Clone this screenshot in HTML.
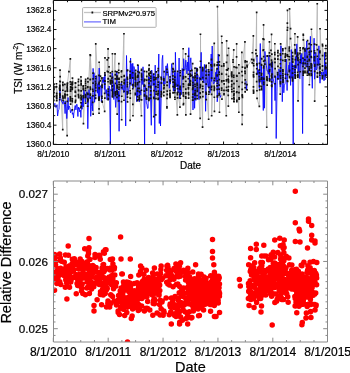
<!DOCTYPE html>
<html><head><meta charset="utf-8"><style>html,body{margin:0;padding:0;background:#fff;width:350px;height:373px;overflow:hidden}svg{display:block}</style></head>
<body><svg width="350" height="373" viewBox="0 0 350 373">
<rect width="350" height="373" fill="#fff"/>
<defs><clipPath id="c1"><rect x="53.5" y="0.5" width="274" height="144"/></clipPath><clipPath id="c2"><rect x="53.5" y="181" width="274" height="161"/></clipPath></defs>
<g clip-path="url(#c1)">
<polyline points="53.6,86.7 53.7,86.8 53.7,100.4 53.8,88.3 53.9,96.6 53.9,84.0 54.0,92.5 54.0,89.7 56.4,86.8 56.5,97.4 56.5,95.9 56.5,83.8 56.6,86.9 56.6,97.3 56.7,100.8 56.7,93.2 56.7,98.4 56.7,100.6 56.7,95.8 56.7,93.9 59.7,85.3 59.7,88.4 59.8,93.5 59.8,99.7 59.8,87.0 59.8,88.9 59.8,81.3 59.8,95.0 59.9,89.8 59.9,97.1 59.9,85.6 60.0,94.3 60.0,94.5 60.0,90.3 60.0,70.0 60.2,76.6 60.2,81.6 62.7,129.6 62.8,96.1 62.8,84.5 62.8,82.4 62.9,90.2 62.9,85.4 63.0,97.3 63.0,97.6 63.0,100.3 63.1,98.1 64.9,94.1 64.9,84.3 64.9,97.9 64.9,95.8 65.0,96.3 65.0,95.2 65.1,96.7 65.2,103.3 65.2,94.7 65.2,91.4 67.1,135.7 67.2,87.3 67.2,83.5 67.3,90.8 67.3,88.2 67.3,89.3 67.4,85.5 67.4,94.9 67.4,94.9 67.4,101.5 67.4,84.9 67.4,91.2 67.5,83.0 68.9,71.5 70.3,59.0 70.3,101.0 70.3,81.8 70.4,96.7 70.4,99.1 70.4,91.2 70.4,97.6 70.5,89.7 70.6,87.7 70.6,91.1 70.7,84.2 70.7,86.7 70.7,104.1 72.1,82.9 72.1,87.3 72.2,84.9 72.2,100.9 72.2,82.9 72.3,101.5 72.4,99.0 72.4,110.0 72.4,89.4 72.4,84.2 72.4,82.1 72.4,82.1 72.4,87.6 72.5,78.0 75.3,91.5 75.3,91.8 75.4,102.3 75.4,96.1 75.4,82.8 75.5,92.2 75.6,83.1 75.6,82.7 75.6,101.3 75.6,87.3 75.6,100.2 78.4,81.6 78.4,94.6 78.5,90.1 78.6,79.5 78.6,96.1 78.6,85.2 78.6,97.6 78.7,90.7 80.9,107.5 80.9,77.0 80.9,95.2 81.0,102.8 81.1,98.2 81.1,80.6 81.1,90.9 81.1,84.6 81.2,81.4 81.2,83.7 81.2,84.9 81.2,106.3 81.2,96.9 81.2,99.5 83.2,95.9 83.2,86.5 83.2,88.3 83.3,89.6 83.3,86.0 83.3,89.1 83.4,97.6 83.4,123.5 85.4,85.5 85.4,90.5 85.5,95.4 85.5,94.6 85.5,96.6 85.5,81.2 85.5,83.1 85.5,88.2 85.6,85.6 85.6,97.3 85.6,103.3 85.7,95.6 85.7,79.4 87.6,106.2 87.7,98.6 87.7,101.7 87.7,93.4 87.7,87.2 87.7,87.3 87.7,94.4 87.7,100.2 87.8,87.0 87.8,87.1 87.9,78.5 87.9,81.8 88.0,99.9 88.0,94.1 90.1,54.7 90.2,79.6 90.2,87.2 90.3,98.2 90.3,94.7 90.3,79.4 90.4,88.0 90.4,94.1 90.4,95.4 90.4,89.3 90.4,55.5 92.8,102.5 92.8,89.2 93.0,95.9 93.0,91.0 93.0,78.9 93.0,83.1 93.1,73.0 93.1,114.0 95.4,81.5 95.5,95.2 95.6,84.7 95.6,85.9 95.6,98.3 95.6,76.5 95.7,78.7 95.7,98.0 95.7,90.5 95.7,87.9 95.7,83.2 95.7,90.8 95.7,44.0 98.9,99.2 98.9,98.2 98.9,83.9 99.0,75.5 99.0,100.0 99.0,99.7 99.0,113.3 99.1,108.9 99.1,97.5 99.1,97.0 99.1,88.7 99.1,98.7 99.2,87.9 99.2,82.2 99.2,62.3 100.4,80.9 100.4,76.1 101.9,85.6 101.9,96.3 101.9,98.2 101.9,77.9 102.0,78.6 102.0,85.0 102.1,87.4 102.2,101.9 102.2,101.4 102.3,102.2 104.7,111.3 104.7,93.3 104.8,81.0 104.8,84.1 104.8,72.8 104.9,98.0 104.9,75.1 104.9,81.1 105.0,58.0 107.2,60.0 107.3,71.4 108.1,49.0 108.1,81.8 108.1,94.4 108.1,71.8 108.1,78.9 108.1,99.8 108.2,98.5 108.2,91.4 108.2,89.2 108.4,78.6 108.4,99.1 108.4,95.5 108.4,58.0 109.0,66.8 110.3,76.1 110.3,80.2 110.3,83.2 110.4,81.6 110.4,72.9 110.4,84.0 110.4,76.2 110.5,83.4 112.0,80.4 112.0,78.2 112.3,71.6 112.3,81.5 112.3,82.9 112.3,90.7 112.3,86.8 112.3,77.2 112.4,96.3 112.4,53.8 112.4,85.5 112.6,93.7 112.6,94.9 112.6,89.2 112.6,96.8 112.6,92.3 112.6,93.9 115.1,54.0 115.1,93.1 115.2,78.9 115.3,79.0 115.3,74.6 115.3,83.4 115.3,71.4 115.3,91.8 115.4,94.7 115.4,95.5 115.4,74.9 116.9,91.2 117.0,97.5 117.0,71.8 117.0,76.8 117.0,79.2 117.0,85.4 117.0,76.2 117.1,87.9 117.1,86.3 117.1,91.6 117.2,114.0 117.2,92.6 117.3,78.5 117.3,93.3 117.3,94.1 118.7,70.2 118.8,63.6 118.9,72.7 118.9,100.8 118.9,89.0 119.0,79.3 119.0,84.4 119.0,87.1 119.0,87.1 119.0,78.5 119.1,79.0 119.1,82.2 119.1,95.5 119.1,84.5 121.4,71.7 121.4,84.9 121.5,76.9 121.6,70.8 121.6,101.7 121.7,119.8 121.7,87.6 121.7,81.9 121.8,96.3 123.9,33.8 124.0,100.2 124.1,76.3 124.1,83.7 124.1,82.2 124.1,75.6 124.2,91.5 124.3,80.0 127.3,94.4 127.3,91.7 127.3,70.7 127.4,77.5 127.4,86.6 127.4,92.6 127.4,82.5 127.4,84.5 127.5,97.0 127.5,93.5 127.5,78.7 127.5,79.4 127.5,101.9 127.5,70.2 130.1,71.5 130.1,83.3 130.1,90.8 130.2,74.9 130.2,78.2 130.2,76.3 130.2,120.4 130.2,75.2 130.3,98.2 130.3,76.4 130.3,93.4 130.3,61.7 132.6,78.0 132.8,72.8 132.8,88.6 132.8,85.8 132.9,85.1 132.9,104.5 132.9,84.6 133.0,115.7 135.3,85.2 135.3,84.2 135.3,82.6 135.4,74.8 135.4,79.1 135.4,93.4 135.4,77.6 135.4,94.7 135.4,73.3 135.4,76.2 135.5,86.5 135.6,79.6 135.6,77.3 135.6,70.3 137.4,84.7 137.5,91.1 137.5,100.6 137.5,96.8 137.6,83.3 137.6,83.9 137.6,82.8 137.6,77.1 137.7,99.9 137.7,71.7 137.7,76.0 137.7,90.7 137.8,88.3 137.8,65.0 138.0,76.7 138.0,75.4 139.3,99.4 139.3,97.7 139.4,88.5 139.4,72.3 139.4,97.9 139.4,72.7 139.4,82.0 139.5,91.8 139.5,99.6 139.5,98.3 139.6,95.8 141.4,115.7 141.4,70.3 141.5,90.2 141.5,74.1 141.5,100.0 141.6,69.5 141.6,79.6 141.6,75.7 141.6,76.9 144.3,85.0 144.3,71.5 144.3,86.3 144.4,91.0 144.4,80.9 144.4,96.0 144.6,94.5 144.6,79.5 146.4,96.0 146.4,98.6 146.5,88.7 146.5,80.2 146.6,97.7 146.6,99.1 146.6,80.0 146.7,71.7 146.7,96.9 146.7,90.2 146.7,76.3 148.8,86.9 148.8,74.0 148.8,98.2 148.8,79.7 148.8,70.2 148.8,70.1 148.9,79.7 148.9,100.4 148.9,99.6 148.9,83.4 149.0,99.8 149.0,68.9 149.1,65.0 149.2,75.5 149.3,73.3 150.6,94.9 150.6,71.7 150.6,98.3 150.7,72.5 150.7,73.2 150.7,87.6 150.7,86.4 150.8,90.8 150.8,78.4 150.9,80.9 150.9,76.3 153.7,116.6 153.8,74.0 153.8,97.4 153.9,98.4 154.0,79.9 154.0,90.6 154.0,84.1 154.0,77.4 154.1,79.6 155.7,114.8 155.8,79.2 155.9,86.8 156.0,98.5 156.1,77.8 156.1,94.1 156.1,71.9 156.1,91.7 158.0,93.9 158.0,94.9 158.1,99.3 158.1,87.3 158.1,99.4 158.2,77.0 158.2,84.8 158.2,75.0 158.2,70.8 158.2,82.2 158.2,91.1 158.3,93.0 158.3,68.7 158.3,98.3 158.3,76.0 161.2,77.4 161.2,94.7 161.3,96.7 161.3,91.6 161.3,78.7 161.4,82.9 161.4,94.8 161.5,79.5 161.5,93.8 161.5,93.1 161.5,83.0 163.8,95.6 163.9,80.4 163.9,92.1 163.9,88.6 163.9,78.7 164.1,85.2 164.1,87.5 164.1,85.3 164.2,71.7 167.0,107.8 167.0,106.9 167.0,69.4 167.1,98.5 167.1,85.2 167.2,72.3 167.2,94.5 167.2,82.1 167.3,91.1 167.3,94.7 167.3,85.5 169.9,93.3 169.9,94.6 169.9,90.5 170.0,97.5 170.0,77.0 170.1,93.5 170.1,96.3 170.1,79.7 170.1,81.5 172.8,79.1 172.8,68.6 172.9,75.8 172.9,79.0 172.9,71.9 173.0,92.9 173.0,82.1 173.1,86.6 173.1,63.6 173.3,69.4 173.4,69.5 174.7,80.0 174.7,92.6 174.8,83.5 174.8,87.6 174.8,82.0 174.8,86.3 174.8,97.2 174.8,77.1 174.8,85.1 174.9,90.5 174.9,71.3 175.0,99.3 175.1,84.5 177.4,114.8 177.4,92.9 177.4,94.7 177.6,88.8 177.6,97.9 177.6,71.4 177.7,85.5 177.7,92.4 180.0,107.0 180.0,89.2 180.1,87.9 180.1,94.8 180.2,87.0 180.2,86.4 180.2,72.7 180.3,75.6 180.3,93.0 180.3,98.2 180.3,70.8 180.4,93.3 183.2,48.8 183.2,92.8 183.2,78.3 183.3,83.7 183.3,95.2 183.3,69.9 183.4,104.7 183.4,84.4 183.4,96.0 183.4,77.4 183.4,95.1 183.4,76.6 183.5,78.5 183.5,86.5 183.6,103.5 185.6,54.0 185.6,97.0 185.7,76.9 185.7,92.7 185.7,89.2 185.8,81.2 185.8,93.7 185.8,97.6 185.8,115.0 185.9,98.2 188.3,56.3 188.3,74.3 188.4,93.4 188.4,78.7 188.4,87.7 188.4,84.9 188.4,89.0 188.5,87.6 188.5,92.7 188.6,98.0 188.6,85.2 188.6,94.6 188.7,98.1 188.7,84.1 190.2,85.0 190.3,80.7 190.3,83.2 190.3,74.6 190.4,84.8 190.4,76.3 190.4,74.1 190.4,81.1 190.5,70.9 190.6,114.0 191.7,75.4 191.8,70.5 192.6,63.6 192.7,89.4 192.7,100.0 192.7,97.1 192.7,88.8 192.8,97.5 192.8,82.6 192.9,94.2 192.9,77.4 192.9,85.3 192.9,100.1 193.0,87.7 195.0,84.3 195.0,93.6 195.0,77.8 195.0,95.0 195.0,68.0 195.0,75.3 195.1,73.3 195.1,76.0 195.1,98.8 195.1,68.2 195.1,77.3 195.1,86.5 195.2,90.8 195.2,93.1 195.2,80.1 197.0,69.3 197.0,95.5 197.0,70.9 197.1,69.0 197.1,74.6 197.2,83.4 197.2,98.6 197.2,91.3 197.3,85.8 197.3,84.3 197.3,90.1 197.3,87.9 197.4,78.1 197.4,69.8 200.1,118.3 200.1,92.8 200.1,87.7 200.1,93.3 200.1,67.3 200.2,96.9 200.3,78.9 200.4,97.7 200.4,86.3 200.5,84.6 200.5,34.3 200.6,61.3 202.6,127.0 202.7,88.7 202.7,70.5 202.7,86.2 202.8,77.5 202.8,67.6 202.8,69.6 202.8,81.8 202.9,96.7 202.9,91.9 202.9,69.2 206.0,67.6 206.0,99.8 206.0,75.2 206.0,66.3 206.0,71.5 206.0,71.4 206.0,78.4 206.0,92.3 206.2,65.3 206.2,94.0 206.2,99.5 206.2,84.0 208.6,119.2 208.7,71.7 208.7,69.8 208.7,74.9 208.8,94.3 208.9,63.2 208.9,91.8 208.9,87.5 211.0,65.0 211.4,59.6 211.4,64.8 211.5,89.6 211.5,87.3 211.5,59.4 211.5,94.3 211.5,70.1 211.6,78.1 211.7,66.5 211.7,86.3 211.7,115.7 214.2,43.5 214.2,90.5 214.3,80.3 214.3,86.5 214.3,89.2 214.4,97.2 214.4,64.4 214.4,87.8 214.4,65.7 214.5,111.3 214.6,78.3 217.1,65.3 217.2,64.9 217.2,86.0 217.2,89.4 217.2,75.1 217.2,75.9 217.3,68.9 217.3,81.0 217.3,83.2 217.4,96.9 217.5,62.4 217.5,95.9 217.5,6.5 219.1,74.4 219.1,89.1 219.1,93.6 219.1,55.3 219.1,72.2 219.2,85.1 219.2,94.9 219.3,65.1 219.3,79.6 219.3,61.9 219.4,93.7 219.5,112.2 221.6,36.3 221.6,90.2 221.6,88.1 221.7,66.0 221.7,81.6 221.7,73.6 221.7,74.2 221.9,80.8 222.0,99.2 222.0,42.7 223.8,80.9 223.8,63.8 223.9,66.0 223.9,94.6 223.9,90.3 224.1,94.0 224.1,83.9 224.2,83.8 226.3,115.7 226.4,90.4 226.5,74.4 226.5,81.0 226.5,79.9 226.5,87.5 226.5,69.9 226.6,62.4 226.6,41.0 227.3,70.2 227.4,55.4 228.2,68.6 228.2,95.4 228.2,89.9 228.3,91.2 228.3,79.1 228.4,106.0 228.5,79.9 228.5,82.4 228.5,81.7 228.5,86.5 228.6,76.3 228.6,48.3 231.6,86.7 231.6,81.0 231.6,75.5 231.7,73.9 231.7,89.5 231.7,74.4 231.8,84.7 231.8,72.1 231.8,91.8 231.9,76.7 231.9,80.8 231.9,98.8 233.0,62.0 233.0,59.8 233.7,50.0 233.7,91.3 233.7,75.4 233.7,95.5 233.8,77.3 233.8,101.5 233.9,97.8 233.9,88.3 233.9,95.2 233.9,83.7 233.9,91.2 234.1,66.8 234.1,101.5 234.1,94.0 234.1,99.0 236.0,67.5 236.6,57.0 236.6,43.9 236.7,92.4 236.7,67.6 236.8,100.4 236.8,75.5 236.9,101.7 236.9,91.9 236.9,81.1 236.9,76.2 238.9,112.2 238.9,64.7 238.9,86.7 239.0,92.5 239.0,98.0 239.0,86.5 239.1,99.2 239.1,73.2 239.1,99.3 239.2,98.4 241.9,52.4 241.9,71.6 242.1,124.4 242.2,95.7 242.2,89.3 242.2,89.3 242.2,94.9 242.3,82.5 242.3,114.8 242.4,75.5 242.4,95.9 242.4,97.4 242.4,67.0 244.9,41.9 244.9,71.3 245.0,67.5 245.0,68.1 245.0,83.6 245.1,71.5 245.1,87.8 245.2,62.0 245.2,73.3 245.2,91.8 245.2,60.8 245.3,79.8 247.0,84.5 247.0,61.6 247.0,89.9 247.1,65.4 247.2,66.9 251.7,59.4 252.3,63.0 252.4,52.7 253.4,36.0 253.4,90.3 253.5,63.8 253.5,87.0 253.5,74.7 253.5,63.8 253.5,75.9 253.5,93.1 253.6,91.3 253.6,72.4 253.6,59.6 253.6,92.1 253.6,60.7 253.7,76.9 253.7,65.8 256.0,53.6 256.0,50.1 256.6,12.3 256.7,81.5 256.7,73.6 256.8,68.7 256.8,64.8 256.8,74.2 256.9,63.8 257.0,65.0 257.0,90.8 257.0,55.8 257.0,98.3 259.3,106.4 259.4,69.9 259.4,76.7 259.4,63.3 259.4,79.2 259.5,80.6 259.5,81.5 259.6,72.9 259.7,89.8 259.7,86.1 261.4,75.2 261.4,79.1 261.5,64.7 261.5,88.2 261.6,77.7 261.6,86.5 261.6,65.1 261.6,89.6 261.7,58.7 261.7,73.6 261.7,58.8 263.1,39.0 263.1,50.5 263.6,24.9 263.6,49.7 263.6,56.7 263.7,67.8 263.7,61.1 263.7,84.3 263.7,82.5 263.8,66.2 263.8,84.5 263.8,78.5 263.8,79.1 263.9,39.5 264.8,64.2 264.9,60.3 266.8,127.2 266.9,76.8 266.9,79.6 266.9,79.7 267.0,78.4 267.1,55.8 267.1,56.2 267.1,80.5 267.2,85.0 269.5,41.9 269.5,52.9 269.5,71.3 269.6,55.7 269.6,78.9 269.6,64.5 269.7,80.9 269.7,55.9 269.7,69.9 269.8,56.0 269.8,79.9 271.0,50.4 271.5,34.4 271.6,60.2 271.6,85.8 271.6,75.9 271.7,63.7 271.7,82.0 271.7,65.2 271.7,85.0 271.8,62.3 271.8,86.5 271.8,54.0 271.9,77.7 271.9,62.1 271.9,66.7 271.9,74.2 274.8,52.5 274.8,43.7 274.9,54.5 274.9,76.9 275.0,58.6 275.0,76.5 275.0,62.4 275.1,59.1 275.1,83.7 275.1,68.6 277.6,72.9 277.6,74.8 277.8,78.8 277.9,59.2 277.9,52.7 277.9,66.3 277.9,55.9 277.9,50.6 280.3,94.0 280.4,71.2 280.4,63.7 280.4,53.9 280.4,75.9 280.4,67.9 280.5,55.2 280.5,83.7 280.5,82.5 280.5,81.7 280.6,78.2 280.6,59.8 280.6,59.6 280.7,44.0 282.7,53.7 282.7,70.1 282.8,50.7 282.8,48.8 282.9,73.5 282.9,60.4 282.9,71.4 282.9,75.8 282.9,77.7 282.9,70.0 282.9,82.2 283.0,71.5 283.0,80.9 283.1,79.8 285.2,59.9 285.3,57.0 285.3,61.3 285.3,56.4 285.3,53.8 285.4,78.3 285.5,48.4 285.5,53.9 285.5,74.3 285.5,55.4 287.4,30.1 287.4,81.0 287.4,23.1 287.4,55.0 287.5,10.4 287.5,56.2 287.5,27.7 287.6,56.3 287.7,81.4 287.7,74.6 289.2,48.8 289.3,71.2 289.3,59.6 289.4,71.7 289.4,56.7 289.4,50.9 289.4,47.0 289.4,56.7 289.5,76.6 289.5,77.7 289.6,70.3 289.6,8.9 290.6,28.6 290.6,38.6 292.4,52.6 292.4,58.2 292.4,77.4 292.5,80.5 292.5,61.3 292.5,73.0 292.5,78.6 292.6,80.8 292.6,56.1 292.6,68.7 292.7,59.4 292.8,62.1 292.8,61.9 292.8,66.2 294.7,44.8 294.9,33.8 295.0,72.2 295.0,69.7 295.1,74.8 295.1,50.6 295.2,53.6 295.2,66.2 295.3,78.2 295.3,49.5 295.3,52.3 295.3,66.1 295.3,67.3 295.3,75.8 295.3,76.8 295.3,59.6 297.0,56.4 297.7,37.0 297.7,75.4 297.7,72.5 297.7,74.7 297.8,58.5 297.8,54.8 297.8,53.2 297.8,75.4 297.8,77.1 297.9,57.6 298.0,75.5 298.0,58.1 298.0,60.5 298.0,64.6 298.0,100.8 299.9,53.7 300.0,53.7 300.0,53.5 300.1,62.4 300.2,47.8 300.2,71.7 300.2,50.4 300.3,59.9 303.0,66.3 303.0,48.6 303.0,58.1 303.0,63.6 303.1,63.1 303.2,75.1 303.2,71.3 303.2,48.0 303.2,73.0 303.3,34.4 303.3,40.0 303.4,35.3 304.8,49.0 304.8,60.0 304.9,68.0 304.9,71.4 305.0,71.7 305.1,51.0 305.1,72.7 305.2,63.3 307.2,66.5 307.2,72.9 307.3,57.2 307.4,75.3 307.4,63.8 307.4,71.3 307.5,56.3 307.5,61.5 307.6,49.0 307.6,40.7 309.1,73.9 309.1,48.2 309.1,68.8 309.1,67.0 309.2,43.8 309.2,74.8 309.2,59.4 309.2,52.0 309.2,43.6 309.2,70.1 309.3,54.4 309.4,60.6 309.4,84.8 311.1,63.9 311.1,56.5 311.2,70.9 311.2,66.0 311.2,67.9 311.2,51.4 311.3,44.8 311.3,73.5 311.3,75.5 311.3,65.2 311.3,75.0 311.4,67.4 311.4,63.9 311.4,57.3 311.4,29.3 314.4,60.1 314.4,50.7 314.4,57.9 314.5,60.8 314.6,44.0 314.6,56.8 314.6,52.9 314.6,65.2 314.6,71.5 314.6,64.5 314.7,66.3 314.7,101.0 316.6,44.8 317.3,3.7 317.3,56.5 317.4,72.9 317.4,76.5 317.4,49.6 317.4,76.3 317.5,77.1 317.5,73.5 317.5,64.6 319.7,72.2 319.8,64.4 319.8,75.3 319.9,52.1 319.9,59.1 319.9,67.1 320.0,51.1 320.0,68.7 320.0,52.7 320.0,73.2 320.1,71.8 320.1,28.8 322.4,78.6 322.4,66.0 322.5,70.4 322.5,44.5 322.5,44.5 322.5,55.6 322.5,77.0 322.6,65.9 322.6,75.9 322.6,45.9 325.6,75.5 325.6,75.0 325.6,66.3 325.6,59.2 325.6,68.9 325.7,52.7 325.7,53.9 325.7,68.6 325.7,63.2 325.8,53.3 325.8,55.8 325.9,45.7 325.9,68.0" fill="none" stroke="#b0b0b0" stroke-width="0.8" stroke-linejoin="round"/>
<polyline points="53.6,106.8 54.4,104.4 54.9,103.3 55.3,107.1 55.8,107.6 56.5,107.1 57.0,104.7 57.6,116.0 58.4,110.2 59.0,109.6 59.8,87.7 60.6,98.3 61.1,98.9 61.9,102.3 62.5,102.1 63.0,104.2 63.4,101.8 63.9,100.7 64.3,102.5 65.1,113.6 65.7,101.1 66.1,104.9 66.8,118.6 67.5,108.2 68.1,97.5 68.5,109.6 69.1,105.9 69.9,107.8 70.5,112.7 71.1,110.7 71.8,109.6 72.4,114.3 73.0,112.9 73.5,118.0 73.9,113.2 74.3,111.1 75.0,105.5 75.4,105.7 75.9,109.9 76.5,104.5 77.1,104.3 77.9,116.5 78.4,107.1 78.8,109.2 79.2,107.7 79.8,111.9 80.3,110.1 80.9,117.4 81.6,102.0 82.1,109.3 82.8,97.5 83.2,106.9 83.8,89.9 84.6,94.3 85.4,102.1 86.0,95.5 86.9,91.7 87.3,97.7 87.8,128.7 88.4,104.0 89.0,89.6 89.8,97.8 90.3,96.7 90.7,116.3 91.4,106.3 91.9,96.1 92.7,111.0 93.1,68.4 93.6,79.3 94.1,72.7 94.6,102.3 95.2,87.9 95.7,83.2 96.1,80.0 96.7,75.6 97.4,93.2 97.9,83.8 98.4,99.0 98.8,86.4 99.2,68.0 99.7,96.8 100.2,85.5 101.0,87.7 101.4,101.8 102.0,83.9 102.7,79.7 103.3,82.5 103.9,77.0 104.4,89.5 104.9,73.7 105.3,92.6 106.0,93.5 106.4,89.6 106.8,99.8 107.6,99.6 108.1,90.1 108.7,96.6 109.2,85.9 109.7,100.3 110.4,146.0 110.8,89.4 111.3,90.9 112.1,73.0 112.6,75.2 113.4,80.7 113.8,99.5 114.4,84.4 115.1,96.9 115.7,107.4 116.4,95.3 116.8,71.2 117.4,93.6 118.1,102.1 118.5,91.2 119.1,131.3 119.7,96.1 120.3,85.6 120.9,83.7 121.5,82.2 122.2,89.6 123.0,85.0 123.7,92.6 124.5,88.3 125.2,78.7 125.7,126.0 126.1,90.6 126.5,55.5 127.0,78.6 127.4,82.9 128.1,93.8 128.8,89.2 129.5,85.6 130.0,74.3 130.6,58.0 131.1,85.5 131.9,63.7 132.3,78.6 132.8,63.3 133.4,88.1 133.9,66.5 134.6,69.6 135.2,82.7 135.8,79.8 136.1,81.0 136.6,101.6 137.3,88.9 137.8,96.1 138.2,65.0 138.8,74.4 139.3,102.0 140.1,90.0 140.8,95.1 141.5,72.7 142.3,84.5 143.0,66.8 143.5,76.1 144.2,108.2 144.6,146.0 145.1,84.8 145.6,90.6 146.0,99.0 146.4,103.1 146.9,104.0 147.6,108.6 148.1,108.1 148.5,76.6 149.0,86.8 149.5,77.3 150.2,86.2 150.6,99.0 151.3,125.3 151.7,70.0 152.3,74.8 153.1,85.7 153.6,75.1 154.2,77.8 154.8,134.0 155.2,65.1 155.5,89.7 156.3,91.7 156.8,89.9 157.5,77.6 158.1,78.5 158.8,54.0 159.3,123.5 159.9,81.4 160.5,126.0 161.2,98.4 161.6,83.0 162.1,59.8 162.7,55.3 163.4,84.4 163.8,76.4 164.4,83.9 165.1,84.1 165.8,66.0 166.3,65.8 166.9,75.5 167.4,63.6 167.9,70.0 168.4,73.3 169.3,88.3 169.6,79.6 170.4,84.1 170.8,78.9 171.2,72.7 171.7,63.6 172.2,67.8 172.9,81.6 173.7,91.2 174.5,72.4 175.1,91.2 175.4,52.3 176.1,82.1 176.9,87.0 177.3,72.5 178.1,92.9 178.4,87.6 179.1,58.0 179.7,98.9 180.5,89.1 181.3,94.7 181.7,85.1 182.3,68.4 182.8,79.9 183.3,77.7 183.7,58.7 184.3,70.0 184.8,70.3 185.2,69.5 185.8,60.2 186.5,67.5 186.9,73.9 187.7,62.0 188.3,70.9 188.8,47.7 189.6,83.1 190.2,63.7 190.8,57.8 191.3,67.9 192.1,71.4 192.5,80.1 193.0,110.0 193.5,83.3 193.9,76.3 194.6,108.3 195.2,88.4 195.9,100.5 196.7,67.6 197.3,84.9 197.8,74.8 198.4,96.3 199.0,99.7 199.5,76.9 200.0,77.4 200.5,80.2 201.2,52.3 201.6,80.3 202.5,79.2 202.9,69.5 203.4,78.0 203.9,83.0 204.4,64.4 204.9,72.4 205.6,111.3 206.4,70.6 206.9,69.1 207.6,83.6 208.2,87.4 208.7,83.0 209.1,71.2 209.9,93.3 210.5,89.0 211.2,54.0 211.5,81.4 212.2,46.0 212.7,74.8 213.3,84.1 214.0,83.4 214.4,81.8 215.0,81.9 215.8,72.2 216.2,81.9 216.8,68.4 217.2,101.8 217.7,97.3 218.3,54.0 218.8,88.8 219.5,92.0 220.3,97.4 221.0,95.3" fill="none" stroke="#0000ff" stroke-width="0.85" stroke-linejoin="round"/>
<polyline points="256.8,55.5 257.6,73.9 258.4,70.1 258.9,80.0 259.3,88.4 259.7,64.3 260.3,43.5 261.0,81.8 261.4,64.2 262.0,84.5 262.5,76.5 263.3,110.5 263.7,68.6 264.4,108.2 264.9,51.4 265.6,59.2 266.4,65.7 267.1,71.0 267.9,71.1 268.4,74.2 268.9,55.2 269.3,81.2 269.8,64.3 270.2,63.3 270.9,65.0 271.3,70.9 271.8,114.0 272.5,61.8 273.2,78.7 274.1,83.8 274.6,83.5 275.0,100.6 275.7,76.3 276.2,138.5 277.0,91.2 277.3,71.8 277.7,78.5 278.4,79.3 279.0,68.9 279.7,77.1 280.3,87.1 280.9,45.8 281.4,74.9 281.8,76.7 282.3,101.7 282.9,74.2 283.4,84.1 283.8,92.8 284.4,85.1 285.0,83.9 285.4,78.3 286.3,59.0 287.1,90.5 287.4,74.6 288.0,71.6 288.5,67.9 289.0,65.0 289.4,70.7 289.8,62.3 290.2,74.8 290.6,85.4 291.3,49.5 291.7,78.3 292.5,63.5 293.2,146.0 293.7,65.6 294.4,64.9 295.2,78.6 295.6,56.5 296.2,68.5 296.8,43.9 297.3,60.9 297.8,54.3 298.2,71.8 298.9,60.8 299.4,78.0 299.9,78.7 300.7,54.7 301.3,64.0 301.8,53.3 302.6,133.6 303.2,58.4 303.9,65.4 304.3,60.0 305.0,47.7 305.5,58.6 306.1,67.2 306.7,41.0 307.1,51.9 307.9,71.0 308.6,73.8 309.4,49.8 309.9,57.9 310.4,36.3 310.8,62.5 311.3,73.5 311.8,74.0 312.3,88.3 312.8,64.2 313.3,63.9 314.1,38.2 314.6,79.2 315.4,66.9 315.8,52.4 316.2,70.0 317.0,68.2 317.4,58.1 317.8,60.4 318.4,65.4 318.9,45.8 319.4,76.4 320.0,83.2 320.7,76.5 321.1,75.5 321.7,72.0 322.3,78.5 323.1,71.8 323.5,72.0 324.0,80.8 324.6,52.4 325.0,79.9 325.7,63.4 326.5,76.1 327.1,66.9" fill="none" stroke="#0000ff" stroke-width="0.85" stroke-linejoin="round"/>
<polyline points="245.9,81.0 246.4,90.0 246.9,84.0" fill="none" stroke="#0000ff" stroke-width="0.85" stroke-linejoin="round"/>
<path d="M52.8,85.8h1.7v1.7h-1.7zM52.8,85.9h1.7v1.7h-1.7zM52.9,99.5h1.7v1.7h-1.7zM53.0,87.5h1.7v1.7h-1.7zM53.0,95.8h1.7v1.7h-1.7zM53.1,83.2h1.7v1.7h-1.7zM53.1,91.7h1.7v1.7h-1.7zM53.1,88.8h1.7v1.7h-1.7zM55.6,86.0h1.7v1.7h-1.7zM55.6,96.5h1.7v1.7h-1.7zM55.6,95.0h1.7v1.7h-1.7zM55.6,82.9h1.7v1.7h-1.7zM55.7,86.0h1.7v1.7h-1.7zM55.8,96.5h1.7v1.7h-1.7zM55.8,99.9h1.7v1.7h-1.7zM55.8,92.4h1.7v1.7h-1.7zM55.9,97.5h1.7v1.7h-1.7zM55.9,99.8h1.7v1.7h-1.7zM55.9,94.9h1.7v1.7h-1.7zM55.9,93.0h1.7v1.7h-1.7zM58.9,84.5h1.7v1.7h-1.7zM58.9,87.5h1.7v1.7h-1.7zM58.9,92.7h1.7v1.7h-1.7zM58.9,98.8h1.7v1.7h-1.7zM59.0,86.1h1.7v1.7h-1.7zM59.0,88.0h1.7v1.7h-1.7zM59.0,80.4h1.7v1.7h-1.7zM59.0,94.2h1.7v1.7h-1.7zM59.0,89.0h1.7v1.7h-1.7zM59.0,96.2h1.7v1.7h-1.7zM59.1,84.7h1.7v1.7h-1.7zM59.1,93.4h1.7v1.7h-1.7zM59.2,93.7h1.7v1.7h-1.7zM59.2,89.4h1.7v1.7h-1.7zM59.2,69.2h1.7v1.7h-1.7zM59.3,75.8h1.7v1.7h-1.7zM59.4,80.8h1.7v1.7h-1.7zM61.9,128.8h1.7v1.7h-1.7zM61.9,95.3h1.7v1.7h-1.7zM62.0,83.7h1.7v1.7h-1.7zM62.0,81.6h1.7v1.7h-1.7zM62.0,89.4h1.7v1.7h-1.7zM62.1,84.6h1.7v1.7h-1.7zM62.1,96.4h1.7v1.7h-1.7zM62.2,96.8h1.7v1.7h-1.7zM62.2,99.5h1.7v1.7h-1.7zM62.2,97.3h1.7v1.7h-1.7zM64.0,93.3h1.7v1.7h-1.7zM64.0,83.5h1.7v1.7h-1.7zM64.1,97.0h1.7v1.7h-1.7zM64.1,95.0h1.7v1.7h-1.7zM64.1,95.4h1.7v1.7h-1.7zM64.1,94.4h1.7v1.7h-1.7zM64.2,95.8h1.7v1.7h-1.7zM64.3,102.4h1.7v1.7h-1.7zM64.4,93.8h1.7v1.7h-1.7zM64.4,90.5h1.7v1.7h-1.7zM66.3,134.8h1.7v1.7h-1.7zM66.3,86.4h1.7v1.7h-1.7zM66.4,82.7h1.7v1.7h-1.7zM66.4,90.0h1.7v1.7h-1.7zM66.5,87.3h1.7v1.7h-1.7zM66.5,88.4h1.7v1.7h-1.7zM66.5,84.7h1.7v1.7h-1.7zM66.5,94.1h1.7v1.7h-1.7zM66.5,94.1h1.7v1.7h-1.7zM66.5,100.6h1.7v1.7h-1.7zM66.5,84.0h1.7v1.7h-1.7zM66.6,90.3h1.7v1.7h-1.7zM66.7,82.2h1.7v1.7h-1.7zM68.1,70.7h1.7v1.7h-1.7zM69.5,58.1h1.7v1.7h-1.7zM69.5,100.1h1.7v1.7h-1.7zM69.5,81.0h1.7v1.7h-1.7zM69.5,95.9h1.7v1.7h-1.7zM69.5,98.3h1.7v1.7h-1.7zM69.6,90.3h1.7v1.7h-1.7zM69.6,96.8h1.7v1.7h-1.7zM69.7,88.8h1.7v1.7h-1.7zM69.8,86.9h1.7v1.7h-1.7zM69.8,90.3h1.7v1.7h-1.7zM69.8,83.4h1.7v1.7h-1.7zM69.8,85.9h1.7v1.7h-1.7zM69.8,103.3h1.7v1.7h-1.7zM71.3,82.1h1.7v1.7h-1.7zM71.3,86.4h1.7v1.7h-1.7zM71.3,84.0h1.7v1.7h-1.7zM71.4,100.1h1.7v1.7h-1.7zM71.4,82.0h1.7v1.7h-1.7zM71.5,100.7h1.7v1.7h-1.7zM71.5,98.1h1.7v1.7h-1.7zM71.5,109.1h1.7v1.7h-1.7zM71.5,88.5h1.7v1.7h-1.7zM71.5,83.3h1.7v1.7h-1.7zM71.5,81.3h1.7v1.7h-1.7zM71.5,81.2h1.7v1.7h-1.7zM71.6,86.7h1.7v1.7h-1.7zM71.6,77.2h1.7v1.7h-1.7zM74.4,90.6h1.7v1.7h-1.7zM74.4,91.0h1.7v1.7h-1.7zM74.5,101.5h1.7v1.7h-1.7zM74.5,95.2h1.7v1.7h-1.7zM74.5,82.0h1.7v1.7h-1.7zM74.6,91.4h1.7v1.7h-1.7zM74.7,82.3h1.7v1.7h-1.7zM74.7,81.9h1.7v1.7h-1.7zM74.7,100.4h1.7v1.7h-1.7zM74.7,86.4h1.7v1.7h-1.7zM74.8,99.4h1.7v1.7h-1.7zM77.5,80.8h1.7v1.7h-1.7zM77.5,93.7h1.7v1.7h-1.7zM77.7,89.2h1.7v1.7h-1.7zM77.7,78.6h1.7v1.7h-1.7zM77.7,95.2h1.7v1.7h-1.7zM77.8,84.4h1.7v1.7h-1.7zM77.8,96.8h1.7v1.7h-1.7zM77.8,89.9h1.7v1.7h-1.7zM80.0,106.7h1.7v1.7h-1.7zM80.1,76.1h1.7v1.7h-1.7zM80.1,94.4h1.7v1.7h-1.7zM80.1,101.9h1.7v1.7h-1.7zM80.2,97.3h1.7v1.7h-1.7zM80.3,79.8h1.7v1.7h-1.7zM80.3,90.0h1.7v1.7h-1.7zM80.3,83.8h1.7v1.7h-1.7zM80.3,80.6h1.7v1.7h-1.7zM80.3,82.8h1.7v1.7h-1.7zM80.3,84.1h1.7v1.7h-1.7zM80.4,105.4h1.7v1.7h-1.7zM80.4,96.0h1.7v1.7h-1.7zM80.4,98.7h1.7v1.7h-1.7zM82.3,95.0h1.7v1.7h-1.7zM82.3,85.6h1.7v1.7h-1.7zM82.4,87.5h1.7v1.7h-1.7zM82.4,88.7h1.7v1.7h-1.7zM82.4,85.1h1.7v1.7h-1.7zM82.5,88.2h1.7v1.7h-1.7zM82.6,96.8h1.7v1.7h-1.7zM82.6,122.7h1.7v1.7h-1.7zM84.6,84.6h1.7v1.7h-1.7zM84.6,89.6h1.7v1.7h-1.7zM84.6,94.5h1.7v1.7h-1.7zM84.6,93.8h1.7v1.7h-1.7zM84.7,95.7h1.7v1.7h-1.7zM84.7,80.4h1.7v1.7h-1.7zM84.7,82.2h1.7v1.7h-1.7zM84.7,87.3h1.7v1.7h-1.7zM84.7,84.7h1.7v1.7h-1.7zM84.8,96.5h1.7v1.7h-1.7zM84.8,102.4h1.7v1.7h-1.7zM84.8,94.7h1.7v1.7h-1.7zM84.8,78.5h1.7v1.7h-1.7zM86.8,105.4h1.7v1.7h-1.7zM86.8,97.8h1.7v1.7h-1.7zM86.8,100.8h1.7v1.7h-1.7zM86.8,92.5h1.7v1.7h-1.7zM86.8,86.3h1.7v1.7h-1.7zM86.9,86.5h1.7v1.7h-1.7zM86.9,93.5h1.7v1.7h-1.7zM86.9,99.3h1.7v1.7h-1.7zM86.9,86.1h1.7v1.7h-1.7zM87.0,86.3h1.7v1.7h-1.7zM87.0,77.6h1.7v1.7h-1.7zM87.1,81.0h1.7v1.7h-1.7zM87.1,99.0h1.7v1.7h-1.7zM87.1,93.3h1.7v1.7h-1.7zM89.3,53.9h1.7v1.7h-1.7zM89.3,78.7h1.7v1.7h-1.7zM89.4,86.3h1.7v1.7h-1.7zM89.4,97.3h1.7v1.7h-1.7zM89.5,93.9h1.7v1.7h-1.7zM89.5,78.6h1.7v1.7h-1.7zM89.5,87.2h1.7v1.7h-1.7zM89.6,93.3h1.7v1.7h-1.7zM89.6,94.5h1.7v1.7h-1.7zM89.6,88.5h1.7v1.7h-1.7zM89.6,54.6h1.7v1.7h-1.7zM91.9,101.6h1.7v1.7h-1.7zM91.9,88.4h1.7v1.7h-1.7zM92.1,95.0h1.7v1.7h-1.7zM92.2,90.2h1.7v1.7h-1.7zM92.2,78.1h1.7v1.7h-1.7zM92.2,82.2h1.7v1.7h-1.7zM92.2,72.2h1.7v1.7h-1.7zM92.3,113.2h1.7v1.7h-1.7zM94.6,80.6h1.7v1.7h-1.7zM94.6,94.4h1.7v1.7h-1.7zM94.7,83.9h1.7v1.7h-1.7zM94.7,85.0h1.7v1.7h-1.7zM94.7,97.5h1.7v1.7h-1.7zM94.7,75.7h1.7v1.7h-1.7zM94.8,77.9h1.7v1.7h-1.7zM94.8,97.2h1.7v1.7h-1.7zM94.9,89.7h1.7v1.7h-1.7zM94.9,87.1h1.7v1.7h-1.7zM94.9,82.4h1.7v1.7h-1.7zM94.9,89.9h1.7v1.7h-1.7zM94.9,43.1h1.7v1.7h-1.7zM98.0,98.4h1.7v1.7h-1.7zM98.0,97.4h1.7v1.7h-1.7zM98.1,83.1h1.7v1.7h-1.7zM98.1,74.6h1.7v1.7h-1.7zM98.1,99.2h1.7v1.7h-1.7zM98.2,98.9h1.7v1.7h-1.7zM98.2,112.4h1.7v1.7h-1.7zM98.2,108.1h1.7v1.7h-1.7zM98.2,96.6h1.7v1.7h-1.7zM98.3,96.2h1.7v1.7h-1.7zM98.3,87.8h1.7v1.7h-1.7zM98.3,97.9h1.7v1.7h-1.7zM98.3,87.0h1.7v1.7h-1.7zM98.3,81.4h1.7v1.7h-1.7zM98.3,61.4h1.7v1.7h-1.7zM99.6,80.1h1.7v1.7h-1.7zM99.6,75.3h1.7v1.7h-1.7zM101.1,84.8h1.7v1.7h-1.7zM101.1,95.5h1.7v1.7h-1.7zM101.1,97.4h1.7v1.7h-1.7zM101.1,77.1h1.7v1.7h-1.7zM101.1,77.7h1.7v1.7h-1.7zM101.2,84.2h1.7v1.7h-1.7zM101.2,86.5h1.7v1.7h-1.7zM101.3,101.0h1.7v1.7h-1.7zM101.4,100.6h1.7v1.7h-1.7zM101.4,101.3h1.7v1.7h-1.7zM103.8,110.5h1.7v1.7h-1.7zM103.8,92.5h1.7v1.7h-1.7zM103.9,80.1h1.7v1.7h-1.7zM103.9,83.2h1.7v1.7h-1.7zM104.0,72.0h1.7v1.7h-1.7zM104.0,97.2h1.7v1.7h-1.7zM104.1,74.2h1.7v1.7h-1.7zM104.1,80.3h1.7v1.7h-1.7zM104.1,57.1h1.7v1.7h-1.7zM106.4,59.1h1.7v1.7h-1.7zM106.5,70.6h1.7v1.7h-1.7zM107.2,48.1h1.7v1.7h-1.7zM107.2,80.9h1.7v1.7h-1.7zM107.2,93.5h1.7v1.7h-1.7zM107.3,71.0h1.7v1.7h-1.7zM107.3,78.0h1.7v1.7h-1.7zM107.3,98.9h1.7v1.7h-1.7zM107.4,97.6h1.7v1.7h-1.7zM107.4,90.5h1.7v1.7h-1.7zM107.4,88.3h1.7v1.7h-1.7zM107.5,77.7h1.7v1.7h-1.7zM107.5,98.3h1.7v1.7h-1.7zM107.6,94.6h1.7v1.7h-1.7zM107.6,57.1h1.7v1.7h-1.7zM108.2,66.0h1.7v1.7h-1.7zM109.4,75.3h1.7v1.7h-1.7zM109.4,79.4h1.7v1.7h-1.7zM109.5,82.3h1.7v1.7h-1.7zM109.5,80.7h1.7v1.7h-1.7zM109.5,72.1h1.7v1.7h-1.7zM109.6,83.1h1.7v1.7h-1.7zM109.6,75.3h1.7v1.7h-1.7zM109.6,82.6h1.7v1.7h-1.7zM111.1,79.6h1.7v1.7h-1.7zM111.1,77.4h1.7v1.7h-1.7zM111.4,70.8h1.7v1.7h-1.7zM111.4,80.7h1.7v1.7h-1.7zM111.4,82.1h1.7v1.7h-1.7zM111.5,89.8h1.7v1.7h-1.7zM111.5,85.9h1.7v1.7h-1.7zM111.5,76.4h1.7v1.7h-1.7zM111.5,95.5h1.7v1.7h-1.7zM111.6,52.9h1.7v1.7h-1.7zM111.6,84.7h1.7v1.7h-1.7zM111.7,92.8h1.7v1.7h-1.7zM111.7,94.1h1.7v1.7h-1.7zM111.8,88.3h1.7v1.7h-1.7zM111.8,96.0h1.7v1.7h-1.7zM111.8,91.4h1.7v1.7h-1.7zM111.8,93.1h1.7v1.7h-1.7zM114.2,53.1h1.7v1.7h-1.7zM114.3,92.3h1.7v1.7h-1.7zM114.4,78.0h1.7v1.7h-1.7zM114.4,78.1h1.7v1.7h-1.7zM114.4,73.7h1.7v1.7h-1.7zM114.5,82.6h1.7v1.7h-1.7zM114.5,70.5h1.7v1.7h-1.7zM114.5,90.9h1.7v1.7h-1.7zM114.5,93.8h1.7v1.7h-1.7zM114.5,94.7h1.7v1.7h-1.7zM114.5,74.0h1.7v1.7h-1.7zM116.1,90.3h1.7v1.7h-1.7zM116.1,96.6h1.7v1.7h-1.7zM116.1,71.0h1.7v1.7h-1.7zM116.1,76.0h1.7v1.7h-1.7zM116.2,78.4h1.7v1.7h-1.7zM116.2,84.6h1.7v1.7h-1.7zM116.2,75.3h1.7v1.7h-1.7zM116.3,87.0h1.7v1.7h-1.7zM116.3,85.4h1.7v1.7h-1.7zM116.3,90.8h1.7v1.7h-1.7zM116.3,113.2h1.7v1.7h-1.7zM116.4,91.8h1.7v1.7h-1.7zM116.4,77.7h1.7v1.7h-1.7zM116.4,92.4h1.7v1.7h-1.7zM116.4,93.3h1.7v1.7h-1.7zM117.8,69.4h1.7v1.7h-1.7zM118.0,62.8h1.7v1.7h-1.7zM118.0,71.9h1.7v1.7h-1.7zM118.1,100.0h1.7v1.7h-1.7zM118.1,88.2h1.7v1.7h-1.7zM118.1,78.4h1.7v1.7h-1.7zM118.2,83.6h1.7v1.7h-1.7zM118.2,86.3h1.7v1.7h-1.7zM118.2,86.3h1.7v1.7h-1.7zM118.2,77.6h1.7v1.7h-1.7zM118.2,78.2h1.7v1.7h-1.7zM118.2,81.3h1.7v1.7h-1.7zM118.2,94.7h1.7v1.7h-1.7zM118.3,83.7h1.7v1.7h-1.7zM120.5,70.8h1.7v1.7h-1.7zM120.6,84.1h1.7v1.7h-1.7zM120.7,76.0h1.7v1.7h-1.7zM120.7,70.0h1.7v1.7h-1.7zM120.7,100.8h1.7v1.7h-1.7zM120.8,118.9h1.7v1.7h-1.7zM120.8,86.8h1.7v1.7h-1.7zM120.8,81.0h1.7v1.7h-1.7zM120.9,95.4h1.7v1.7h-1.7zM123.1,32.9h1.7v1.7h-1.7zM123.1,99.4h1.7v1.7h-1.7zM123.3,75.4h1.7v1.7h-1.7zM123.3,82.8h1.7v1.7h-1.7zM123.3,81.4h1.7v1.7h-1.7zM123.3,74.8h1.7v1.7h-1.7zM123.3,90.6h1.7v1.7h-1.7zM123.4,79.2h1.7v1.7h-1.7zM126.4,93.6h1.7v1.7h-1.7zM126.4,90.9h1.7v1.7h-1.7zM126.4,69.8h1.7v1.7h-1.7zM126.5,76.6h1.7v1.7h-1.7zM126.5,85.7h1.7v1.7h-1.7zM126.6,91.8h1.7v1.7h-1.7zM126.6,81.6h1.7v1.7h-1.7zM126.6,83.7h1.7v1.7h-1.7zM126.6,96.2h1.7v1.7h-1.7zM126.6,92.6h1.7v1.7h-1.7zM126.6,77.9h1.7v1.7h-1.7zM126.7,78.6h1.7v1.7h-1.7zM126.7,101.0h1.7v1.7h-1.7zM126.7,69.3h1.7v1.7h-1.7zM129.3,70.6h1.7v1.7h-1.7zM129.3,82.5h1.7v1.7h-1.7zM129.3,89.9h1.7v1.7h-1.7zM129.3,74.0h1.7v1.7h-1.7zM129.3,77.3h1.7v1.7h-1.7zM129.3,75.4h1.7v1.7h-1.7zM129.3,119.6h1.7v1.7h-1.7zM129.4,74.3h1.7v1.7h-1.7zM129.4,97.3h1.7v1.7h-1.7zM129.4,75.6h1.7v1.7h-1.7zM129.5,92.5h1.7v1.7h-1.7zM129.5,60.8h1.7v1.7h-1.7zM131.8,77.1h1.7v1.7h-1.7zM131.9,71.9h1.7v1.7h-1.7zM131.9,87.7h1.7v1.7h-1.7zM132.0,84.9h1.7v1.7h-1.7zM132.0,84.3h1.7v1.7h-1.7zM132.0,103.6h1.7v1.7h-1.7zM132.1,83.8h1.7v1.7h-1.7zM132.1,114.9h1.7v1.7h-1.7zM134.4,84.4h1.7v1.7h-1.7zM134.5,83.3h1.7v1.7h-1.7zM134.5,81.8h1.7v1.7h-1.7zM134.5,73.9h1.7v1.7h-1.7zM134.5,78.2h1.7v1.7h-1.7zM134.5,92.5h1.7v1.7h-1.7zM134.5,76.7h1.7v1.7h-1.7zM134.5,93.8h1.7v1.7h-1.7zM134.6,72.4h1.7v1.7h-1.7zM134.6,75.4h1.7v1.7h-1.7zM134.6,85.6h1.7v1.7h-1.7zM134.7,78.8h1.7v1.7h-1.7zM134.7,76.5h1.7v1.7h-1.7zM134.8,69.5h1.7v1.7h-1.7zM136.6,83.9h1.7v1.7h-1.7zM136.6,90.2h1.7v1.7h-1.7zM136.7,99.8h1.7v1.7h-1.7zM136.7,95.9h1.7v1.7h-1.7zM136.7,82.4h1.7v1.7h-1.7zM136.7,83.1h1.7v1.7h-1.7zM136.8,81.9h1.7v1.7h-1.7zM136.8,76.3h1.7v1.7h-1.7zM136.8,99.1h1.7v1.7h-1.7zM136.9,70.8h1.7v1.7h-1.7zM136.9,75.2h1.7v1.7h-1.7zM136.9,89.8h1.7v1.7h-1.7zM136.9,87.5h1.7v1.7h-1.7zM136.9,64.2h1.7v1.7h-1.7zM137.2,75.8h1.7v1.7h-1.7zM137.2,74.5h1.7v1.7h-1.7zM138.4,98.5h1.7v1.7h-1.7zM138.5,96.9h1.7v1.7h-1.7zM138.5,87.6h1.7v1.7h-1.7zM138.5,71.4h1.7v1.7h-1.7zM138.6,97.0h1.7v1.7h-1.7zM138.6,71.8h1.7v1.7h-1.7zM138.6,81.1h1.7v1.7h-1.7zM138.7,91.0h1.7v1.7h-1.7zM138.7,98.8h1.7v1.7h-1.7zM138.7,97.4h1.7v1.7h-1.7zM138.7,95.0h1.7v1.7h-1.7zM140.6,114.9h1.7v1.7h-1.7zM140.6,69.4h1.7v1.7h-1.7zM140.6,89.4h1.7v1.7h-1.7zM140.7,73.2h1.7v1.7h-1.7zM140.7,99.1h1.7v1.7h-1.7zM140.7,68.6h1.7v1.7h-1.7zM140.7,78.8h1.7v1.7h-1.7zM140.7,74.9h1.7v1.7h-1.7zM140.8,76.1h1.7v1.7h-1.7zM143.4,84.2h1.7v1.7h-1.7zM143.5,70.6h1.7v1.7h-1.7zM143.5,85.4h1.7v1.7h-1.7zM143.5,90.2h1.7v1.7h-1.7zM143.5,80.0h1.7v1.7h-1.7zM143.6,95.1h1.7v1.7h-1.7zM143.7,93.7h1.7v1.7h-1.7zM143.8,78.6h1.7v1.7h-1.7zM145.6,95.2h1.7v1.7h-1.7zM145.6,97.8h1.7v1.7h-1.7zM145.6,87.9h1.7v1.7h-1.7zM145.7,79.3h1.7v1.7h-1.7zM145.7,96.9h1.7v1.7h-1.7zM145.8,98.2h1.7v1.7h-1.7zM145.8,79.2h1.7v1.7h-1.7zM145.8,70.8h1.7v1.7h-1.7zM145.8,96.0h1.7v1.7h-1.7zM145.8,89.3h1.7v1.7h-1.7zM145.9,75.5h1.7v1.7h-1.7zM147.9,86.0h1.7v1.7h-1.7zM148.0,73.1h1.7v1.7h-1.7zM148.0,97.3h1.7v1.7h-1.7zM148.0,78.8h1.7v1.7h-1.7zM148.0,69.3h1.7v1.7h-1.7zM148.0,69.3h1.7v1.7h-1.7zM148.0,78.9h1.7v1.7h-1.7zM148.0,99.6h1.7v1.7h-1.7zM148.1,98.8h1.7v1.7h-1.7zM148.1,82.5h1.7v1.7h-1.7zM148.1,99.0h1.7v1.7h-1.7zM148.2,68.1h1.7v1.7h-1.7zM148.3,64.2h1.7v1.7h-1.7zM148.4,74.7h1.7v1.7h-1.7zM148.4,72.5h1.7v1.7h-1.7zM149.7,94.1h1.7v1.7h-1.7zM149.8,70.8h1.7v1.7h-1.7zM149.8,97.5h1.7v1.7h-1.7zM149.8,71.7h1.7v1.7h-1.7zM149.9,72.3h1.7v1.7h-1.7zM149.9,86.7h1.7v1.7h-1.7zM149.9,85.5h1.7v1.7h-1.7zM149.9,90.0h1.7v1.7h-1.7zM150.0,77.6h1.7v1.7h-1.7zM150.0,80.1h1.7v1.7h-1.7zM150.0,75.5h1.7v1.7h-1.7zM152.9,115.8h1.7v1.7h-1.7zM152.9,73.2h1.7v1.7h-1.7zM152.9,96.5h1.7v1.7h-1.7zM153.1,97.6h1.7v1.7h-1.7zM153.1,79.1h1.7v1.7h-1.7zM153.1,89.7h1.7v1.7h-1.7zM153.1,83.2h1.7v1.7h-1.7zM153.2,76.5h1.7v1.7h-1.7zM153.2,78.7h1.7v1.7h-1.7zM154.9,114.0h1.7v1.7h-1.7zM154.9,78.4h1.7v1.7h-1.7zM155.0,85.9h1.7v1.7h-1.7zM155.1,97.7h1.7v1.7h-1.7zM155.2,76.9h1.7v1.7h-1.7zM155.2,93.3h1.7v1.7h-1.7zM155.3,71.1h1.7v1.7h-1.7zM155.3,90.9h1.7v1.7h-1.7zM157.1,93.1h1.7v1.7h-1.7zM157.1,94.1h1.7v1.7h-1.7zM157.2,98.5h1.7v1.7h-1.7zM157.2,86.4h1.7v1.7h-1.7zM157.3,98.5h1.7v1.7h-1.7zM157.3,76.2h1.7v1.7h-1.7zM157.3,84.0h1.7v1.7h-1.7zM157.4,74.1h1.7v1.7h-1.7zM157.4,69.9h1.7v1.7h-1.7zM157.4,81.3h1.7v1.7h-1.7zM157.4,90.3h1.7v1.7h-1.7zM157.4,92.2h1.7v1.7h-1.7zM157.4,67.8h1.7v1.7h-1.7zM157.5,97.4h1.7v1.7h-1.7zM157.5,75.2h1.7v1.7h-1.7zM160.3,76.5h1.7v1.7h-1.7zM160.4,93.8h1.7v1.7h-1.7zM160.4,95.8h1.7v1.7h-1.7zM160.4,90.8h1.7v1.7h-1.7zM160.5,77.8h1.7v1.7h-1.7zM160.5,82.0h1.7v1.7h-1.7zM160.6,93.9h1.7v1.7h-1.7zM160.6,78.6h1.7v1.7h-1.7zM160.7,93.0h1.7v1.7h-1.7zM160.7,92.2h1.7v1.7h-1.7zM160.7,82.2h1.7v1.7h-1.7zM163.0,94.7h1.7v1.7h-1.7zM163.0,79.6h1.7v1.7h-1.7zM163.0,91.3h1.7v1.7h-1.7zM163.0,87.8h1.7v1.7h-1.7zM163.0,77.9h1.7v1.7h-1.7zM163.2,84.3h1.7v1.7h-1.7zM163.2,86.7h1.7v1.7h-1.7zM163.3,84.5h1.7v1.7h-1.7zM163.3,70.8h1.7v1.7h-1.7zM166.1,107.0h1.7v1.7h-1.7zM166.1,106.1h1.7v1.7h-1.7zM166.1,68.6h1.7v1.7h-1.7zM166.2,97.6h1.7v1.7h-1.7zM166.2,84.4h1.7v1.7h-1.7zM166.3,71.4h1.7v1.7h-1.7zM166.3,93.6h1.7v1.7h-1.7zM166.3,81.2h1.7v1.7h-1.7zM166.4,90.2h1.7v1.7h-1.7zM166.4,93.9h1.7v1.7h-1.7zM166.4,84.6h1.7v1.7h-1.7zM169.0,92.4h1.7v1.7h-1.7zM169.1,93.8h1.7v1.7h-1.7zM169.1,89.7h1.7v1.7h-1.7zM169.2,96.6h1.7v1.7h-1.7zM169.2,76.1h1.7v1.7h-1.7zM169.2,92.6h1.7v1.7h-1.7zM169.2,95.4h1.7v1.7h-1.7zM169.2,78.8h1.7v1.7h-1.7zM169.3,80.6h1.7v1.7h-1.7zM171.9,78.3h1.7v1.7h-1.7zM172.0,67.8h1.7v1.7h-1.7zM172.0,75.0h1.7v1.7h-1.7zM172.1,78.2h1.7v1.7h-1.7zM172.1,71.1h1.7v1.7h-1.7zM172.2,92.1h1.7v1.7h-1.7zM172.2,81.2h1.7v1.7h-1.7zM172.2,85.8h1.7v1.7h-1.7zM172.3,62.8h1.7v1.7h-1.7zM172.5,68.6h1.7v1.7h-1.7zM172.5,68.7h1.7v1.7h-1.7zM173.9,79.2h1.7v1.7h-1.7zM173.9,91.7h1.7v1.7h-1.7zM173.9,82.7h1.7v1.7h-1.7zM173.9,86.7h1.7v1.7h-1.7zM173.9,81.2h1.7v1.7h-1.7zM174.0,85.5h1.7v1.7h-1.7zM174.0,96.4h1.7v1.7h-1.7zM174.0,76.2h1.7v1.7h-1.7zM174.0,84.3h1.7v1.7h-1.7zM174.0,89.6h1.7v1.7h-1.7zM174.0,70.4h1.7v1.7h-1.7zM174.1,98.4h1.7v1.7h-1.7zM174.2,83.6h1.7v1.7h-1.7zM176.5,114.0h1.7v1.7h-1.7zM176.5,92.1h1.7v1.7h-1.7zM176.6,93.8h1.7v1.7h-1.7zM176.7,87.9h1.7v1.7h-1.7zM176.7,97.1h1.7v1.7h-1.7zM176.8,70.6h1.7v1.7h-1.7zM176.8,84.6h1.7v1.7h-1.7zM176.9,91.5h1.7v1.7h-1.7zM179.1,106.2h1.7v1.7h-1.7zM179.2,88.3h1.7v1.7h-1.7zM179.2,87.1h1.7v1.7h-1.7zM179.3,93.9h1.7v1.7h-1.7zM179.3,86.1h1.7v1.7h-1.7zM179.3,85.6h1.7v1.7h-1.7zM179.3,71.9h1.7v1.7h-1.7zM179.4,74.8h1.7v1.7h-1.7zM179.5,92.2h1.7v1.7h-1.7zM179.5,97.4h1.7v1.7h-1.7zM179.5,69.9h1.7v1.7h-1.7zM179.5,92.5h1.7v1.7h-1.7zM182.3,47.9h1.7v1.7h-1.7zM182.4,92.0h1.7v1.7h-1.7zM182.4,77.4h1.7v1.7h-1.7zM182.4,82.9h1.7v1.7h-1.7zM182.5,94.3h1.7v1.7h-1.7zM182.5,69.1h1.7v1.7h-1.7zM182.5,103.9h1.7v1.7h-1.7zM182.6,83.6h1.7v1.7h-1.7zM182.6,95.2h1.7v1.7h-1.7zM182.6,76.6h1.7v1.7h-1.7zM182.6,94.3h1.7v1.7h-1.7zM182.6,75.8h1.7v1.7h-1.7zM182.6,77.6h1.7v1.7h-1.7zM182.6,85.7h1.7v1.7h-1.7zM182.7,102.7h1.7v1.7h-1.7zM184.8,53.1h1.7v1.7h-1.7zM184.8,96.1h1.7v1.7h-1.7zM184.8,76.0h1.7v1.7h-1.7zM184.9,91.9h1.7v1.7h-1.7zM184.9,88.3h1.7v1.7h-1.7zM184.9,80.4h1.7v1.7h-1.7zM184.9,92.8h1.7v1.7h-1.7zM184.9,96.7h1.7v1.7h-1.7zM185.0,114.1h1.7v1.7h-1.7zM185.0,97.3h1.7v1.7h-1.7zM187.5,55.4h1.7v1.7h-1.7zM187.5,73.4h1.7v1.7h-1.7zM187.5,92.5h1.7v1.7h-1.7zM187.5,77.9h1.7v1.7h-1.7zM187.5,86.8h1.7v1.7h-1.7zM187.6,84.0h1.7v1.7h-1.7zM187.6,88.1h1.7v1.7h-1.7zM187.7,86.7h1.7v1.7h-1.7zM187.7,91.8h1.7v1.7h-1.7zM187.7,97.2h1.7v1.7h-1.7zM187.8,84.4h1.7v1.7h-1.7zM187.8,93.7h1.7v1.7h-1.7zM187.8,97.3h1.7v1.7h-1.7zM187.8,83.3h1.7v1.7h-1.7zM189.4,84.2h1.7v1.7h-1.7zM189.4,79.8h1.7v1.7h-1.7zM189.4,82.3h1.7v1.7h-1.7zM189.5,73.7h1.7v1.7h-1.7zM189.5,83.9h1.7v1.7h-1.7zM189.5,75.4h1.7v1.7h-1.7zM189.5,73.2h1.7v1.7h-1.7zM189.6,80.2h1.7v1.7h-1.7zM189.7,70.0h1.7v1.7h-1.7zM189.7,113.2h1.7v1.7h-1.7zM190.9,74.5h1.7v1.7h-1.7zM191.0,69.6h1.7v1.7h-1.7zM191.8,62.8h1.7v1.7h-1.7zM191.8,88.6h1.7v1.7h-1.7zM191.8,99.2h1.7v1.7h-1.7zM191.8,96.2h1.7v1.7h-1.7zM191.9,88.0h1.7v1.7h-1.7zM192.0,96.6h1.7v1.7h-1.7zM192.0,81.8h1.7v1.7h-1.7zM192.0,93.4h1.7v1.7h-1.7zM192.1,76.5h1.7v1.7h-1.7zM192.1,84.5h1.7v1.7h-1.7zM192.1,99.3h1.7v1.7h-1.7zM192.1,86.8h1.7v1.7h-1.7zM194.1,83.4h1.7v1.7h-1.7zM194.1,92.7h1.7v1.7h-1.7zM194.1,77.0h1.7v1.7h-1.7zM194.1,94.2h1.7v1.7h-1.7zM194.2,67.2h1.7v1.7h-1.7zM194.2,74.5h1.7v1.7h-1.7zM194.2,72.4h1.7v1.7h-1.7zM194.2,75.1h1.7v1.7h-1.7zM194.2,98.0h1.7v1.7h-1.7zM194.2,67.3h1.7v1.7h-1.7zM194.3,76.5h1.7v1.7h-1.7zM194.3,85.6h1.7v1.7h-1.7zM194.3,89.9h1.7v1.7h-1.7zM194.4,92.3h1.7v1.7h-1.7zM194.4,79.3h1.7v1.7h-1.7zM196.2,68.4h1.7v1.7h-1.7zM196.2,94.7h1.7v1.7h-1.7zM196.2,70.0h1.7v1.7h-1.7zM196.2,68.1h1.7v1.7h-1.7zM196.3,73.7h1.7v1.7h-1.7zM196.3,82.5h1.7v1.7h-1.7zM196.3,97.7h1.7v1.7h-1.7zM196.4,90.5h1.7v1.7h-1.7zM196.4,84.9h1.7v1.7h-1.7zM196.4,83.5h1.7v1.7h-1.7zM196.5,89.3h1.7v1.7h-1.7zM196.5,87.0h1.7v1.7h-1.7zM196.5,77.2h1.7v1.7h-1.7zM196.5,69.0h1.7v1.7h-1.7zM199.3,117.5h1.7v1.7h-1.7zM199.3,92.0h1.7v1.7h-1.7zM199.3,86.8h1.7v1.7h-1.7zM199.3,92.5h1.7v1.7h-1.7zM199.3,66.5h1.7v1.7h-1.7zM199.4,96.0h1.7v1.7h-1.7zM199.5,78.1h1.7v1.7h-1.7zM199.5,96.9h1.7v1.7h-1.7zM199.6,85.4h1.7v1.7h-1.7zM199.6,83.8h1.7v1.7h-1.7zM199.6,33.4h1.7v1.7h-1.7zM199.7,60.4h1.7v1.7h-1.7zM201.7,126.2h1.7v1.7h-1.7zM201.8,87.8h1.7v1.7h-1.7zM201.8,69.7h1.7v1.7h-1.7zM201.9,85.4h1.7v1.7h-1.7zM201.9,76.7h1.7v1.7h-1.7zM201.9,66.8h1.7v1.7h-1.7zM202.0,68.8h1.7v1.7h-1.7zM202.0,81.0h1.7v1.7h-1.7zM202.0,95.8h1.7v1.7h-1.7zM202.0,91.0h1.7v1.7h-1.7zM202.0,68.4h1.7v1.7h-1.7zM205.1,66.8h1.7v1.7h-1.7zM205.2,98.9h1.7v1.7h-1.7zM205.2,74.3h1.7v1.7h-1.7zM205.2,65.4h1.7v1.7h-1.7zM205.2,70.6h1.7v1.7h-1.7zM205.2,70.6h1.7v1.7h-1.7zM205.2,77.6h1.7v1.7h-1.7zM205.2,91.5h1.7v1.7h-1.7zM205.3,64.5h1.7v1.7h-1.7zM205.4,93.2h1.7v1.7h-1.7zM205.4,98.7h1.7v1.7h-1.7zM205.4,83.2h1.7v1.7h-1.7zM207.8,118.4h1.7v1.7h-1.7zM207.8,70.8h1.7v1.7h-1.7zM207.8,68.9h1.7v1.7h-1.7zM207.8,74.1h1.7v1.7h-1.7zM208.0,93.4h1.7v1.7h-1.7zM208.0,62.3h1.7v1.7h-1.7zM208.1,91.0h1.7v1.7h-1.7zM208.1,86.6h1.7v1.7h-1.7zM210.1,64.1h1.7v1.7h-1.7zM210.6,58.8h1.7v1.7h-1.7zM210.6,64.0h1.7v1.7h-1.7zM210.6,88.8h1.7v1.7h-1.7zM210.6,86.5h1.7v1.7h-1.7zM210.6,58.5h1.7v1.7h-1.7zM210.7,93.5h1.7v1.7h-1.7zM210.7,69.2h1.7v1.7h-1.7zM210.8,77.3h1.7v1.7h-1.7zM210.8,65.6h1.7v1.7h-1.7zM210.8,85.4h1.7v1.7h-1.7zM210.8,114.9h1.7v1.7h-1.7zM213.4,42.6h1.7v1.7h-1.7zM213.4,89.6h1.7v1.7h-1.7zM213.4,79.5h1.7v1.7h-1.7zM213.4,85.6h1.7v1.7h-1.7zM213.5,88.4h1.7v1.7h-1.7zM213.5,96.4h1.7v1.7h-1.7zM213.6,63.6h1.7v1.7h-1.7zM213.6,87.0h1.7v1.7h-1.7zM213.6,64.9h1.7v1.7h-1.7zM213.6,110.5h1.7v1.7h-1.7zM213.7,77.4h1.7v1.7h-1.7zM216.2,64.4h1.7v1.7h-1.7zM216.3,64.1h1.7v1.7h-1.7zM216.3,85.1h1.7v1.7h-1.7zM216.3,88.6h1.7v1.7h-1.7zM216.3,74.3h1.7v1.7h-1.7zM216.4,75.0h1.7v1.7h-1.7zM216.4,68.0h1.7v1.7h-1.7zM216.5,80.1h1.7v1.7h-1.7zM216.5,82.4h1.7v1.7h-1.7zM216.5,96.0h1.7v1.7h-1.7zM216.6,61.6h1.7v1.7h-1.7zM216.6,95.1h1.7v1.7h-1.7zM216.6,5.7h1.7v1.7h-1.7zM218.3,73.5h1.7v1.7h-1.7zM218.3,88.2h1.7v1.7h-1.7zM218.3,92.7h1.7v1.7h-1.7zM218.3,54.5h1.7v1.7h-1.7zM218.3,71.3h1.7v1.7h-1.7zM218.3,84.2h1.7v1.7h-1.7zM218.3,94.1h1.7v1.7h-1.7zM218.4,64.3h1.7v1.7h-1.7zM218.4,78.7h1.7v1.7h-1.7zM218.5,61.0h1.7v1.7h-1.7zM218.6,92.9h1.7v1.7h-1.7zM218.6,111.4h1.7v1.7h-1.7zM220.8,35.4h1.7v1.7h-1.7zM220.8,89.3h1.7v1.7h-1.7zM220.8,87.2h1.7v1.7h-1.7zM220.8,65.2h1.7v1.7h-1.7zM220.9,80.7h1.7v1.7h-1.7zM220.9,72.8h1.7v1.7h-1.7zM220.9,73.3h1.7v1.7h-1.7zM221.0,79.9h1.7v1.7h-1.7zM221.1,98.3h1.7v1.7h-1.7zM221.2,41.9h1.7v1.7h-1.7zM223.0,80.1h1.7v1.7h-1.7zM223.0,63.0h1.7v1.7h-1.7zM223.0,65.1h1.7v1.7h-1.7zM223.1,93.7h1.7v1.7h-1.7zM223.1,89.5h1.7v1.7h-1.7zM223.2,93.1h1.7v1.7h-1.7zM223.3,83.1h1.7v1.7h-1.7zM223.3,83.0h1.7v1.7h-1.7zM225.4,114.9h1.7v1.7h-1.7zM225.5,89.5h1.7v1.7h-1.7zM225.6,73.6h1.7v1.7h-1.7zM225.6,80.1h1.7v1.7h-1.7zM225.6,79.1h1.7v1.7h-1.7zM225.7,86.6h1.7v1.7h-1.7zM225.7,69.1h1.7v1.7h-1.7zM225.7,61.5h1.7v1.7h-1.7zM225.8,40.1h1.7v1.7h-1.7zM226.5,69.4h1.7v1.7h-1.7zM226.6,54.6h1.7v1.7h-1.7zM227.4,67.7h1.7v1.7h-1.7zM227.4,94.6h1.7v1.7h-1.7zM227.4,89.0h1.7v1.7h-1.7zM227.4,90.3h1.7v1.7h-1.7zM227.4,78.2h1.7v1.7h-1.7zM227.5,105.2h1.7v1.7h-1.7zM227.6,79.1h1.7v1.7h-1.7zM227.7,81.5h1.7v1.7h-1.7zM227.7,80.8h1.7v1.7h-1.7zM227.7,85.7h1.7v1.7h-1.7zM227.7,75.5h1.7v1.7h-1.7zM227.7,47.4h1.7v1.7h-1.7zM230.7,85.8h1.7v1.7h-1.7zM230.8,80.2h1.7v1.7h-1.7zM230.8,74.6h1.7v1.7h-1.7zM230.8,73.0h1.7v1.7h-1.7zM230.9,88.6h1.7v1.7h-1.7zM230.9,73.5h1.7v1.7h-1.7zM230.9,83.8h1.7v1.7h-1.7zM230.9,71.2h1.7v1.7h-1.7zM231.0,90.9h1.7v1.7h-1.7zM231.0,75.8h1.7v1.7h-1.7zM231.0,80.0h1.7v1.7h-1.7zM231.1,97.9h1.7v1.7h-1.7zM232.2,61.2h1.7v1.7h-1.7zM232.2,59.0h1.7v1.7h-1.7zM232.9,49.1h1.7v1.7h-1.7zM232.9,90.5h1.7v1.7h-1.7zM232.9,74.6h1.7v1.7h-1.7zM232.9,94.7h1.7v1.7h-1.7zM232.9,76.4h1.7v1.7h-1.7zM233.0,100.6h1.7v1.7h-1.7zM233.0,96.9h1.7v1.7h-1.7zM233.0,87.4h1.7v1.7h-1.7zM233.0,94.3h1.7v1.7h-1.7zM233.1,82.8h1.7v1.7h-1.7zM233.1,90.4h1.7v1.7h-1.7zM233.2,66.0h1.7v1.7h-1.7zM233.2,100.7h1.7v1.7h-1.7zM233.2,93.1h1.7v1.7h-1.7zM233.2,98.2h1.7v1.7h-1.7zM235.1,66.6h1.7v1.7h-1.7zM235.7,56.1h1.7v1.7h-1.7zM235.8,43.0h1.7v1.7h-1.7zM235.8,91.5h1.7v1.7h-1.7zM235.9,66.7h1.7v1.7h-1.7zM236.0,99.5h1.7v1.7h-1.7zM236.0,74.7h1.7v1.7h-1.7zM236.0,100.9h1.7v1.7h-1.7zM236.0,91.1h1.7v1.7h-1.7zM236.0,80.3h1.7v1.7h-1.7zM236.1,75.3h1.7v1.7h-1.7zM238.0,111.4h1.7v1.7h-1.7zM238.0,63.9h1.7v1.7h-1.7zM238.0,85.9h1.7v1.7h-1.7zM238.1,91.7h1.7v1.7h-1.7zM238.2,97.1h1.7v1.7h-1.7zM238.2,85.7h1.7v1.7h-1.7zM238.2,98.4h1.7v1.7h-1.7zM238.2,72.3h1.7v1.7h-1.7zM238.3,98.4h1.7v1.7h-1.7zM238.4,97.6h1.7v1.7h-1.7zM241.0,51.5h1.7v1.7h-1.7zM241.0,70.7h1.7v1.7h-1.7zM241.3,123.6h1.7v1.7h-1.7zM241.3,94.9h1.7v1.7h-1.7zM241.3,88.5h1.7v1.7h-1.7zM241.4,88.4h1.7v1.7h-1.7zM241.4,94.1h1.7v1.7h-1.7zM241.4,81.6h1.7v1.7h-1.7zM241.5,114.0h1.7v1.7h-1.7zM241.5,74.7h1.7v1.7h-1.7zM241.5,95.1h1.7v1.7h-1.7zM241.6,96.5h1.7v1.7h-1.7zM241.6,66.2h1.7v1.7h-1.7zM244.1,41.0h1.7v1.7h-1.7zM244.1,70.5h1.7v1.7h-1.7zM244.2,66.7h1.7v1.7h-1.7zM244.2,67.2h1.7v1.7h-1.7zM244.2,82.7h1.7v1.7h-1.7zM244.2,70.6h1.7v1.7h-1.7zM244.3,86.9h1.7v1.7h-1.7zM244.3,61.1h1.7v1.7h-1.7zM244.3,72.5h1.7v1.7h-1.7zM244.3,91.0h1.7v1.7h-1.7zM244.4,60.0h1.7v1.7h-1.7zM244.4,79.0h1.7v1.7h-1.7zM246.1,83.7h1.7v1.7h-1.7zM246.1,60.8h1.7v1.7h-1.7zM246.2,89.1h1.7v1.7h-1.7zM246.2,64.6h1.7v1.7h-1.7zM246.3,66.0h1.7v1.7h-1.7zM250.8,58.5h1.7v1.7h-1.7zM251.4,62.1h1.7v1.7h-1.7zM251.5,51.9h1.7v1.7h-1.7zM252.5,35.1h1.7v1.7h-1.7zM252.6,89.5h1.7v1.7h-1.7zM252.6,62.9h1.7v1.7h-1.7zM252.6,86.1h1.7v1.7h-1.7zM252.6,73.9h1.7v1.7h-1.7zM252.6,62.9h1.7v1.7h-1.7zM252.6,75.0h1.7v1.7h-1.7zM252.7,92.2h1.7v1.7h-1.7zM252.7,90.4h1.7v1.7h-1.7zM252.7,71.5h1.7v1.7h-1.7zM252.7,58.7h1.7v1.7h-1.7zM252.8,91.3h1.7v1.7h-1.7zM252.8,59.8h1.7v1.7h-1.7zM252.8,76.1h1.7v1.7h-1.7zM252.9,64.9h1.7v1.7h-1.7zM255.1,52.8h1.7v1.7h-1.7zM255.1,49.2h1.7v1.7h-1.7zM255.8,11.5h1.7v1.7h-1.7zM255.8,80.7h1.7v1.7h-1.7zM255.8,72.7h1.7v1.7h-1.7zM255.9,67.9h1.7v1.7h-1.7zM255.9,64.0h1.7v1.7h-1.7zM256.0,73.4h1.7v1.7h-1.7zM256.0,63.0h1.7v1.7h-1.7zM256.1,64.1h1.7v1.7h-1.7zM256.1,89.9h1.7v1.7h-1.7zM256.2,55.0h1.7v1.7h-1.7zM256.2,97.5h1.7v1.7h-1.7zM258.5,105.6h1.7v1.7h-1.7zM258.5,69.0h1.7v1.7h-1.7zM258.5,75.8h1.7v1.7h-1.7zM258.6,62.5h1.7v1.7h-1.7zM258.6,78.4h1.7v1.7h-1.7zM258.6,79.8h1.7v1.7h-1.7zM258.7,80.7h1.7v1.7h-1.7zM258.7,72.1h1.7v1.7h-1.7zM258.8,89.0h1.7v1.7h-1.7zM258.8,85.3h1.7v1.7h-1.7zM260.6,74.3h1.7v1.7h-1.7zM260.6,78.2h1.7v1.7h-1.7zM260.7,63.8h1.7v1.7h-1.7zM260.7,87.4h1.7v1.7h-1.7zM260.7,76.9h1.7v1.7h-1.7zM260.7,85.6h1.7v1.7h-1.7zM260.7,64.3h1.7v1.7h-1.7zM260.8,88.7h1.7v1.7h-1.7zM260.8,57.8h1.7v1.7h-1.7zM260.8,72.8h1.7v1.7h-1.7zM260.9,58.0h1.7v1.7h-1.7zM262.2,38.1h1.7v1.7h-1.7zM262.3,49.6h1.7v1.7h-1.7zM262.7,24.0h1.7v1.7h-1.7zM262.7,48.9h1.7v1.7h-1.7zM262.8,55.8h1.7v1.7h-1.7zM262.8,67.0h1.7v1.7h-1.7zM262.8,60.2h1.7v1.7h-1.7zM262.8,83.4h1.7v1.7h-1.7zM262.9,81.6h1.7v1.7h-1.7zM262.9,65.3h1.7v1.7h-1.7zM262.9,83.6h1.7v1.7h-1.7zM262.9,77.6h1.7v1.7h-1.7zM263.0,78.2h1.7v1.7h-1.7zM263.0,38.6h1.7v1.7h-1.7zM264.0,63.3h1.7v1.7h-1.7zM264.0,59.5h1.7v1.7h-1.7zM265.9,126.4h1.7v1.7h-1.7zM266.0,75.9h1.7v1.7h-1.7zM266.0,78.7h1.7v1.7h-1.7zM266.1,78.8h1.7v1.7h-1.7zM266.2,77.6h1.7v1.7h-1.7zM266.3,55.0h1.7v1.7h-1.7zM266.3,55.4h1.7v1.7h-1.7zM266.3,79.6h1.7v1.7h-1.7zM266.3,84.2h1.7v1.7h-1.7zM268.6,41.0h1.7v1.7h-1.7zM268.6,52.0h1.7v1.7h-1.7zM268.7,70.5h1.7v1.7h-1.7zM268.7,54.9h1.7v1.7h-1.7zM268.7,78.0h1.7v1.7h-1.7zM268.8,63.7h1.7v1.7h-1.7zM268.8,80.1h1.7v1.7h-1.7zM268.8,55.0h1.7v1.7h-1.7zM268.8,69.0h1.7v1.7h-1.7zM268.9,55.1h1.7v1.7h-1.7zM269.0,79.1h1.7v1.7h-1.7zM270.1,49.6h1.7v1.7h-1.7zM270.7,33.5h1.7v1.7h-1.7zM270.7,59.3h1.7v1.7h-1.7zM270.7,84.9h1.7v1.7h-1.7zM270.7,75.1h1.7v1.7h-1.7zM270.8,62.9h1.7v1.7h-1.7zM270.8,81.1h1.7v1.7h-1.7zM270.8,64.4h1.7v1.7h-1.7zM270.9,84.2h1.7v1.7h-1.7zM270.9,61.5h1.7v1.7h-1.7zM271.0,85.6h1.7v1.7h-1.7zM271.0,53.2h1.7v1.7h-1.7zM271.0,76.8h1.7v1.7h-1.7zM271.0,61.2h1.7v1.7h-1.7zM271.0,65.9h1.7v1.7h-1.7zM271.1,73.3h1.7v1.7h-1.7zM273.9,51.7h1.7v1.7h-1.7zM274.0,42.9h1.7v1.7h-1.7zM274.0,53.7h1.7v1.7h-1.7zM274.1,76.0h1.7v1.7h-1.7zM274.1,57.8h1.7v1.7h-1.7zM274.1,75.6h1.7v1.7h-1.7zM274.1,61.5h1.7v1.7h-1.7zM274.2,58.3h1.7v1.7h-1.7zM274.2,82.9h1.7v1.7h-1.7zM274.3,67.8h1.7v1.7h-1.7zM276.8,72.0h1.7v1.7h-1.7zM276.8,73.9h1.7v1.7h-1.7zM277.0,78.0h1.7v1.7h-1.7zM277.0,58.3h1.7v1.7h-1.7zM277.0,51.8h1.7v1.7h-1.7zM277.1,65.5h1.7v1.7h-1.7zM277.1,55.0h1.7v1.7h-1.7zM277.1,49.8h1.7v1.7h-1.7zM279.4,93.2h1.7v1.7h-1.7zM279.5,70.3h1.7v1.7h-1.7zM279.5,62.9h1.7v1.7h-1.7zM279.5,53.1h1.7v1.7h-1.7zM279.6,75.1h1.7v1.7h-1.7zM279.6,67.0h1.7v1.7h-1.7zM279.6,54.4h1.7v1.7h-1.7zM279.7,82.8h1.7v1.7h-1.7zM279.7,81.7h1.7v1.7h-1.7zM279.7,80.9h1.7v1.7h-1.7zM279.7,77.3h1.7v1.7h-1.7zM279.7,58.9h1.7v1.7h-1.7zM279.8,58.8h1.7v1.7h-1.7zM279.8,43.1h1.7v1.7h-1.7zM281.9,52.9h1.7v1.7h-1.7zM281.9,69.2h1.7v1.7h-1.7zM282.0,49.8h1.7v1.7h-1.7zM282.0,48.0h1.7v1.7h-1.7zM282.0,72.7h1.7v1.7h-1.7zM282.0,59.5h1.7v1.7h-1.7zM282.0,70.6h1.7v1.7h-1.7zM282.1,74.9h1.7v1.7h-1.7zM282.1,76.9h1.7v1.7h-1.7zM282.1,69.1h1.7v1.7h-1.7zM282.1,81.4h1.7v1.7h-1.7zM282.2,70.6h1.7v1.7h-1.7zM282.2,80.1h1.7v1.7h-1.7zM282.2,79.0h1.7v1.7h-1.7zM284.4,59.0h1.7v1.7h-1.7zM284.4,56.2h1.7v1.7h-1.7zM284.4,60.4h1.7v1.7h-1.7zM284.5,55.6h1.7v1.7h-1.7zM284.5,52.9h1.7v1.7h-1.7zM284.6,77.4h1.7v1.7h-1.7zM284.6,47.5h1.7v1.7h-1.7zM284.6,53.1h1.7v1.7h-1.7zM284.6,73.4h1.7v1.7h-1.7zM284.7,54.5h1.7v1.7h-1.7zM286.5,29.2h1.7v1.7h-1.7zM286.5,80.1h1.7v1.7h-1.7zM286.5,22.2h1.7v1.7h-1.7zM286.6,54.1h1.7v1.7h-1.7zM286.6,9.6h1.7v1.7h-1.7zM286.7,55.3h1.7v1.7h-1.7zM286.7,26.8h1.7v1.7h-1.7zM286.8,55.4h1.7v1.7h-1.7zM286.8,80.5h1.7v1.7h-1.7zM286.9,73.8h1.7v1.7h-1.7zM288.4,48.0h1.7v1.7h-1.7zM288.4,70.4h1.7v1.7h-1.7zM288.4,58.7h1.7v1.7h-1.7zM288.5,70.8h1.7v1.7h-1.7zM288.5,55.9h1.7v1.7h-1.7zM288.5,50.1h1.7v1.7h-1.7zM288.5,46.2h1.7v1.7h-1.7zM288.5,55.9h1.7v1.7h-1.7zM288.6,75.7h1.7v1.7h-1.7zM288.7,76.8h1.7v1.7h-1.7zM288.7,69.5h1.7v1.7h-1.7zM288.7,8.1h1.7v1.7h-1.7zM289.7,27.8h1.7v1.7h-1.7zM289.7,37.8h1.7v1.7h-1.7zM291.6,51.7h1.7v1.7h-1.7zM291.6,57.4h1.7v1.7h-1.7zM291.6,76.5h1.7v1.7h-1.7zM291.6,79.6h1.7v1.7h-1.7zM291.7,60.5h1.7v1.7h-1.7zM291.7,72.2h1.7v1.7h-1.7zM291.7,77.7h1.7v1.7h-1.7zM291.7,80.0h1.7v1.7h-1.7zM291.8,55.3h1.7v1.7h-1.7zM291.8,67.9h1.7v1.7h-1.7zM291.8,58.6h1.7v1.7h-1.7zM291.9,61.2h1.7v1.7h-1.7zM291.9,61.1h1.7v1.7h-1.7zM291.9,65.4h1.7v1.7h-1.7zM293.9,44.0h1.7v1.7h-1.7zM294.1,32.9h1.7v1.7h-1.7zM294.1,71.4h1.7v1.7h-1.7zM294.2,68.9h1.7v1.7h-1.7zM294.2,74.0h1.7v1.7h-1.7zM294.3,49.8h1.7v1.7h-1.7zM294.4,52.7h1.7v1.7h-1.7zM294.4,65.3h1.7v1.7h-1.7zM294.4,77.3h1.7v1.7h-1.7zM294.4,48.7h1.7v1.7h-1.7zM294.4,51.4h1.7v1.7h-1.7zM294.5,65.3h1.7v1.7h-1.7zM294.5,66.4h1.7v1.7h-1.7zM294.5,74.9h1.7v1.7h-1.7zM294.5,76.0h1.7v1.7h-1.7zM294.5,58.8h1.7v1.7h-1.7zM296.1,55.5h1.7v1.7h-1.7zM296.8,36.1h1.7v1.7h-1.7zM296.8,74.5h1.7v1.7h-1.7zM296.8,71.6h1.7v1.7h-1.7zM296.9,73.9h1.7v1.7h-1.7zM296.9,57.7h1.7v1.7h-1.7zM296.9,54.0h1.7v1.7h-1.7zM296.9,52.3h1.7v1.7h-1.7zM297.0,74.5h1.7v1.7h-1.7zM297.0,76.2h1.7v1.7h-1.7zM297.1,56.8h1.7v1.7h-1.7zM297.1,74.6h1.7v1.7h-1.7zM297.1,57.3h1.7v1.7h-1.7zM297.2,59.6h1.7v1.7h-1.7zM297.2,63.8h1.7v1.7h-1.7zM297.2,100.0h1.7v1.7h-1.7zM299.1,52.9h1.7v1.7h-1.7zM299.1,52.8h1.7v1.7h-1.7zM299.1,52.6h1.7v1.7h-1.7zM299.3,61.6h1.7v1.7h-1.7zM299.3,47.0h1.7v1.7h-1.7zM299.4,70.9h1.7v1.7h-1.7zM299.4,49.6h1.7v1.7h-1.7zM299.4,59.0h1.7v1.7h-1.7zM302.1,65.5h1.7v1.7h-1.7zM302.1,47.7h1.7v1.7h-1.7zM302.1,57.3h1.7v1.7h-1.7zM302.2,62.7h1.7v1.7h-1.7zM302.3,62.2h1.7v1.7h-1.7zM302.3,74.3h1.7v1.7h-1.7zM302.3,70.5h1.7v1.7h-1.7zM302.4,47.1h1.7v1.7h-1.7zM302.4,72.2h1.7v1.7h-1.7zM302.4,33.5h1.7v1.7h-1.7zM302.5,39.1h1.7v1.7h-1.7zM302.5,34.4h1.7v1.7h-1.7zM304.0,48.2h1.7v1.7h-1.7zM304.0,59.1h1.7v1.7h-1.7zM304.1,67.2h1.7v1.7h-1.7zM304.1,70.6h1.7v1.7h-1.7zM304.1,70.9h1.7v1.7h-1.7zM304.2,50.1h1.7v1.7h-1.7zM304.2,71.8h1.7v1.7h-1.7zM304.3,62.5h1.7v1.7h-1.7zM306.3,65.6h1.7v1.7h-1.7zM306.4,72.0h1.7v1.7h-1.7zM306.5,56.3h1.7v1.7h-1.7zM306.5,74.4h1.7v1.7h-1.7zM306.5,63.0h1.7v1.7h-1.7zM306.6,70.5h1.7v1.7h-1.7zM306.6,55.4h1.7v1.7h-1.7zM306.6,60.6h1.7v1.7h-1.7zM306.7,48.1h1.7v1.7h-1.7zM306.7,39.8h1.7v1.7h-1.7zM308.2,73.1h1.7v1.7h-1.7zM308.3,47.4h1.7v1.7h-1.7zM308.3,67.9h1.7v1.7h-1.7zM308.3,66.1h1.7v1.7h-1.7zM308.3,43.0h1.7v1.7h-1.7zM308.3,74.0h1.7v1.7h-1.7zM308.3,58.6h1.7v1.7h-1.7zM308.4,51.2h1.7v1.7h-1.7zM308.4,42.8h1.7v1.7h-1.7zM308.4,69.2h1.7v1.7h-1.7zM308.5,53.6h1.7v1.7h-1.7zM308.5,59.7h1.7v1.7h-1.7zM308.5,83.9h1.7v1.7h-1.7zM310.2,63.0h1.7v1.7h-1.7zM310.3,55.7h1.7v1.7h-1.7zM310.3,70.1h1.7v1.7h-1.7zM310.3,65.1h1.7v1.7h-1.7zM310.3,67.1h1.7v1.7h-1.7zM310.4,50.5h1.7v1.7h-1.7zM310.4,43.9h1.7v1.7h-1.7zM310.4,72.7h1.7v1.7h-1.7zM310.4,74.6h1.7v1.7h-1.7zM310.5,64.3h1.7v1.7h-1.7zM310.5,74.1h1.7v1.7h-1.7zM310.5,66.6h1.7v1.7h-1.7zM310.5,63.0h1.7v1.7h-1.7zM310.6,56.5h1.7v1.7h-1.7zM310.6,28.4h1.7v1.7h-1.7zM313.5,59.3h1.7v1.7h-1.7zM313.6,49.9h1.7v1.7h-1.7zM313.6,57.1h1.7v1.7h-1.7zM313.6,59.9h1.7v1.7h-1.7zM313.7,43.2h1.7v1.7h-1.7zM313.7,55.9h1.7v1.7h-1.7zM313.8,52.1h1.7v1.7h-1.7zM313.8,64.4h1.7v1.7h-1.7zM313.8,70.6h1.7v1.7h-1.7zM313.8,63.7h1.7v1.7h-1.7zM313.8,65.4h1.7v1.7h-1.7zM313.8,100.2h1.7v1.7h-1.7zM315.7,44.0h1.7v1.7h-1.7zM316.4,2.9h1.7v1.7h-1.7zM316.5,55.6h1.7v1.7h-1.7zM316.5,72.1h1.7v1.7h-1.7zM316.5,75.7h1.7v1.7h-1.7zM316.6,48.8h1.7v1.7h-1.7zM316.6,75.5h1.7v1.7h-1.7zM316.6,76.2h1.7v1.7h-1.7zM316.7,72.6h1.7v1.7h-1.7zM316.7,63.8h1.7v1.7h-1.7zM318.9,71.4h1.7v1.7h-1.7zM319.0,63.6h1.7v1.7h-1.7zM319.0,74.5h1.7v1.7h-1.7zM319.0,51.2h1.7v1.7h-1.7zM319.1,58.3h1.7v1.7h-1.7zM319.1,66.3h1.7v1.7h-1.7zM319.1,50.2h1.7v1.7h-1.7zM319.1,67.8h1.7v1.7h-1.7zM319.1,51.9h1.7v1.7h-1.7zM319.2,72.4h1.7v1.7h-1.7zM319.2,71.0h1.7v1.7h-1.7zM319.2,27.9h1.7v1.7h-1.7zM321.5,77.8h1.7v1.7h-1.7zM321.6,65.2h1.7v1.7h-1.7zM321.6,69.6h1.7v1.7h-1.7zM321.6,43.7h1.7v1.7h-1.7zM321.6,43.6h1.7v1.7h-1.7zM321.7,54.7h1.7v1.7h-1.7zM321.7,76.1h1.7v1.7h-1.7zM321.7,65.1h1.7v1.7h-1.7zM321.7,75.1h1.7v1.7h-1.7zM321.8,45.0h1.7v1.7h-1.7zM324.7,74.7h1.7v1.7h-1.7zM324.7,74.2h1.7v1.7h-1.7zM324.7,65.4h1.7v1.7h-1.7zM324.7,58.4h1.7v1.7h-1.7zM324.7,68.1h1.7v1.7h-1.7zM324.8,51.9h1.7v1.7h-1.7zM324.8,53.1h1.7v1.7h-1.7zM324.8,67.7h1.7v1.7h-1.7zM324.9,62.3h1.7v1.7h-1.7zM324.9,52.5h1.7v1.7h-1.7zM325.0,55.0h1.7v1.7h-1.7zM325.0,44.8h1.7v1.7h-1.7zM325.0,67.1h1.7v1.7h-1.7z" fill="#111"/>
</g>
<path d="M53.5,0.5H327.5V144.5H53.5ZM53.5,144.30h3M327.5,144.30h-3M53.5,134.74h1.7M327.5,134.74h-1.7M53.5,125.17h3M327.5,125.17h-3M53.5,115.61h1.7M327.5,115.61h-1.7M53.5,106.04h3M327.5,106.04h-3M53.5,96.48h1.7M327.5,96.48h-1.7M53.5,86.91h3M327.5,86.91h-3M53.5,77.35h1.7M327.5,77.35h-1.7M53.5,67.78h3M327.5,67.78h-3M53.5,58.22h1.7M327.5,58.22h-1.7M53.5,48.65h3M327.5,48.65h-3M53.5,39.09h1.7M327.5,39.09h-1.7M53.5,29.52h3M327.5,29.52h-3M53.5,19.96h1.7M327.5,19.96h-1.7M53.5,10.39h3M327.5,10.39h-3M53.30,144.5v-3M53.30,0.5v3M67.49,144.5v-1.7M67.49,0.5v1.7M81.67,144.5v-1.7M81.67,0.5v1.7M95.86,144.5v-1.7M95.86,0.5v1.7M110.05,144.5v-3M110.05,0.5v3M124.24,144.5v-1.7M124.24,0.5v1.7M138.43,144.5v-1.7M138.43,0.5v1.7M152.61,144.5v-1.7M152.61,0.5v1.7M166.80,144.5v-3M166.80,0.5v3M180.99,144.5v-1.7M180.99,0.5v1.7M195.18,144.5v-1.7M195.18,0.5v1.7M209.36,144.5v-1.7M209.36,0.5v1.7M223.55,144.5v-3M223.55,0.5v3M237.74,144.5v-1.7M237.74,0.5v1.7M251.93,144.5v-1.7M251.93,0.5v1.7M266.11,144.5v-1.7M266.11,0.5v1.7M280.30,144.5v-3M280.30,0.5v3M294.49,144.5v-1.7M294.49,0.5v1.7M308.68,144.5v-1.7M308.68,0.5v1.7M322.86,144.5v-1.7M322.86,0.5v1.7" fill="none" stroke="#111" stroke-width="1"/>
<rect x="82.6" y="7.6" width="73.5" height="19.7" rx="0.8" fill="#fff" stroke="#b0b0b0" stroke-width="1"/>
<line x1="84" y1="12.5" x2="101" y2="12.5" stroke="#c4c4c4" stroke-width="1.3"/>
<rect x="91.5" y="11.5" width="1.7" height="2" fill="#111"/>
<line x1="84" y1="21.9" x2="101" y2="21.9" stroke="#5a5aff" stroke-width="1.1"/>
<g clip-path="url(#c2)"><path d="M54.09,283.4a2.75,2.75 0 1,0 5.5,0a2.75,2.75 0 1,0 -5.5,0M63.52,271.8a2.75,2.75 0 1,0 5.5,0a2.75,2.75 0 1,0 -5.5,0M71.02,277.4a2.75,2.75 0 1,0 5.5,0a2.75,2.75 0 1,0 -5.5,0M70.97,269.7a2.75,2.75 0 1,0 5.5,0a2.75,2.75 0 1,0 -5.5,0M62.70,255.0a2.75,2.75 0 1,0 5.5,0a2.75,2.75 0 1,0 -5.5,0M55.31,277.4a2.75,2.75 0 1,0 5.5,0a2.75,2.75 0 1,0 -5.5,0M61.51,262.2a2.75,2.75 0 1,0 5.5,0a2.75,2.75 0 1,0 -5.5,0M57.03,281.7a2.75,2.75 0 1,0 5.5,0a2.75,2.75 0 1,0 -5.5,0M57.51,260.6a2.75,2.75 0 1,0 5.5,0a2.75,2.75 0 1,0 -5.5,0M57.58,258.1a2.75,2.75 0 1,0 5.5,0a2.75,2.75 0 1,0 -5.5,0M55.09,275.5a2.75,2.75 0 1,0 5.5,0a2.75,2.75 0 1,0 -5.5,0M51.58,276.4a2.75,2.75 0 1,0 5.5,0a2.75,2.75 0 1,0 -5.5,0M66.89,273.9a2.75,2.75 0 1,0 5.5,0a2.75,2.75 0 1,0 -5.5,0M51.03,263.3a2.75,2.75 0 1,0 5.5,0a2.75,2.75 0 1,0 -5.5,0M63.07,280.1a2.75,2.75 0 1,0 5.5,0a2.75,2.75 0 1,0 -5.5,0M58.64,261.3a2.75,2.75 0 1,0 5.5,0a2.75,2.75 0 1,0 -5.5,0M64.73,269.3a2.75,2.75 0 1,0 5.5,0a2.75,2.75 0 1,0 -5.5,0M63.23,266.7a2.75,2.75 0 1,0 5.5,0a2.75,2.75 0 1,0 -5.5,0M61.05,270.0a2.75,2.75 0 1,0 5.5,0a2.75,2.75 0 1,0 -5.5,0M67.46,279.8a2.75,2.75 0 1,0 5.5,0a2.75,2.75 0 1,0 -5.5,0M63.05,267.9a2.75,2.75 0 1,0 5.5,0a2.75,2.75 0 1,0 -5.5,0M70.07,277.5a2.75,2.75 0 1,0 5.5,0a2.75,2.75 0 1,0 -5.5,0M63.33,278.6a2.75,2.75 0 1,0 5.5,0a2.75,2.75 0 1,0 -5.5,0M69.59,259.3a2.75,2.75 0 1,0 5.5,0a2.75,2.75 0 1,0 -5.5,0M69.33,263.7a2.75,2.75 0 1,0 5.5,0a2.75,2.75 0 1,0 -5.5,0M65.94,269.9a2.75,2.75 0 1,0 5.5,0a2.75,2.75 0 1,0 -5.5,0M57.83,268.3a2.75,2.75 0 1,0 5.5,0a2.75,2.75 0 1,0 -5.5,0M61.21,275.5a2.75,2.75 0 1,0 5.5,0a2.75,2.75 0 1,0 -5.5,0M52.45,257.5a2.75,2.75 0 1,0 5.5,0a2.75,2.75 0 1,0 -5.5,0M66.34,278.8a2.75,2.75 0 1,0 5.5,0a2.75,2.75 0 1,0 -5.5,0M64.64,279.0a2.75,2.75 0 1,0 5.5,0a2.75,2.75 0 1,0 -5.5,0M68.34,271.7a2.75,2.75 0 1,0 5.5,0a2.75,2.75 0 1,0 -5.5,0M52.56,261.9a2.75,2.75 0 1,0 5.5,0a2.75,2.75 0 1,0 -5.5,0M53.51,273.0a2.75,2.75 0 1,0 5.5,0a2.75,2.75 0 1,0 -5.5,0M64.64,268.7a2.75,2.75 0 1,0 5.5,0a2.75,2.75 0 1,0 -5.5,0M66.49,277.5a2.75,2.75 0 1,0 5.5,0a2.75,2.75 0 1,0 -5.5,0M52.34,272.3a2.75,2.75 0 1,0 5.5,0a2.75,2.75 0 1,0 -5.5,0M51.41,278.8a2.75,2.75 0 1,0 5.5,0a2.75,2.75 0 1,0 -5.5,0M57.73,269.5a2.75,2.75 0 1,0 5.5,0a2.75,2.75 0 1,0 -5.5,0M58.05,284.5a2.75,2.75 0 1,0 5.5,0a2.75,2.75 0 1,0 -5.5,0M51.87,254.6a2.75,2.75 0 1,0 5.5,0a2.75,2.75 0 1,0 -5.5,0M52.85,264.9a2.75,2.75 0 1,0 5.5,0a2.75,2.75 0 1,0 -5.5,0M55.13,276.9a2.75,2.75 0 1,0 5.5,0a2.75,2.75 0 1,0 -5.5,0M51.05,260.9a2.75,2.75 0 1,0 5.5,0a2.75,2.75 0 1,0 -5.5,0M53.93,278.9a2.75,2.75 0 1,0 5.5,0a2.75,2.75 0 1,0 -5.5,0M51.30,263.3a2.75,2.75 0 1,0 5.5,0a2.75,2.75 0 1,0 -5.5,0M58.70,273.7a2.75,2.75 0 1,0 5.5,0a2.75,2.75 0 1,0 -5.5,0M66.85,265.7a2.75,2.75 0 1,0 5.5,0a2.75,2.75 0 1,0 -5.5,0M64.97,269.5a2.75,2.75 0 1,0 5.5,0a2.75,2.75 0 1,0 -5.5,0M63.75,274.4a2.75,2.75 0 1,0 5.5,0a2.75,2.75 0 1,0 -5.5,0M60.81,272.2a2.75,2.75 0 1,0 5.5,0a2.75,2.75 0 1,0 -5.5,0M54.78,269.9a2.75,2.75 0 1,0 5.5,0a2.75,2.75 0 1,0 -5.5,0M51.79,290.2a2.75,2.75 0 1,0 5.5,0a2.75,2.75 0 1,0 -5.5,0M54.74,273.1a2.75,2.75 0 1,0 5.5,0a2.75,2.75 0 1,0 -5.5,0M71.11,265.2a2.75,2.75 0 1,0 5.5,0a2.75,2.75 0 1,0 -5.5,0M68.25,280.4a2.75,2.75 0 1,0 5.5,0a2.75,2.75 0 1,0 -5.5,0M63.00,279.6a2.75,2.75 0 1,0 5.5,0a2.75,2.75 0 1,0 -5.5,0M63.94,282.8a2.75,2.75 0 1,0 5.5,0a2.75,2.75 0 1,0 -5.5,0M66.77,287.3a2.75,2.75 0 1,0 5.5,0a2.75,2.75 0 1,0 -5.5,0M68.42,265.5a2.75,2.75 0 1,0 5.5,0a2.75,2.75 0 1,0 -5.5,0M55.94,281.5a2.75,2.75 0 1,0 5.5,0a2.75,2.75 0 1,0 -5.5,0M68.00,282.1a2.75,2.75 0 1,0 5.5,0a2.75,2.75 0 1,0 -5.5,0M64.69,273.0a2.75,2.75 0 1,0 5.5,0a2.75,2.75 0 1,0 -5.5,0M56.73,275.0a2.75,2.75 0 1,0 5.5,0a2.75,2.75 0 1,0 -5.5,0M56.93,254.0a2.75,2.75 0 1,0 5.5,0a2.75,2.75 0 1,0 -5.5,0M54.43,268.4a2.75,2.75 0 1,0 5.5,0a2.75,2.75 0 1,0 -5.5,0M62.52,287.3a2.75,2.75 0 1,0 5.5,0a2.75,2.75 0 1,0 -5.5,0M71.58,258.7a2.75,2.75 0 1,0 5.5,0a2.75,2.75 0 1,0 -5.5,0M67.73,268.7a2.75,2.75 0 1,0 5.5,0a2.75,2.75 0 1,0 -5.5,0M54.33,275.3a2.75,2.75 0 1,0 5.5,0a2.75,2.75 0 1,0 -5.5,0M74.30,283.6a2.75,2.75 0 1,0 5.5,0a2.75,2.75 0 1,0 -5.5,0M73.18,261.9a2.75,2.75 0 1,0 5.5,0a2.75,2.75 0 1,0 -5.5,0M73.18,274.6a2.75,2.75 0 1,0 5.5,0a2.75,2.75 0 1,0 -5.5,0M73.51,293.8a2.75,2.75 0 1,0 5.5,0a2.75,2.75 0 1,0 -5.5,0M75.95,282.5a2.75,2.75 0 1,0 5.5,0a2.75,2.75 0 1,0 -5.5,0M83.72,274.5a2.75,2.75 0 1,0 5.5,0a2.75,2.75 0 1,0 -5.5,0M77.34,282.3a2.75,2.75 0 1,0 5.5,0a2.75,2.75 0 1,0 -5.5,0M77.43,259.1a2.75,2.75 0 1,0 5.5,0a2.75,2.75 0 1,0 -5.5,0M80.37,267.9a2.75,2.75 0 1,0 5.5,0a2.75,2.75 0 1,0 -5.5,0M84.28,288.0a2.75,2.75 0 1,0 5.5,0a2.75,2.75 0 1,0 -5.5,0M78.75,290.9a2.75,2.75 0 1,0 5.5,0a2.75,2.75 0 1,0 -5.5,0M79.80,277.3a2.75,2.75 0 1,0 5.5,0a2.75,2.75 0 1,0 -5.5,0M79.10,274.1a2.75,2.75 0 1,0 5.5,0a2.75,2.75 0 1,0 -5.5,0M75.93,263.6a2.75,2.75 0 1,0 5.5,0a2.75,2.75 0 1,0 -5.5,0M77.78,278.3a2.75,2.75 0 1,0 5.5,0a2.75,2.75 0 1,0 -5.5,0M84.38,282.0a2.75,2.75 0 1,0 5.5,0a2.75,2.75 0 1,0 -5.5,0M84.61,261.7a2.75,2.75 0 1,0 5.5,0a2.75,2.75 0 1,0 -5.5,0M77.43,280.0a2.75,2.75 0 1,0 5.5,0a2.75,2.75 0 1,0 -5.5,0M84.41,279.4a2.75,2.75 0 1,0 5.5,0a2.75,2.75 0 1,0 -5.5,0M74.92,279.0a2.75,2.75 0 1,0 5.5,0a2.75,2.75 0 1,0 -5.5,0M82.30,264.9a2.75,2.75 0 1,0 5.5,0a2.75,2.75 0 1,0 -5.5,0M75.02,279.9a2.75,2.75 0 1,0 5.5,0a2.75,2.75 0 1,0 -5.5,0M79.22,261.5a2.75,2.75 0 1,0 5.5,0a2.75,2.75 0 1,0 -5.5,0M79.08,288.4a2.75,2.75 0 1,0 5.5,0a2.75,2.75 0 1,0 -5.5,0M79.32,276.2a2.75,2.75 0 1,0 5.5,0a2.75,2.75 0 1,0 -5.5,0M84.63,264.5a2.75,2.75 0 1,0 5.5,0a2.75,2.75 0 1,0 -5.5,0M78.45,287.1a2.75,2.75 0 1,0 5.5,0a2.75,2.75 0 1,0 -5.5,0M74.94,285.4a2.75,2.75 0 1,0 5.5,0a2.75,2.75 0 1,0 -5.5,0M75.91,269.1a2.75,2.75 0 1,0 5.5,0a2.75,2.75 0 1,0 -5.5,0M82.62,294.8a2.75,2.75 0 1,0 5.5,0a2.75,2.75 0 1,0 -5.5,0M76.10,266.0a2.75,2.75 0 1,0 5.5,0a2.75,2.75 0 1,0 -5.5,0M75.37,277.8a2.75,2.75 0 1,0 5.5,0a2.75,2.75 0 1,0 -5.5,0M76.80,285.6a2.75,2.75 0 1,0 5.5,0a2.75,2.75 0 1,0 -5.5,0M85.02,256.0a2.75,2.75 0 1,0 5.5,0a2.75,2.75 0 1,0 -5.5,0M79.42,284.0a2.75,2.75 0 1,0 5.5,0a2.75,2.75 0 1,0 -5.5,0M76.31,274.4a2.75,2.75 0 1,0 5.5,0a2.75,2.75 0 1,0 -5.5,0M81.66,274.9a2.75,2.75 0 1,0 5.5,0a2.75,2.75 0 1,0 -5.5,0M78.72,265.3a2.75,2.75 0 1,0 5.5,0a2.75,2.75 0 1,0 -5.5,0M80.55,278.0a2.75,2.75 0 1,0 5.5,0a2.75,2.75 0 1,0 -5.5,0M85.21,265.0a2.75,2.75 0 1,0 5.5,0a2.75,2.75 0 1,0 -5.5,0M82.09,266.3a2.75,2.75 0 1,0 5.5,0a2.75,2.75 0 1,0 -5.5,0M80.37,271.0a2.75,2.75 0 1,0 5.5,0a2.75,2.75 0 1,0 -5.5,0M101.62,253.2a2.75,2.75 0 1,0 5.5,0a2.75,2.75 0 1,0 -5.5,0M97.59,276.8a2.75,2.75 0 1,0 5.5,0a2.75,2.75 0 1,0 -5.5,0M97.04,275.9a2.75,2.75 0 1,0 5.5,0a2.75,2.75 0 1,0 -5.5,0M93.29,283.1a2.75,2.75 0 1,0 5.5,0a2.75,2.75 0 1,0 -5.5,0M86.27,272.3a2.75,2.75 0 1,0 5.5,0a2.75,2.75 0 1,0 -5.5,0M87.38,277.1a2.75,2.75 0 1,0 5.5,0a2.75,2.75 0 1,0 -5.5,0M99.32,267.9a2.75,2.75 0 1,0 5.5,0a2.75,2.75 0 1,0 -5.5,0M88.34,270.9a2.75,2.75 0 1,0 5.5,0a2.75,2.75 0 1,0 -5.5,0M96.92,256.5a2.75,2.75 0 1,0 5.5,0a2.75,2.75 0 1,0 -5.5,0M87.97,277.4a2.75,2.75 0 1,0 5.5,0a2.75,2.75 0 1,0 -5.5,0M98.09,293.0a2.75,2.75 0 1,0 5.5,0a2.75,2.75 0 1,0 -5.5,0M101.50,277.8a2.75,2.75 0 1,0 5.5,0a2.75,2.75 0 1,0 -5.5,0M95.76,280.0a2.75,2.75 0 1,0 5.5,0a2.75,2.75 0 1,0 -5.5,0M85.91,265.2a2.75,2.75 0 1,0 5.5,0a2.75,2.75 0 1,0 -5.5,0M97.78,291.7a2.75,2.75 0 1,0 5.5,0a2.75,2.75 0 1,0 -5.5,0M93.34,267.6a2.75,2.75 0 1,0 5.5,0a2.75,2.75 0 1,0 -5.5,0M99.97,284.8a2.75,2.75 0 1,0 5.5,0a2.75,2.75 0 1,0 -5.5,0M87.78,277.2a2.75,2.75 0 1,0 5.5,0a2.75,2.75 0 1,0 -5.5,0M90.02,265.4a2.75,2.75 0 1,0 5.5,0a2.75,2.75 0 1,0 -5.5,0M100.88,287.3a2.75,2.75 0 1,0 5.5,0a2.75,2.75 0 1,0 -5.5,0M99.48,276.2a2.75,2.75 0 1,0 5.5,0a2.75,2.75 0 1,0 -5.5,0M100.71,278.0a2.75,2.75 0 1,0 5.5,0a2.75,2.75 0 1,0 -5.5,0M94.10,281.0a2.75,2.75 0 1,0 5.5,0a2.75,2.75 0 1,0 -5.5,0M96.71,275.8a2.75,2.75 0 1,0 5.5,0a2.75,2.75 0 1,0 -5.5,0M101.11,271.8a2.75,2.75 0 1,0 5.5,0a2.75,2.75 0 1,0 -5.5,0M96.47,281.1a2.75,2.75 0 1,0 5.5,0a2.75,2.75 0 1,0 -5.5,0M86.74,271.5a2.75,2.75 0 1,0 5.5,0a2.75,2.75 0 1,0 -5.5,0M87.88,276.7a2.75,2.75 0 1,0 5.5,0a2.75,2.75 0 1,0 -5.5,0M85.29,268.7a2.75,2.75 0 1,0 5.5,0a2.75,2.75 0 1,0 -5.5,0M87.14,259.6a2.75,2.75 0 1,0 5.5,0a2.75,2.75 0 1,0 -5.5,0M85.71,268.6a2.75,2.75 0 1,0 5.5,0a2.75,2.75 0 1,0 -5.5,0M91.79,270.6a2.75,2.75 0 1,0 5.5,0a2.75,2.75 0 1,0 -5.5,0M95.73,276.2a2.75,2.75 0 1,0 5.5,0a2.75,2.75 0 1,0 -5.5,0M99.89,289.0a2.75,2.75 0 1,0 5.5,0a2.75,2.75 0 1,0 -5.5,0M92.20,257.4a2.75,2.75 0 1,0 5.5,0a2.75,2.75 0 1,0 -5.5,0M87.98,277.4a2.75,2.75 0 1,0 5.5,0a2.75,2.75 0 1,0 -5.5,0M100.70,251.7a2.75,2.75 0 1,0 5.5,0a2.75,2.75 0 1,0 -5.5,0M100.84,264.5a2.75,2.75 0 1,0 5.5,0a2.75,2.75 0 1,0 -5.5,0M101.87,270.4a2.75,2.75 0 1,0 5.5,0a2.75,2.75 0 1,0 -5.5,0M85.65,251.2a2.75,2.75 0 1,0 5.5,0a2.75,2.75 0 1,0 -5.5,0M95.29,255.6a2.75,2.75 0 1,0 5.5,0a2.75,2.75 0 1,0 -5.5,0M95.97,277.7a2.75,2.75 0 1,0 5.5,0a2.75,2.75 0 1,0 -5.5,0M94.33,276.9a2.75,2.75 0 1,0 5.5,0a2.75,2.75 0 1,0 -5.5,0M88.44,274.7a2.75,2.75 0 1,0 5.5,0a2.75,2.75 0 1,0 -5.5,0M100.90,267.2a2.75,2.75 0 1,0 5.5,0a2.75,2.75 0 1,0 -5.5,0M94.37,299.7a2.75,2.75 0 1,0 5.5,0a2.75,2.75 0 1,0 -5.5,0M85.88,274.2a2.75,2.75 0 1,0 5.5,0a2.75,2.75 0 1,0 -5.5,0M91.14,266.5a2.75,2.75 0 1,0 5.5,0a2.75,2.75 0 1,0 -5.5,0M97.61,294.5a2.75,2.75 0 1,0 5.5,0a2.75,2.75 0 1,0 -5.5,0M88.70,282.8a2.75,2.75 0 1,0 5.5,0a2.75,2.75 0 1,0 -5.5,0M98.45,271.9a2.75,2.75 0 1,0 5.5,0a2.75,2.75 0 1,0 -5.5,0M88.82,289.1a2.75,2.75 0 1,0 5.5,0a2.75,2.75 0 1,0 -5.5,0M92.61,277.7a2.75,2.75 0 1,0 5.5,0a2.75,2.75 0 1,0 -5.5,0M90.22,283.1a2.75,2.75 0 1,0 5.5,0a2.75,2.75 0 1,0 -5.5,0M87.42,278.6a2.75,2.75 0 1,0 5.5,0a2.75,2.75 0 1,0 -5.5,0M100.28,264.7a2.75,2.75 0 1,0 5.5,0a2.75,2.75 0 1,0 -5.5,0M91.04,286.7a2.75,2.75 0 1,0 5.5,0a2.75,2.75 0 1,0 -5.5,0M98.02,277.8a2.75,2.75 0 1,0 5.5,0a2.75,2.75 0 1,0 -5.5,0M100.40,264.9a2.75,2.75 0 1,0 5.5,0a2.75,2.75 0 1,0 -5.5,0M90.06,267.6a2.75,2.75 0 1,0 5.5,0a2.75,2.75 0 1,0 -5.5,0M85.34,286.5a2.75,2.75 0 1,0 5.5,0a2.75,2.75 0 1,0 -5.5,0M94.18,271.9a2.75,2.75 0 1,0 5.5,0a2.75,2.75 0 1,0 -5.5,0M89.25,276.5a2.75,2.75 0 1,0 5.5,0a2.75,2.75 0 1,0 -5.5,0M100.11,283.2a2.75,2.75 0 1,0 5.5,0a2.75,2.75 0 1,0 -5.5,0M88.05,277.4a2.75,2.75 0 1,0 5.5,0a2.75,2.75 0 1,0 -5.5,0M97.51,259.2a2.75,2.75 0 1,0 5.5,0a2.75,2.75 0 1,0 -5.5,0M85.69,283.0a2.75,2.75 0 1,0 5.5,0a2.75,2.75 0 1,0 -5.5,0M89.86,286.3a2.75,2.75 0 1,0 5.5,0a2.75,2.75 0 1,0 -5.5,0M88.60,285.5a2.75,2.75 0 1,0 5.5,0a2.75,2.75 0 1,0 -5.5,0M99.74,293.8a2.75,2.75 0 1,0 5.5,0a2.75,2.75 0 1,0 -5.5,0M95.44,280.0a2.75,2.75 0 1,0 5.5,0a2.75,2.75 0 1,0 -5.5,0M96.46,284.5a2.75,2.75 0 1,0 5.5,0a2.75,2.75 0 1,0 -5.5,0M86.65,293.5a2.75,2.75 0 1,0 5.5,0a2.75,2.75 0 1,0 -5.5,0M90.50,272.8a2.75,2.75 0 1,0 5.5,0a2.75,2.75 0 1,0 -5.5,0M100.42,295.1a2.75,2.75 0 1,0 5.5,0a2.75,2.75 0 1,0 -5.5,0M105.23,300.9a2.75,2.75 0 1,0 5.5,0a2.75,2.75 0 1,0 -5.5,0M108.23,303.3a2.75,2.75 0 1,0 5.5,0a2.75,2.75 0 1,0 -5.5,0M102.50,293.4a2.75,2.75 0 1,0 5.5,0a2.75,2.75 0 1,0 -5.5,0M103.74,307.0a2.75,2.75 0 1,0 5.5,0a2.75,2.75 0 1,0 -5.5,0M103.56,289.9a2.75,2.75 0 1,0 5.5,0a2.75,2.75 0 1,0 -5.5,0M110.56,275.0a2.75,2.75 0 1,0 5.5,0a2.75,2.75 0 1,0 -5.5,0M110.75,288.8a2.75,2.75 0 1,0 5.5,0a2.75,2.75 0 1,0 -5.5,0M105.18,278.2a2.75,2.75 0 1,0 5.5,0a2.75,2.75 0 1,0 -5.5,0M105.94,268.7a2.75,2.75 0 1,0 5.5,0a2.75,2.75 0 1,0 -5.5,0M111.52,269.0a2.75,2.75 0 1,0 5.5,0a2.75,2.75 0 1,0 -5.5,0M106.90,307.0a2.75,2.75 0 1,0 5.5,0a2.75,2.75 0 1,0 -5.5,0M106.43,277.1a2.75,2.75 0 1,0 5.5,0a2.75,2.75 0 1,0 -5.5,0M113.60,282.8a2.75,2.75 0 1,0 5.5,0a2.75,2.75 0 1,0 -5.5,0M108.78,275.8a2.75,2.75 0 1,0 5.5,0a2.75,2.75 0 1,0 -5.5,0M108.71,284.6a2.75,2.75 0 1,0 5.5,0a2.75,2.75 0 1,0 -5.5,0M109.58,280.5a2.75,2.75 0 1,0 5.5,0a2.75,2.75 0 1,0 -5.5,0M102.74,278.6a2.75,2.75 0 1,0 5.5,0a2.75,2.75 0 1,0 -5.5,0M107.04,269.8a2.75,2.75 0 1,0 5.5,0a2.75,2.75 0 1,0 -5.5,0M111.71,267.6a2.75,2.75 0 1,0 5.5,0a2.75,2.75 0 1,0 -5.5,0M110.06,274.9a2.75,2.75 0 1,0 5.5,0a2.75,2.75 0 1,0 -5.5,0M112.93,286.3a2.75,2.75 0 1,0 5.5,0a2.75,2.75 0 1,0 -5.5,0M105.98,306.0a2.75,2.75 0 1,0 5.5,0a2.75,2.75 0 1,0 -5.5,0M107.96,294.7a2.75,2.75 0 1,0 5.5,0a2.75,2.75 0 1,0 -5.5,0M105.07,303.2a2.75,2.75 0 1,0 5.5,0a2.75,2.75 0 1,0 -5.5,0M104.48,288.5a2.75,2.75 0 1,0 5.5,0a2.75,2.75 0 1,0 -5.5,0M103.34,282.2a2.75,2.75 0 1,0 5.5,0a2.75,2.75 0 1,0 -5.5,0M104.64,268.6a2.75,2.75 0 1,0 5.5,0a2.75,2.75 0 1,0 -5.5,0M104.22,283.2a2.75,2.75 0 1,0 5.5,0a2.75,2.75 0 1,0 -5.5,0M107.52,259.6a2.75,2.75 0 1,0 5.5,0a2.75,2.75 0 1,0 -5.5,0M107.18,279.9a2.75,2.75 0 1,0 5.5,0a2.75,2.75 0 1,0 -5.5,0M111.42,301.1a2.75,2.75 0 1,0 5.5,0a2.75,2.75 0 1,0 -5.5,0M111.59,286.8a2.75,2.75 0 1,0 5.5,0a2.75,2.75 0 1,0 -5.5,0M108.74,295.6a2.75,2.75 0 1,0 5.5,0a2.75,2.75 0 1,0 -5.5,0M110.13,279.0a2.75,2.75 0 1,0 5.5,0a2.75,2.75 0 1,0 -5.5,0M107.87,268.1a2.75,2.75 0 1,0 5.5,0a2.75,2.75 0 1,0 -5.5,0M105.97,277.9a2.75,2.75 0 1,0 5.5,0a2.75,2.75 0 1,0 -5.5,0M108.29,278.9a2.75,2.75 0 1,0 5.5,0a2.75,2.75 0 1,0 -5.5,0M109.82,296.5a2.75,2.75 0 1,0 5.5,0a2.75,2.75 0 1,0 -5.5,0M113.71,305.0a2.75,2.75 0 1,0 5.5,0a2.75,2.75 0 1,0 -5.5,0M112.05,275.1a2.75,2.75 0 1,0 5.5,0a2.75,2.75 0 1,0 -5.5,0M103.05,279.3a2.75,2.75 0 1,0 5.5,0a2.75,2.75 0 1,0 -5.5,0M109.93,281.6a2.75,2.75 0 1,0 5.5,0a2.75,2.75 0 1,0 -5.5,0M103.34,279.4a2.75,2.75 0 1,0 5.5,0a2.75,2.75 0 1,0 -5.5,0M109.72,269.6a2.75,2.75 0 1,0 5.5,0a2.75,2.75 0 1,0 -5.5,0M112.44,284.3a2.75,2.75 0 1,0 5.5,0a2.75,2.75 0 1,0 -5.5,0M110.64,287.2a2.75,2.75 0 1,0 5.5,0a2.75,2.75 0 1,0 -5.5,0M103.68,287.5a2.75,2.75 0 1,0 5.5,0a2.75,2.75 0 1,0 -5.5,0M107.33,270.0a2.75,2.75 0 1,0 5.5,0a2.75,2.75 0 1,0 -5.5,0M104.59,282.0a2.75,2.75 0 1,0 5.5,0a2.75,2.75 0 1,0 -5.5,0M110.18,264.1a2.75,2.75 0 1,0 5.5,0a2.75,2.75 0 1,0 -5.5,0M136.26,296.5a2.75,2.75 0 1,0 5.5,0a2.75,2.75 0 1,0 -5.5,0M128.41,306.4a2.75,2.75 0 1,0 5.5,0a2.75,2.75 0 1,0 -5.5,0M120.52,296.7a2.75,2.75 0 1,0 5.5,0a2.75,2.75 0 1,0 -5.5,0M124.61,287.9a2.75,2.75 0 1,0 5.5,0a2.75,2.75 0 1,0 -5.5,0M135.23,306.1a2.75,2.75 0 1,0 5.5,0a2.75,2.75 0 1,0 -5.5,0M128.04,298.1a2.75,2.75 0 1,0 5.5,0a2.75,2.75 0 1,0 -5.5,0M130.28,297.5a2.75,2.75 0 1,0 5.5,0a2.75,2.75 0 1,0 -5.5,0M130.35,297.2a2.75,2.75 0 1,0 5.5,0a2.75,2.75 0 1,0 -5.5,0M136.81,305.5a2.75,2.75 0 1,0 5.5,0a2.75,2.75 0 1,0 -5.5,0M129.32,303.8a2.75,2.75 0 1,0 5.5,0a2.75,2.75 0 1,0 -5.5,0M116.74,298.5a2.75,2.75 0 1,0 5.5,0a2.75,2.75 0 1,0 -5.5,0M125.88,282.5a2.75,2.75 0 1,0 5.5,0a2.75,2.75 0 1,0 -5.5,0M135.46,292.8a2.75,2.75 0 1,0 5.5,0a2.75,2.75 0 1,0 -5.5,0M117.23,297.4a2.75,2.75 0 1,0 5.5,0a2.75,2.75 0 1,0 -5.5,0M115.43,312.6a2.75,2.75 0 1,0 5.5,0a2.75,2.75 0 1,0 -5.5,0M115.41,299.9a2.75,2.75 0 1,0 5.5,0a2.75,2.75 0 1,0 -5.5,0M115.86,295.6a2.75,2.75 0 1,0 5.5,0a2.75,2.75 0 1,0 -5.5,0M118.01,307.2a2.75,2.75 0 1,0 5.5,0a2.75,2.75 0 1,0 -5.5,0M131.98,295.5a2.75,2.75 0 1,0 5.5,0a2.75,2.75 0 1,0 -5.5,0M128.04,296.2a2.75,2.75 0 1,0 5.5,0a2.75,2.75 0 1,0 -5.5,0M131.08,297.9a2.75,2.75 0 1,0 5.5,0a2.75,2.75 0 1,0 -5.5,0M127.05,283.0a2.75,2.75 0 1,0 5.5,0a2.75,2.75 0 1,0 -5.5,0M122.39,305.1a2.75,2.75 0 1,0 5.5,0a2.75,2.75 0 1,0 -5.5,0M132.34,300.3a2.75,2.75 0 1,0 5.5,0a2.75,2.75 0 1,0 -5.5,0M118.15,293.9a2.75,2.75 0 1,0 5.5,0a2.75,2.75 0 1,0 -5.5,0M122.53,286.2a2.75,2.75 0 1,0 5.5,0a2.75,2.75 0 1,0 -5.5,0M123.80,298.4a2.75,2.75 0 1,0 5.5,0a2.75,2.75 0 1,0 -5.5,0M129.90,309.1a2.75,2.75 0 1,0 5.5,0a2.75,2.75 0 1,0 -5.5,0M131.75,290.7a2.75,2.75 0 1,0 5.5,0a2.75,2.75 0 1,0 -5.5,0M127.29,286.9a2.75,2.75 0 1,0 5.5,0a2.75,2.75 0 1,0 -5.5,0M128.23,300.3a2.75,2.75 0 1,0 5.5,0a2.75,2.75 0 1,0 -5.5,0M120.71,282.1a2.75,2.75 0 1,0 5.5,0a2.75,2.75 0 1,0 -5.5,0M127.89,276.5a2.75,2.75 0 1,0 5.5,0a2.75,2.75 0 1,0 -5.5,0M133.65,292.5a2.75,2.75 0 1,0 5.5,0a2.75,2.75 0 1,0 -5.5,0M124.35,290.3a2.75,2.75 0 1,0 5.5,0a2.75,2.75 0 1,0 -5.5,0M131.54,294.0a2.75,2.75 0 1,0 5.5,0a2.75,2.75 0 1,0 -5.5,0M125.94,291.5a2.75,2.75 0 1,0 5.5,0a2.75,2.75 0 1,0 -5.5,0M126.05,299.5a2.75,2.75 0 1,0 5.5,0a2.75,2.75 0 1,0 -5.5,0M128.23,294.5a2.75,2.75 0 1,0 5.5,0a2.75,2.75 0 1,0 -5.5,0M117.47,291.1a2.75,2.75 0 1,0 5.5,0a2.75,2.75 0 1,0 -5.5,0M119.20,292.4a2.75,2.75 0 1,0 5.5,0a2.75,2.75 0 1,0 -5.5,0M118.29,302.2a2.75,2.75 0 1,0 5.5,0a2.75,2.75 0 1,0 -5.5,0M126.56,305.1a2.75,2.75 0 1,0 5.5,0a2.75,2.75 0 1,0 -5.5,0M129.64,304.7a2.75,2.75 0 1,0 5.5,0a2.75,2.75 0 1,0 -5.5,0M130.52,302.8a2.75,2.75 0 1,0 5.5,0a2.75,2.75 0 1,0 -5.5,0M119.04,274.0a2.75,2.75 0 1,0 5.5,0a2.75,2.75 0 1,0 -5.5,0M121.93,287.5a2.75,2.75 0 1,0 5.5,0a2.75,2.75 0 1,0 -5.5,0M117.60,293.7a2.75,2.75 0 1,0 5.5,0a2.75,2.75 0 1,0 -5.5,0M129.29,298.4a2.75,2.75 0 1,0 5.5,0a2.75,2.75 0 1,0 -5.5,0M123.92,282.0a2.75,2.75 0 1,0 5.5,0a2.75,2.75 0 1,0 -5.5,0M120.53,309.3a2.75,2.75 0 1,0 5.5,0a2.75,2.75 0 1,0 -5.5,0M119.42,299.3a2.75,2.75 0 1,0 5.5,0a2.75,2.75 0 1,0 -5.5,0M136.08,290.9a2.75,2.75 0 1,0 5.5,0a2.75,2.75 0 1,0 -5.5,0M125.33,298.0a2.75,2.75 0 1,0 5.5,0a2.75,2.75 0 1,0 -5.5,0M137.05,293.4a2.75,2.75 0 1,0 5.5,0a2.75,2.75 0 1,0 -5.5,0M121.64,289.7a2.75,2.75 0 1,0 5.5,0a2.75,2.75 0 1,0 -5.5,0M119.21,301.1a2.75,2.75 0 1,0 5.5,0a2.75,2.75 0 1,0 -5.5,0M130.72,292.5a2.75,2.75 0 1,0 5.5,0a2.75,2.75 0 1,0 -5.5,0M135.23,283.8a2.75,2.75 0 1,0 5.5,0a2.75,2.75 0 1,0 -5.5,0M118.02,290.8a2.75,2.75 0 1,0 5.5,0a2.75,2.75 0 1,0 -5.5,0M134.08,295.5a2.75,2.75 0 1,0 5.5,0a2.75,2.75 0 1,0 -5.5,0M127.76,286.8a2.75,2.75 0 1,0 5.5,0a2.75,2.75 0 1,0 -5.5,0M135.05,307.9a2.75,2.75 0 1,0 5.5,0a2.75,2.75 0 1,0 -5.5,0M136.01,286.7a2.75,2.75 0 1,0 5.5,0a2.75,2.75 0 1,0 -5.5,0M124.07,312.4a2.75,2.75 0 1,0 5.5,0a2.75,2.75 0 1,0 -5.5,0M135.90,304.6a2.75,2.75 0 1,0 5.5,0a2.75,2.75 0 1,0 -5.5,0M118.40,288.1a2.75,2.75 0 1,0 5.5,0a2.75,2.75 0 1,0 -5.5,0M124.46,297.7a2.75,2.75 0 1,0 5.5,0a2.75,2.75 0 1,0 -5.5,0M124.44,307.2a2.75,2.75 0 1,0 5.5,0a2.75,2.75 0 1,0 -5.5,0M119.89,294.8a2.75,2.75 0 1,0 5.5,0a2.75,2.75 0 1,0 -5.5,0M125.38,285.8a2.75,2.75 0 1,0 5.5,0a2.75,2.75 0 1,0 -5.5,0M131.56,297.6a2.75,2.75 0 1,0 5.5,0a2.75,2.75 0 1,0 -5.5,0M116.74,314.5a2.75,2.75 0 1,0 5.5,0a2.75,2.75 0 1,0 -5.5,0M125.31,283.2a2.75,2.75 0 1,0 5.5,0a2.75,2.75 0 1,0 -5.5,0M126.34,301.6a2.75,2.75 0 1,0 5.5,0a2.75,2.75 0 1,0 -5.5,0M118.77,296.7a2.75,2.75 0 1,0 5.5,0a2.75,2.75 0 1,0 -5.5,0M129.02,295.5a2.75,2.75 0 1,0 5.5,0a2.75,2.75 0 1,0 -5.5,0M120.06,293.1a2.75,2.75 0 1,0 5.5,0a2.75,2.75 0 1,0 -5.5,0M127.38,293.7a2.75,2.75 0 1,0 5.5,0a2.75,2.75 0 1,0 -5.5,0M127.40,305.9a2.75,2.75 0 1,0 5.5,0a2.75,2.75 0 1,0 -5.5,0M131.47,302.0a2.75,2.75 0 1,0 5.5,0a2.75,2.75 0 1,0 -5.5,0M135.75,287.6a2.75,2.75 0 1,0 5.5,0a2.75,2.75 0 1,0 -5.5,0M135.55,310.6a2.75,2.75 0 1,0 5.5,0a2.75,2.75 0 1,0 -5.5,0M125.80,284.9a2.75,2.75 0 1,0 5.5,0a2.75,2.75 0 1,0 -5.5,0M120.29,302.6a2.75,2.75 0 1,0 5.5,0a2.75,2.75 0 1,0 -5.5,0M119.82,298.3a2.75,2.75 0 1,0 5.5,0a2.75,2.75 0 1,0 -5.5,0M132.34,307.4a2.75,2.75 0 1,0 5.5,0a2.75,2.75 0 1,0 -5.5,0M131.74,299.8a2.75,2.75 0 1,0 5.5,0a2.75,2.75 0 1,0 -5.5,0M132.51,306.1a2.75,2.75 0 1,0 5.5,0a2.75,2.75 0 1,0 -5.5,0M133.42,296.4a2.75,2.75 0 1,0 5.5,0a2.75,2.75 0 1,0 -5.5,0M127.25,305.4a2.75,2.75 0 1,0 5.5,0a2.75,2.75 0 1,0 -5.5,0M134.89,299.7a2.75,2.75 0 1,0 5.5,0a2.75,2.75 0 1,0 -5.5,0M129.36,316.0a2.75,2.75 0 1,0 5.5,0a2.75,2.75 0 1,0 -5.5,0M128.77,290.4a2.75,2.75 0 1,0 5.5,0a2.75,2.75 0 1,0 -5.5,0M133.50,307.4a2.75,2.75 0 1,0 5.5,0a2.75,2.75 0 1,0 -5.5,0M129.25,300.8a2.75,2.75 0 1,0 5.5,0a2.75,2.75 0 1,0 -5.5,0M131.91,298.2a2.75,2.75 0 1,0 5.5,0a2.75,2.75 0 1,0 -5.5,0M135.64,291.5a2.75,2.75 0 1,0 5.5,0a2.75,2.75 0 1,0 -5.5,0M123.34,300.7a2.75,2.75 0 1,0 5.5,0a2.75,2.75 0 1,0 -5.5,0M131.52,283.4a2.75,2.75 0 1,0 5.5,0a2.75,2.75 0 1,0 -5.5,0M121.12,284.3a2.75,2.75 0 1,0 5.5,0a2.75,2.75 0 1,0 -5.5,0M125.44,303.1a2.75,2.75 0 1,0 5.5,0a2.75,2.75 0 1,0 -5.5,0M134.34,282.7a2.75,2.75 0 1,0 5.5,0a2.75,2.75 0 1,0 -5.5,0M136.64,309.6a2.75,2.75 0 1,0 5.5,0a2.75,2.75 0 1,0 -5.5,0M136.04,294.2a2.75,2.75 0 1,0 5.5,0a2.75,2.75 0 1,0 -5.5,0M150.28,290.7a2.75,2.75 0 1,0 5.5,0a2.75,2.75 0 1,0 -5.5,0M150.74,300.4a2.75,2.75 0 1,0 5.5,0a2.75,2.75 0 1,0 -5.5,0M152.87,292.4a2.75,2.75 0 1,0 5.5,0a2.75,2.75 0 1,0 -5.5,0M140.00,292.0a2.75,2.75 0 1,0 5.5,0a2.75,2.75 0 1,0 -5.5,0M138.17,293.9a2.75,2.75 0 1,0 5.5,0a2.75,2.75 0 1,0 -5.5,0M154.83,289.4a2.75,2.75 0 1,0 5.5,0a2.75,2.75 0 1,0 -5.5,0M149.38,293.6a2.75,2.75 0 1,0 5.5,0a2.75,2.75 0 1,0 -5.5,0M139.13,298.5a2.75,2.75 0 1,0 5.5,0a2.75,2.75 0 1,0 -5.5,0M151.43,298.5a2.75,2.75 0 1,0 5.5,0a2.75,2.75 0 1,0 -5.5,0M138.38,285.2a2.75,2.75 0 1,0 5.5,0a2.75,2.75 0 1,0 -5.5,0M149.89,273.0a2.75,2.75 0 1,0 5.5,0a2.75,2.75 0 1,0 -5.5,0M148.35,282.6a2.75,2.75 0 1,0 5.5,0a2.75,2.75 0 1,0 -5.5,0M151.56,293.5a2.75,2.75 0 1,0 5.5,0a2.75,2.75 0 1,0 -5.5,0M139.13,268.0a2.75,2.75 0 1,0 5.5,0a2.75,2.75 0 1,0 -5.5,0M155.42,285.9a2.75,2.75 0 1,0 5.5,0a2.75,2.75 0 1,0 -5.5,0M156.06,295.1a2.75,2.75 0 1,0 5.5,0a2.75,2.75 0 1,0 -5.5,0M156.94,285.0a2.75,2.75 0 1,0 5.5,0a2.75,2.75 0 1,0 -5.5,0M152.57,279.4a2.75,2.75 0 1,0 5.5,0a2.75,2.75 0 1,0 -5.5,0M143.48,308.2a2.75,2.75 0 1,0 5.5,0a2.75,2.75 0 1,0 -5.5,0M156.82,304.5a2.75,2.75 0 1,0 5.5,0a2.75,2.75 0 1,0 -5.5,0M149.53,288.0a2.75,2.75 0 1,0 5.5,0a2.75,2.75 0 1,0 -5.5,0M151.62,303.8a2.75,2.75 0 1,0 5.5,0a2.75,2.75 0 1,0 -5.5,0M150.48,303.6a2.75,2.75 0 1,0 5.5,0a2.75,2.75 0 1,0 -5.5,0M141.38,279.3a2.75,2.75 0 1,0 5.5,0a2.75,2.75 0 1,0 -5.5,0M154.31,313.0a2.75,2.75 0 1,0 5.5,0a2.75,2.75 0 1,0 -5.5,0M150.19,281.2a2.75,2.75 0 1,0 5.5,0a2.75,2.75 0 1,0 -5.5,0M141.67,288.0a2.75,2.75 0 1,0 5.5,0a2.75,2.75 0 1,0 -5.5,0M144.81,279.6a2.75,2.75 0 1,0 5.5,0a2.75,2.75 0 1,0 -5.5,0M140.12,291.4a2.75,2.75 0 1,0 5.5,0a2.75,2.75 0 1,0 -5.5,0M145.91,277.4a2.75,2.75 0 1,0 5.5,0a2.75,2.75 0 1,0 -5.5,0M157.04,290.5a2.75,2.75 0 1,0 5.5,0a2.75,2.75 0 1,0 -5.5,0M144.92,301.4a2.75,2.75 0 1,0 5.5,0a2.75,2.75 0 1,0 -5.5,0M145.16,292.7a2.75,2.75 0 1,0 5.5,0a2.75,2.75 0 1,0 -5.5,0M153.31,287.9a2.75,2.75 0 1,0 5.5,0a2.75,2.75 0 1,0 -5.5,0M138.91,306.0a2.75,2.75 0 1,0 5.5,0a2.75,2.75 0 1,0 -5.5,0M139.64,281.6a2.75,2.75 0 1,0 5.5,0a2.75,2.75 0 1,0 -5.5,0M152.17,300.2a2.75,2.75 0 1,0 5.5,0a2.75,2.75 0 1,0 -5.5,0M139.86,287.5a2.75,2.75 0 1,0 5.5,0a2.75,2.75 0 1,0 -5.5,0M149.48,292.7a2.75,2.75 0 1,0 5.5,0a2.75,2.75 0 1,0 -5.5,0M153.59,290.8a2.75,2.75 0 1,0 5.5,0a2.75,2.75 0 1,0 -5.5,0M148.51,291.8a2.75,2.75 0 1,0 5.5,0a2.75,2.75 0 1,0 -5.5,0M138.85,290.0a2.75,2.75 0 1,0 5.5,0a2.75,2.75 0 1,0 -5.5,0M141.38,282.7a2.75,2.75 0 1,0 5.5,0a2.75,2.75 0 1,0 -5.5,0M148.06,284.8a2.75,2.75 0 1,0 5.5,0a2.75,2.75 0 1,0 -5.5,0M156.33,294.9a2.75,2.75 0 1,0 5.5,0a2.75,2.75 0 1,0 -5.5,0M150.33,289.4a2.75,2.75 0 1,0 5.5,0a2.75,2.75 0 1,0 -5.5,0M151.19,278.9a2.75,2.75 0 1,0 5.5,0a2.75,2.75 0 1,0 -5.5,0M149.16,283.4a2.75,2.75 0 1,0 5.5,0a2.75,2.75 0 1,0 -5.5,0M143.77,283.5a2.75,2.75 0 1,0 5.5,0a2.75,2.75 0 1,0 -5.5,0M149.40,289.9a2.75,2.75 0 1,0 5.5,0a2.75,2.75 0 1,0 -5.5,0M137.44,292.2a2.75,2.75 0 1,0 5.5,0a2.75,2.75 0 1,0 -5.5,0M145.53,291.4a2.75,2.75 0 1,0 5.5,0a2.75,2.75 0 1,0 -5.5,0M153.49,283.9a2.75,2.75 0 1,0 5.5,0a2.75,2.75 0 1,0 -5.5,0M141.34,290.6a2.75,2.75 0 1,0 5.5,0a2.75,2.75 0 1,0 -5.5,0M150.22,276.7a2.75,2.75 0 1,0 5.5,0a2.75,2.75 0 1,0 -5.5,0M151.66,268.0a2.75,2.75 0 1,0 5.5,0a2.75,2.75 0 1,0 -5.5,0M140.38,289.9a2.75,2.75 0 1,0 5.5,0a2.75,2.75 0 1,0 -5.5,0M154.41,273.9a2.75,2.75 0 1,0 5.5,0a2.75,2.75 0 1,0 -5.5,0M142.13,280.9a2.75,2.75 0 1,0 5.5,0a2.75,2.75 0 1,0 -5.5,0M156.50,278.3a2.75,2.75 0 1,0 5.5,0a2.75,2.75 0 1,0 -5.5,0M144.14,296.7a2.75,2.75 0 1,0 5.5,0a2.75,2.75 0 1,0 -5.5,0M149.48,278.3a2.75,2.75 0 1,0 5.5,0a2.75,2.75 0 1,0 -5.5,0M156.22,293.1a2.75,2.75 0 1,0 5.5,0a2.75,2.75 0 1,0 -5.5,0M153.65,285.5a2.75,2.75 0 1,0 5.5,0a2.75,2.75 0 1,0 -5.5,0M146.96,278.0a2.75,2.75 0 1,0 5.5,0a2.75,2.75 0 1,0 -5.5,0M141.14,274.6a2.75,2.75 0 1,0 5.5,0a2.75,2.75 0 1,0 -5.5,0M149.55,294.9a2.75,2.75 0 1,0 5.5,0a2.75,2.75 0 1,0 -5.5,0M149.01,294.2a2.75,2.75 0 1,0 5.5,0a2.75,2.75 0 1,0 -5.5,0M138.53,298.0a2.75,2.75 0 1,0 5.5,0a2.75,2.75 0 1,0 -5.5,0M144.90,308.6a2.75,2.75 0 1,0 5.5,0a2.75,2.75 0 1,0 -5.5,0M155.66,293.0a2.75,2.75 0 1,0 5.5,0a2.75,2.75 0 1,0 -5.5,0M147.77,293.1a2.75,2.75 0 1,0 5.5,0a2.75,2.75 0 1,0 -5.5,0M140.87,289.0a2.75,2.75 0 1,0 5.5,0a2.75,2.75 0 1,0 -5.5,0M150.13,291.3a2.75,2.75 0 1,0 5.5,0a2.75,2.75 0 1,0 -5.5,0M146.33,286.7a2.75,2.75 0 1,0 5.5,0a2.75,2.75 0 1,0 -5.5,0M155.53,281.3a2.75,2.75 0 1,0 5.5,0a2.75,2.75 0 1,0 -5.5,0M147.05,310.1a2.75,2.75 0 1,0 5.5,0a2.75,2.75 0 1,0 -5.5,0M137.77,271.6a2.75,2.75 0 1,0 5.5,0a2.75,2.75 0 1,0 -5.5,0M140.48,292.7a2.75,2.75 0 1,0 5.5,0a2.75,2.75 0 1,0 -5.5,0M140.76,294.6a2.75,2.75 0 1,0 5.5,0a2.75,2.75 0 1,0 -5.5,0M156.27,291.7a2.75,2.75 0 1,0 5.5,0a2.75,2.75 0 1,0 -5.5,0M144.44,280.5a2.75,2.75 0 1,0 5.5,0a2.75,2.75 0 1,0 -5.5,0M144.23,288.2a2.75,2.75 0 1,0 5.5,0a2.75,2.75 0 1,0 -5.5,0M156.77,285.5a2.75,2.75 0 1,0 5.5,0a2.75,2.75 0 1,0 -5.5,0M141.37,279.4a2.75,2.75 0 1,0 5.5,0a2.75,2.75 0 1,0 -5.5,0M149.69,289.6a2.75,2.75 0 1,0 5.5,0a2.75,2.75 0 1,0 -5.5,0M156.20,286.0a2.75,2.75 0 1,0 5.5,0a2.75,2.75 0 1,0 -5.5,0M155.45,284.6a2.75,2.75 0 1,0 5.5,0a2.75,2.75 0 1,0 -5.5,0M140.46,296.9a2.75,2.75 0 1,0 5.5,0a2.75,2.75 0 1,0 -5.5,0M146.67,279.5a2.75,2.75 0 1,0 5.5,0a2.75,2.75 0 1,0 -5.5,0M142.29,294.5a2.75,2.75 0 1,0 5.5,0a2.75,2.75 0 1,0 -5.5,0M151.25,283.9a2.75,2.75 0 1,0 5.5,0a2.75,2.75 0 1,0 -5.5,0M142.17,294.3a2.75,2.75 0 1,0 5.5,0a2.75,2.75 0 1,0 -5.5,0M140.79,290.7a2.75,2.75 0 1,0 5.5,0a2.75,2.75 0 1,0 -5.5,0M142.69,292.4a2.75,2.75 0 1,0 5.5,0a2.75,2.75 0 1,0 -5.5,0M167.49,271.5a2.75,2.75 0 1,0 5.5,0a2.75,2.75 0 1,0 -5.5,0M166.87,270.6a2.75,2.75 0 1,0 5.5,0a2.75,2.75 0 1,0 -5.5,0M185.11,268.2a2.75,2.75 0 1,0 5.5,0a2.75,2.75 0 1,0 -5.5,0M168.18,271.1a2.75,2.75 0 1,0 5.5,0a2.75,2.75 0 1,0 -5.5,0M164.17,266.1a2.75,2.75 0 1,0 5.5,0a2.75,2.75 0 1,0 -5.5,0M163.06,275.7a2.75,2.75 0 1,0 5.5,0a2.75,2.75 0 1,0 -5.5,0M176.73,265.9a2.75,2.75 0 1,0 5.5,0a2.75,2.75 0 1,0 -5.5,0M175.05,284.0a2.75,2.75 0 1,0 5.5,0a2.75,2.75 0 1,0 -5.5,0M163.94,282.3a2.75,2.75 0 1,0 5.5,0a2.75,2.75 0 1,0 -5.5,0M171.11,279.3a2.75,2.75 0 1,0 5.5,0a2.75,2.75 0 1,0 -5.5,0M165.27,272.7a2.75,2.75 0 1,0 5.5,0a2.75,2.75 0 1,0 -5.5,0M180.69,270.9a2.75,2.75 0 1,0 5.5,0a2.75,2.75 0 1,0 -5.5,0M167.27,279.9a2.75,2.75 0 1,0 5.5,0a2.75,2.75 0 1,0 -5.5,0M174.49,274.7a2.75,2.75 0 1,0 5.5,0a2.75,2.75 0 1,0 -5.5,0M182.83,276.6a2.75,2.75 0 1,0 5.5,0a2.75,2.75 0 1,0 -5.5,0M163.94,270.2a2.75,2.75 0 1,0 5.5,0a2.75,2.75 0 1,0 -5.5,0M183.91,279.1a2.75,2.75 0 1,0 5.5,0a2.75,2.75 0 1,0 -5.5,0M170.84,269.8a2.75,2.75 0 1,0 5.5,0a2.75,2.75 0 1,0 -5.5,0M175.18,274.3a2.75,2.75 0 1,0 5.5,0a2.75,2.75 0 1,0 -5.5,0M164.87,265.2a2.75,2.75 0 1,0 5.5,0a2.75,2.75 0 1,0 -5.5,0M176.70,270.5a2.75,2.75 0 1,0 5.5,0a2.75,2.75 0 1,0 -5.5,0M177.52,276.3a2.75,2.75 0 1,0 5.5,0a2.75,2.75 0 1,0 -5.5,0M173.83,271.5a2.75,2.75 0 1,0 5.5,0a2.75,2.75 0 1,0 -5.5,0M181.40,271.5a2.75,2.75 0 1,0 5.5,0a2.75,2.75 0 1,0 -5.5,0M170.46,277.7a2.75,2.75 0 1,0 5.5,0a2.75,2.75 0 1,0 -5.5,0M157.67,273.4a2.75,2.75 0 1,0 5.5,0a2.75,2.75 0 1,0 -5.5,0M182.83,279.9a2.75,2.75 0 1,0 5.5,0a2.75,2.75 0 1,0 -5.5,0M173.15,264.0a2.75,2.75 0 1,0 5.5,0a2.75,2.75 0 1,0 -5.5,0M174.47,276.6a2.75,2.75 0 1,0 5.5,0a2.75,2.75 0 1,0 -5.5,0M174.01,276.3a2.75,2.75 0 1,0 5.5,0a2.75,2.75 0 1,0 -5.5,0M158.40,266.1a2.75,2.75 0 1,0 5.5,0a2.75,2.75 0 1,0 -5.5,0M165.30,267.3a2.75,2.75 0 1,0 5.5,0a2.75,2.75 0 1,0 -5.5,0M159.77,278.1a2.75,2.75 0 1,0 5.5,0a2.75,2.75 0 1,0 -5.5,0M175.44,268.4a2.75,2.75 0 1,0 5.5,0a2.75,2.75 0 1,0 -5.5,0M181.18,270.6a2.75,2.75 0 1,0 5.5,0a2.75,2.75 0 1,0 -5.5,0M175.75,276.7a2.75,2.75 0 1,0 5.5,0a2.75,2.75 0 1,0 -5.5,0M180.03,272.1a2.75,2.75 0 1,0 5.5,0a2.75,2.75 0 1,0 -5.5,0M166.56,276.1a2.75,2.75 0 1,0 5.5,0a2.75,2.75 0 1,0 -5.5,0M158.13,269.4a2.75,2.75 0 1,0 5.5,0a2.75,2.75 0 1,0 -5.5,0M168.72,275.2a2.75,2.75 0 1,0 5.5,0a2.75,2.75 0 1,0 -5.5,0M158.33,308.7a2.75,2.75 0 1,0 5.5,0a2.75,2.75 0 1,0 -5.5,0M177.58,305.4a2.75,2.75 0 1,0 5.5,0a2.75,2.75 0 1,0 -5.5,0M184.94,314.8a2.75,2.75 0 1,0 5.5,0a2.75,2.75 0 1,0 -5.5,0M183.33,318.4a2.75,2.75 0 1,0 5.5,0a2.75,2.75 0 1,0 -5.5,0M167.78,307.0a2.75,2.75 0 1,0 5.5,0a2.75,2.75 0 1,0 -5.5,0M169.97,300.0a2.75,2.75 0 1,0 5.5,0a2.75,2.75 0 1,0 -5.5,0M180.46,310.0a2.75,2.75 0 1,0 5.5,0a2.75,2.75 0 1,0 -5.5,0M184.83,299.2a2.75,2.75 0 1,0 5.5,0a2.75,2.75 0 1,0 -5.5,0M167.22,305.2a2.75,2.75 0 1,0 5.5,0a2.75,2.75 0 1,0 -5.5,0M183.90,318.2a2.75,2.75 0 1,0 5.5,0a2.75,2.75 0 1,0 -5.5,0M176.81,324.0a2.75,2.75 0 1,0 5.5,0a2.75,2.75 0 1,0 -5.5,0M161.37,312.2a2.75,2.75 0 1,0 5.5,0a2.75,2.75 0 1,0 -5.5,0M169.86,302.2a2.75,2.75 0 1,0 5.5,0a2.75,2.75 0 1,0 -5.5,0M157.34,315.0a2.75,2.75 0 1,0 5.5,0a2.75,2.75 0 1,0 -5.5,0M168.66,298.0a2.75,2.75 0 1,0 5.5,0a2.75,2.75 0 1,0 -5.5,0M171.90,304.8a2.75,2.75 0 1,0 5.5,0a2.75,2.75 0 1,0 -5.5,0M179.59,320.2a2.75,2.75 0 1,0 5.5,0a2.75,2.75 0 1,0 -5.5,0M166.51,314.8a2.75,2.75 0 1,0 5.5,0a2.75,2.75 0 1,0 -5.5,0M175.44,300.0a2.75,2.75 0 1,0 5.5,0a2.75,2.75 0 1,0 -5.5,0M175.82,298.0a2.75,2.75 0 1,0 5.5,0a2.75,2.75 0 1,0 -5.5,0M171.92,315.6a2.75,2.75 0 1,0 5.5,0a2.75,2.75 0 1,0 -5.5,0M174.42,309.3a2.75,2.75 0 1,0 5.5,0a2.75,2.75 0 1,0 -5.5,0M170.13,305.5a2.75,2.75 0 1,0 5.5,0a2.75,2.75 0 1,0 -5.5,0M174.34,312.5a2.75,2.75 0 1,0 5.5,0a2.75,2.75 0 1,0 -5.5,0M170.15,305.6a2.75,2.75 0 1,0 5.5,0a2.75,2.75 0 1,0 -5.5,0M182.78,298.0a2.75,2.75 0 1,0 5.5,0a2.75,2.75 0 1,0 -5.5,0M160.41,315.2a2.75,2.75 0 1,0 5.5,0a2.75,2.75 0 1,0 -5.5,0M181.44,305.1a2.75,2.75 0 1,0 5.5,0a2.75,2.75 0 1,0 -5.5,0M178.11,302.6a2.75,2.75 0 1,0 5.5,0a2.75,2.75 0 1,0 -5.5,0M157.56,300.3a2.75,2.75 0 1,0 5.5,0a2.75,2.75 0 1,0 -5.5,0M177.38,311.3a2.75,2.75 0 1,0 5.5,0a2.75,2.75 0 1,0 -5.5,0M167.41,304.0a2.75,2.75 0 1,0 5.5,0a2.75,2.75 0 1,0 -5.5,0M171.45,314.0a2.75,2.75 0 1,0 5.5,0a2.75,2.75 0 1,0 -5.5,0M171.74,307.7a2.75,2.75 0 1,0 5.5,0a2.75,2.75 0 1,0 -5.5,0M177.84,317.1a2.75,2.75 0 1,0 5.5,0a2.75,2.75 0 1,0 -5.5,0M170.87,306.9a2.75,2.75 0 1,0 5.5,0a2.75,2.75 0 1,0 -5.5,0M175.05,305.1a2.75,2.75 0 1,0 5.5,0a2.75,2.75 0 1,0 -5.5,0M163.39,298.0a2.75,2.75 0 1,0 5.5,0a2.75,2.75 0 1,0 -5.5,0M159.23,302.0a2.75,2.75 0 1,0 5.5,0a2.75,2.75 0 1,0 -5.5,0M175.96,314.6a2.75,2.75 0 1,0 5.5,0a2.75,2.75 0 1,0 -5.5,0M184.93,324.0a2.75,2.75 0 1,0 5.5,0a2.75,2.75 0 1,0 -5.5,0M159.42,300.9a2.75,2.75 0 1,0 5.5,0a2.75,2.75 0 1,0 -5.5,0M182.75,302.4a2.75,2.75 0 1,0 5.5,0a2.75,2.75 0 1,0 -5.5,0M168.01,312.0a2.75,2.75 0 1,0 5.5,0a2.75,2.75 0 1,0 -5.5,0M175.54,312.9a2.75,2.75 0 1,0 5.5,0a2.75,2.75 0 1,0 -5.5,0M176.47,292.8a2.75,2.75 0 1,0 5.5,0a2.75,2.75 0 1,0 -5.5,0M172.30,296.4a2.75,2.75 0 1,0 5.5,0a2.75,2.75 0 1,0 -5.5,0M176.88,286.4a2.75,2.75 0 1,0 5.5,0a2.75,2.75 0 1,0 -5.5,0M165.12,284.0a2.75,2.75 0 1,0 5.5,0a2.75,2.75 0 1,0 -5.5,0M178.57,293.7a2.75,2.75 0 1,0 5.5,0a2.75,2.75 0 1,0 -5.5,0M181.63,292.9a2.75,2.75 0 1,0 5.5,0a2.75,2.75 0 1,0 -5.5,0M180.26,296.4a2.75,2.75 0 1,0 5.5,0a2.75,2.75 0 1,0 -5.5,0M178.49,291.2a2.75,2.75 0 1,0 5.5,0a2.75,2.75 0 1,0 -5.5,0M170.35,286.8a2.75,2.75 0 1,0 5.5,0a2.75,2.75 0 1,0 -5.5,0M180.90,288.1a2.75,2.75 0 1,0 5.5,0a2.75,2.75 0 1,0 -5.5,0M173.49,284.5a2.75,2.75 0 1,0 5.5,0a2.75,2.75 0 1,0 -5.5,0M166.55,285.0a2.75,2.75 0 1,0 5.5,0a2.75,2.75 0 1,0 -5.5,0M201.33,293.9a2.75,2.75 0 1,0 5.5,0a2.75,2.75 0 1,0 -5.5,0M207.27,294.8a2.75,2.75 0 1,0 5.5,0a2.75,2.75 0 1,0 -5.5,0M207.60,294.9a2.75,2.75 0 1,0 5.5,0a2.75,2.75 0 1,0 -5.5,0M187.17,298.4a2.75,2.75 0 1,0 5.5,0a2.75,2.75 0 1,0 -5.5,0M203.69,293.9a2.75,2.75 0 1,0 5.5,0a2.75,2.75 0 1,0 -5.5,0M198.66,297.9a2.75,2.75 0 1,0 5.5,0a2.75,2.75 0 1,0 -5.5,0M190.55,283.5a2.75,2.75 0 1,0 5.5,0a2.75,2.75 0 1,0 -5.5,0M206.73,300.1a2.75,2.75 0 1,0 5.5,0a2.75,2.75 0 1,0 -5.5,0M197.94,307.7a2.75,2.75 0 1,0 5.5,0a2.75,2.75 0 1,0 -5.5,0M186.26,295.3a2.75,2.75 0 1,0 5.5,0a2.75,2.75 0 1,0 -5.5,0M194.27,282.7a2.75,2.75 0 1,0 5.5,0a2.75,2.75 0 1,0 -5.5,0M201.63,304.6a2.75,2.75 0 1,0 5.5,0a2.75,2.75 0 1,0 -5.5,0M205.67,291.3a2.75,2.75 0 1,0 5.5,0a2.75,2.75 0 1,0 -5.5,0M190.03,272.0a2.75,2.75 0 1,0 5.5,0a2.75,2.75 0 1,0 -5.5,0M199.46,292.2a2.75,2.75 0 1,0 5.5,0a2.75,2.75 0 1,0 -5.5,0M187.33,298.7a2.75,2.75 0 1,0 5.5,0a2.75,2.75 0 1,0 -5.5,0M207.13,296.9a2.75,2.75 0 1,0 5.5,0a2.75,2.75 0 1,0 -5.5,0M185.48,303.7a2.75,2.75 0 1,0 5.5,0a2.75,2.75 0 1,0 -5.5,0M208.55,298.8a2.75,2.75 0 1,0 5.5,0a2.75,2.75 0 1,0 -5.5,0M198.82,294.9a2.75,2.75 0 1,0 5.5,0a2.75,2.75 0 1,0 -5.5,0M203.30,278.3a2.75,2.75 0 1,0 5.5,0a2.75,2.75 0 1,0 -5.5,0M201.31,285.1a2.75,2.75 0 1,0 5.5,0a2.75,2.75 0 1,0 -5.5,0M197.39,295.3a2.75,2.75 0 1,0 5.5,0a2.75,2.75 0 1,0 -5.5,0M195.77,299.3a2.75,2.75 0 1,0 5.5,0a2.75,2.75 0 1,0 -5.5,0M190.24,285.8a2.75,2.75 0 1,0 5.5,0a2.75,2.75 0 1,0 -5.5,0M192.13,289.1a2.75,2.75 0 1,0 5.5,0a2.75,2.75 0 1,0 -5.5,0M187.51,297.6a2.75,2.75 0 1,0 5.5,0a2.75,2.75 0 1,0 -5.5,0M191.69,278.8a2.75,2.75 0 1,0 5.5,0a2.75,2.75 0 1,0 -5.5,0M200.95,278.5a2.75,2.75 0 1,0 5.5,0a2.75,2.75 0 1,0 -5.5,0M198.49,292.1a2.75,2.75 0 1,0 5.5,0a2.75,2.75 0 1,0 -5.5,0M198.87,295.9a2.75,2.75 0 1,0 5.5,0a2.75,2.75 0 1,0 -5.5,0M197.94,290.1a2.75,2.75 0 1,0 5.5,0a2.75,2.75 0 1,0 -5.5,0M207.95,275.7a2.75,2.75 0 1,0 5.5,0a2.75,2.75 0 1,0 -5.5,0M205.65,294.1a2.75,2.75 0 1,0 5.5,0a2.75,2.75 0 1,0 -5.5,0M191.59,283.4a2.75,2.75 0 1,0 5.5,0a2.75,2.75 0 1,0 -5.5,0M198.61,299.1a2.75,2.75 0 1,0 5.5,0a2.75,2.75 0 1,0 -5.5,0M208.50,293.1a2.75,2.75 0 1,0 5.5,0a2.75,2.75 0 1,0 -5.5,0M191.67,296.0a2.75,2.75 0 1,0 5.5,0a2.75,2.75 0 1,0 -5.5,0M202.08,299.0a2.75,2.75 0 1,0 5.5,0a2.75,2.75 0 1,0 -5.5,0M200.80,289.7a2.75,2.75 0 1,0 5.5,0a2.75,2.75 0 1,0 -5.5,0M201.32,300.5a2.75,2.75 0 1,0 5.5,0a2.75,2.75 0 1,0 -5.5,0M198.60,303.7a2.75,2.75 0 1,0 5.5,0a2.75,2.75 0 1,0 -5.5,0M203.03,297.0a2.75,2.75 0 1,0 5.5,0a2.75,2.75 0 1,0 -5.5,0M194.26,304.4a2.75,2.75 0 1,0 5.5,0a2.75,2.75 0 1,0 -5.5,0M207.74,288.9a2.75,2.75 0 1,0 5.5,0a2.75,2.75 0 1,0 -5.5,0M198.86,301.2a2.75,2.75 0 1,0 5.5,0a2.75,2.75 0 1,0 -5.5,0M193.36,296.0a2.75,2.75 0 1,0 5.5,0a2.75,2.75 0 1,0 -5.5,0M200.58,286.1a2.75,2.75 0 1,0 5.5,0a2.75,2.75 0 1,0 -5.5,0M201.70,293.3a2.75,2.75 0 1,0 5.5,0a2.75,2.75 0 1,0 -5.5,0M207.31,289.7a2.75,2.75 0 1,0 5.5,0a2.75,2.75 0 1,0 -5.5,0M200.51,289.5a2.75,2.75 0 1,0 5.5,0a2.75,2.75 0 1,0 -5.5,0M197.79,294.6a2.75,2.75 0 1,0 5.5,0a2.75,2.75 0 1,0 -5.5,0M193.72,302.3a2.75,2.75 0 1,0 5.5,0a2.75,2.75 0 1,0 -5.5,0M195.46,291.4a2.75,2.75 0 1,0 5.5,0a2.75,2.75 0 1,0 -5.5,0M192.13,294.9a2.75,2.75 0 1,0 5.5,0a2.75,2.75 0 1,0 -5.5,0M200.13,282.3a2.75,2.75 0 1,0 5.5,0a2.75,2.75 0 1,0 -5.5,0M205.92,294.8a2.75,2.75 0 1,0 5.5,0a2.75,2.75 0 1,0 -5.5,0M199.48,303.0a2.75,2.75 0 1,0 5.5,0a2.75,2.75 0 1,0 -5.5,0M190.12,300.3a2.75,2.75 0 1,0 5.5,0a2.75,2.75 0 1,0 -5.5,0M186.12,297.7a2.75,2.75 0 1,0 5.5,0a2.75,2.75 0 1,0 -5.5,0M206.32,289.7a2.75,2.75 0 1,0 5.5,0a2.75,2.75 0 1,0 -5.5,0M192.34,286.2a2.75,2.75 0 1,0 5.5,0a2.75,2.75 0 1,0 -5.5,0M201.78,293.2a2.75,2.75 0 1,0 5.5,0a2.75,2.75 0 1,0 -5.5,0M207.94,283.3a2.75,2.75 0 1,0 5.5,0a2.75,2.75 0 1,0 -5.5,0M207.81,284.1a2.75,2.75 0 1,0 5.5,0a2.75,2.75 0 1,0 -5.5,0M198.57,301.4a2.75,2.75 0 1,0 5.5,0a2.75,2.75 0 1,0 -5.5,0M207.17,286.6a2.75,2.75 0 1,0 5.5,0a2.75,2.75 0 1,0 -5.5,0M194.91,308.1a2.75,2.75 0 1,0 5.5,0a2.75,2.75 0 1,0 -5.5,0M207.82,282.6a2.75,2.75 0 1,0 5.5,0a2.75,2.75 0 1,0 -5.5,0M201.54,297.3a2.75,2.75 0 1,0 5.5,0a2.75,2.75 0 1,0 -5.5,0M187.18,284.6a2.75,2.75 0 1,0 5.5,0a2.75,2.75 0 1,0 -5.5,0M204.74,295.3a2.75,2.75 0 1,0 5.5,0a2.75,2.75 0 1,0 -5.5,0M189.11,285.7a2.75,2.75 0 1,0 5.5,0a2.75,2.75 0 1,0 -5.5,0M209.18,294.2a2.75,2.75 0 1,0 5.5,0a2.75,2.75 0 1,0 -5.5,0M186.44,292.7a2.75,2.75 0 1,0 5.5,0a2.75,2.75 0 1,0 -5.5,0M203.42,290.3a2.75,2.75 0 1,0 5.5,0a2.75,2.75 0 1,0 -5.5,0M188.91,298.0a2.75,2.75 0 1,0 5.5,0a2.75,2.75 0 1,0 -5.5,0M198.21,305.9a2.75,2.75 0 1,0 5.5,0a2.75,2.75 0 1,0 -5.5,0M194.18,289.2a2.75,2.75 0 1,0 5.5,0a2.75,2.75 0 1,0 -5.5,0M206.26,300.9a2.75,2.75 0 1,0 5.5,0a2.75,2.75 0 1,0 -5.5,0M191.82,294.6a2.75,2.75 0 1,0 5.5,0a2.75,2.75 0 1,0 -5.5,0M202.53,293.7a2.75,2.75 0 1,0 5.5,0a2.75,2.75 0 1,0 -5.5,0M207.82,311.3a2.75,2.75 0 1,0 5.5,0a2.75,2.75 0 1,0 -5.5,0M186.79,276.7a2.75,2.75 0 1,0 5.5,0a2.75,2.75 0 1,0 -5.5,0M202.39,288.5a2.75,2.75 0 1,0 5.5,0a2.75,2.75 0 1,0 -5.5,0M187.26,279.6a2.75,2.75 0 1,0 5.5,0a2.75,2.75 0 1,0 -5.5,0M203.94,291.4a2.75,2.75 0 1,0 5.5,0a2.75,2.75 0 1,0 -5.5,0M205.82,292.1a2.75,2.75 0 1,0 5.5,0a2.75,2.75 0 1,0 -5.5,0M188.59,318.0a2.75,2.75 0 1,0 5.5,0a2.75,2.75 0 1,0 -5.5,0M206.47,296.7a2.75,2.75 0 1,0 5.5,0a2.75,2.75 0 1,0 -5.5,0M195.77,308.1a2.75,2.75 0 1,0 5.5,0a2.75,2.75 0 1,0 -5.5,0M192.65,304.2a2.75,2.75 0 1,0 5.5,0a2.75,2.75 0 1,0 -5.5,0M208.42,290.4a2.75,2.75 0 1,0 5.5,0a2.75,2.75 0 1,0 -5.5,0M194.47,297.7a2.75,2.75 0 1,0 5.5,0a2.75,2.75 0 1,0 -5.5,0M190.28,307.1a2.75,2.75 0 1,0 5.5,0a2.75,2.75 0 1,0 -5.5,0M193.16,295.3a2.75,2.75 0 1,0 5.5,0a2.75,2.75 0 1,0 -5.5,0M206.96,295.6a2.75,2.75 0 1,0 5.5,0a2.75,2.75 0 1,0 -5.5,0M208.87,297.9a2.75,2.75 0 1,0 5.5,0a2.75,2.75 0 1,0 -5.5,0M196.17,282.0a2.75,2.75 0 1,0 5.5,0a2.75,2.75 0 1,0 -5.5,0M197.10,287.5a2.75,2.75 0 1,0 5.5,0a2.75,2.75 0 1,0 -5.5,0M199.60,296.6a2.75,2.75 0 1,0 5.5,0a2.75,2.75 0 1,0 -5.5,0M205.40,298.2a2.75,2.75 0 1,0 5.5,0a2.75,2.75 0 1,0 -5.5,0M185.47,286.6a2.75,2.75 0 1,0 5.5,0a2.75,2.75 0 1,0 -5.5,0M204.35,291.3a2.75,2.75 0 1,0 5.5,0a2.75,2.75 0 1,0 -5.5,0M208.59,292.9a2.75,2.75 0 1,0 5.5,0a2.75,2.75 0 1,0 -5.5,0M194.98,292.7a2.75,2.75 0 1,0 5.5,0a2.75,2.75 0 1,0 -5.5,0M195.76,299.4a2.75,2.75 0 1,0 5.5,0a2.75,2.75 0 1,0 -5.5,0M208.24,294.7a2.75,2.75 0 1,0 5.5,0a2.75,2.75 0 1,0 -5.5,0M195.02,295.2a2.75,2.75 0 1,0 5.5,0a2.75,2.75 0 1,0 -5.5,0M194.29,282.7a2.75,2.75 0 1,0 5.5,0a2.75,2.75 0 1,0 -5.5,0M205.87,285.5a2.75,2.75 0 1,0 5.5,0a2.75,2.75 0 1,0 -5.5,0M196.61,296.4a2.75,2.75 0 1,0 5.5,0a2.75,2.75 0 1,0 -5.5,0M200.78,281.3a2.75,2.75 0 1,0 5.5,0a2.75,2.75 0 1,0 -5.5,0M192.12,296.0a2.75,2.75 0 1,0 5.5,0a2.75,2.75 0 1,0 -5.5,0M201.57,288.6a2.75,2.75 0 1,0 5.5,0a2.75,2.75 0 1,0 -5.5,0M194.08,287.4a2.75,2.75 0 1,0 5.5,0a2.75,2.75 0 1,0 -5.5,0M204.05,299.0a2.75,2.75 0 1,0 5.5,0a2.75,2.75 0 1,0 -5.5,0M197.07,288.5a2.75,2.75 0 1,0 5.5,0a2.75,2.75 0 1,0 -5.5,0M207.31,287.1a2.75,2.75 0 1,0 5.5,0a2.75,2.75 0 1,0 -5.5,0M198.39,288.5a2.75,2.75 0 1,0 5.5,0a2.75,2.75 0 1,0 -5.5,0M205.83,294.3a2.75,2.75 0 1,0 5.5,0a2.75,2.75 0 1,0 -5.5,0M195.82,315.7a2.75,2.75 0 1,0 5.5,0a2.75,2.75 0 1,0 -5.5,0M201.31,277.1a2.75,2.75 0 1,0 5.5,0a2.75,2.75 0 1,0 -5.5,0M191.66,293.7a2.75,2.75 0 1,0 5.5,0a2.75,2.75 0 1,0 -5.5,0M199.32,291.9a2.75,2.75 0 1,0 5.5,0a2.75,2.75 0 1,0 -5.5,0M201.16,301.4a2.75,2.75 0 1,0 5.5,0a2.75,2.75 0 1,0 -5.5,0M189.83,290.9a2.75,2.75 0 1,0 5.5,0a2.75,2.75 0 1,0 -5.5,0M198.30,274.2a2.75,2.75 0 1,0 5.5,0a2.75,2.75 0 1,0 -5.5,0M207.37,304.4a2.75,2.75 0 1,0 5.5,0a2.75,2.75 0 1,0 -5.5,0M190.09,285.2a2.75,2.75 0 1,0 5.5,0a2.75,2.75 0 1,0 -5.5,0M196.97,293.4a2.75,2.75 0 1,0 5.5,0a2.75,2.75 0 1,0 -5.5,0M205.35,283.0a2.75,2.75 0 1,0 5.5,0a2.75,2.75 0 1,0 -5.5,0M195.48,285.1a2.75,2.75 0 1,0 5.5,0a2.75,2.75 0 1,0 -5.5,0M185.97,289.9a2.75,2.75 0 1,0 5.5,0a2.75,2.75 0 1,0 -5.5,0M197.86,300.6a2.75,2.75 0 1,0 5.5,0a2.75,2.75 0 1,0 -5.5,0M196.34,300.5a2.75,2.75 0 1,0 5.5,0a2.75,2.75 0 1,0 -5.5,0M207.51,289.1a2.75,2.75 0 1,0 5.5,0a2.75,2.75 0 1,0 -5.5,0M201.18,297.8a2.75,2.75 0 1,0 5.5,0a2.75,2.75 0 1,0 -5.5,0M203.88,290.9a2.75,2.75 0 1,0 5.5,0a2.75,2.75 0 1,0 -5.5,0M194.08,294.7a2.75,2.75 0 1,0 5.5,0a2.75,2.75 0 1,0 -5.5,0M206.76,295.0a2.75,2.75 0 1,0 5.5,0a2.75,2.75 0 1,0 -5.5,0M205.13,298.7a2.75,2.75 0 1,0 5.5,0a2.75,2.75 0 1,0 -5.5,0M187.43,288.9a2.75,2.75 0 1,0 5.5,0a2.75,2.75 0 1,0 -5.5,0M201.11,292.8a2.75,2.75 0 1,0 5.5,0a2.75,2.75 0 1,0 -5.5,0M206.96,295.5a2.75,2.75 0 1,0 5.5,0a2.75,2.75 0 1,0 -5.5,0M200.85,294.5a2.75,2.75 0 1,0 5.5,0a2.75,2.75 0 1,0 -5.5,0M208.56,287.5a2.75,2.75 0 1,0 5.5,0a2.75,2.75 0 1,0 -5.5,0M191.51,307.5a2.75,2.75 0 1,0 5.5,0a2.75,2.75 0 1,0 -5.5,0M199.36,290.1a2.75,2.75 0 1,0 5.5,0a2.75,2.75 0 1,0 -5.5,0M198.05,299.8a2.75,2.75 0 1,0 5.5,0a2.75,2.75 0 1,0 -5.5,0M192.34,295.4a2.75,2.75 0 1,0 5.5,0a2.75,2.75 0 1,0 -5.5,0M204.00,303.5a2.75,2.75 0 1,0 5.5,0a2.75,2.75 0 1,0 -5.5,0M195.60,276.4a2.75,2.75 0 1,0 5.5,0a2.75,2.75 0 1,0 -5.5,0M200.84,310.1a2.75,2.75 0 1,0 5.5,0a2.75,2.75 0 1,0 -5.5,0M204.02,292.1a2.75,2.75 0 1,0 5.5,0a2.75,2.75 0 1,0 -5.5,0M202.70,284.0a2.75,2.75 0 1,0 5.5,0a2.75,2.75 0 1,0 -5.5,0M187.66,294.8a2.75,2.75 0 1,0 5.5,0a2.75,2.75 0 1,0 -5.5,0M186.58,311.7a2.75,2.75 0 1,0 5.5,0a2.75,2.75 0 1,0 -5.5,0M204.94,297.8a2.75,2.75 0 1,0 5.5,0a2.75,2.75 0 1,0 -5.5,0M200.86,284.0a2.75,2.75 0 1,0 5.5,0a2.75,2.75 0 1,0 -5.5,0M188.81,290.1a2.75,2.75 0 1,0 5.5,0a2.75,2.75 0 1,0 -5.5,0M188.37,304.4a2.75,2.75 0 1,0 5.5,0a2.75,2.75 0 1,0 -5.5,0M197.19,282.6a2.75,2.75 0 1,0 5.5,0a2.75,2.75 0 1,0 -5.5,0M189.52,292.3a2.75,2.75 0 1,0 5.5,0a2.75,2.75 0 1,0 -5.5,0M207.58,291.4a2.75,2.75 0 1,0 5.5,0a2.75,2.75 0 1,0 -5.5,0M190.62,311.0a2.75,2.75 0 1,0 5.5,0a2.75,2.75 0 1,0 -5.5,0M207.90,291.4a2.75,2.75 0 1,0 5.5,0a2.75,2.75 0 1,0 -5.5,0M202.43,304.2a2.75,2.75 0 1,0 5.5,0a2.75,2.75 0 1,0 -5.5,0M198.59,288.4a2.75,2.75 0 1,0 5.5,0a2.75,2.75 0 1,0 -5.5,0M201.36,287.4a2.75,2.75 0 1,0 5.5,0a2.75,2.75 0 1,0 -5.5,0M201.86,301.7a2.75,2.75 0 1,0 5.5,0a2.75,2.75 0 1,0 -5.5,0M192.10,298.7a2.75,2.75 0 1,0 5.5,0a2.75,2.75 0 1,0 -5.5,0M196.96,280.0a2.75,2.75 0 1,0 5.5,0a2.75,2.75 0 1,0 -5.5,0M186.84,298.8a2.75,2.75 0 1,0 5.5,0a2.75,2.75 0 1,0 -5.5,0M186.40,298.9a2.75,2.75 0 1,0 5.5,0a2.75,2.75 0 1,0 -5.5,0M207.90,288.9a2.75,2.75 0 1,0 5.5,0a2.75,2.75 0 1,0 -5.5,0M205.66,295.5a2.75,2.75 0 1,0 5.5,0a2.75,2.75 0 1,0 -5.5,0M203.34,295.9a2.75,2.75 0 1,0 5.5,0a2.75,2.75 0 1,0 -5.5,0M187.75,289.9a2.75,2.75 0 1,0 5.5,0a2.75,2.75 0 1,0 -5.5,0M200.22,289.1a2.75,2.75 0 1,0 5.5,0a2.75,2.75 0 1,0 -5.5,0M202.41,288.4a2.75,2.75 0 1,0 5.5,0a2.75,2.75 0 1,0 -5.5,0M195.58,291.6a2.75,2.75 0 1,0 5.5,0a2.75,2.75 0 1,0 -5.5,0M194.32,283.2a2.75,2.75 0 1,0 5.5,0a2.75,2.75 0 1,0 -5.5,0M202.68,293.4a2.75,2.75 0 1,0 5.5,0a2.75,2.75 0 1,0 -5.5,0M185.50,281.9a2.75,2.75 0 1,0 5.5,0a2.75,2.75 0 1,0 -5.5,0M196.54,294.3a2.75,2.75 0 1,0 5.5,0a2.75,2.75 0 1,0 -5.5,0M191.41,293.1a2.75,2.75 0 1,0 5.5,0a2.75,2.75 0 1,0 -5.5,0M195.90,285.5a2.75,2.75 0 1,0 5.5,0a2.75,2.75 0 1,0 -5.5,0M198.51,300.5a2.75,2.75 0 1,0 5.5,0a2.75,2.75 0 1,0 -5.5,0M195.34,309.1a2.75,2.75 0 1,0 5.5,0a2.75,2.75 0 1,0 -5.5,0M212.03,296.3a2.75,2.75 0 1,0 5.5,0a2.75,2.75 0 1,0 -5.5,0M214.18,276.8a2.75,2.75 0 1,0 5.5,0a2.75,2.75 0 1,0 -5.5,0M215.97,276.3a2.75,2.75 0 1,0 5.5,0a2.75,2.75 0 1,0 -5.5,0M213.37,299.9a2.75,2.75 0 1,0 5.5,0a2.75,2.75 0 1,0 -5.5,0M212.35,290.8a2.75,2.75 0 1,0 5.5,0a2.75,2.75 0 1,0 -5.5,0M214.18,293.8a2.75,2.75 0 1,0 5.5,0a2.75,2.75 0 1,0 -5.5,0M213.29,293.0a2.75,2.75 0 1,0 5.5,0a2.75,2.75 0 1,0 -5.5,0M210.04,304.8a2.75,2.75 0 1,0 5.5,0a2.75,2.75 0 1,0 -5.5,0M216.48,277.7a2.75,2.75 0 1,0 5.5,0a2.75,2.75 0 1,0 -5.5,0M210.24,300.4a2.75,2.75 0 1,0 5.5,0a2.75,2.75 0 1,0 -5.5,0M215.19,281.6a2.75,2.75 0 1,0 5.5,0a2.75,2.75 0 1,0 -5.5,0M212.72,296.9a2.75,2.75 0 1,0 5.5,0a2.75,2.75 0 1,0 -5.5,0M215.52,302.9a2.75,2.75 0 1,0 5.5,0a2.75,2.75 0 1,0 -5.5,0M213.43,276.0a2.75,2.75 0 1,0 5.5,0a2.75,2.75 0 1,0 -5.5,0M215.82,293.6a2.75,2.75 0 1,0 5.5,0a2.75,2.75 0 1,0 -5.5,0M213.01,286.9a2.75,2.75 0 1,0 5.5,0a2.75,2.75 0 1,0 -5.5,0M211.23,286.8a2.75,2.75 0 1,0 5.5,0a2.75,2.75 0 1,0 -5.5,0M215.41,290.1a2.75,2.75 0 1,0 5.5,0a2.75,2.75 0 1,0 -5.5,0M215.87,279.3a2.75,2.75 0 1,0 5.5,0a2.75,2.75 0 1,0 -5.5,0M213.27,280.1a2.75,2.75 0 1,0 5.5,0a2.75,2.75 0 1,0 -5.5,0M216.68,296.2a2.75,2.75 0 1,0 5.5,0a2.75,2.75 0 1,0 -5.5,0M214.91,298.0a2.75,2.75 0 1,0 5.5,0a2.75,2.75 0 1,0 -5.5,0M216.71,284.0a2.75,2.75 0 1,0 5.5,0a2.75,2.75 0 1,0 -5.5,0M210.81,275.3a2.75,2.75 0 1,0 5.5,0a2.75,2.75 0 1,0 -5.5,0M216.80,312.6a2.75,2.75 0 1,0 5.5,0a2.75,2.75 0 1,0 -5.5,0M215.39,300.5a2.75,2.75 0 1,0 5.5,0a2.75,2.75 0 1,0 -5.5,0M216.79,293.2a2.75,2.75 0 1,0 5.5,0a2.75,2.75 0 1,0 -5.5,0M212.05,279.5a2.75,2.75 0 1,0 5.5,0a2.75,2.75 0 1,0 -5.5,0M213.70,283.9a2.75,2.75 0 1,0 5.5,0a2.75,2.75 0 1,0 -5.5,0M216.40,292.1a2.75,2.75 0 1,0 5.5,0a2.75,2.75 0 1,0 -5.5,0M214.63,280.2a2.75,2.75 0 1,0 5.5,0a2.75,2.75 0 1,0 -5.5,0M211.56,305.5a2.75,2.75 0 1,0 5.5,0a2.75,2.75 0 1,0 -5.5,0M211.56,291.0a2.75,2.75 0 1,0 5.5,0a2.75,2.75 0 1,0 -5.5,0M216.82,293.5a2.75,2.75 0 1,0 5.5,0a2.75,2.75 0 1,0 -5.5,0M214.62,279.5a2.75,2.75 0 1,0 5.5,0a2.75,2.75 0 1,0 -5.5,0M209.67,280.7a2.75,2.75 0 1,0 5.5,0a2.75,2.75 0 1,0 -5.5,0M211.32,281.9a2.75,2.75 0 1,0 5.5,0a2.75,2.75 0 1,0 -5.5,0M213.71,292.4a2.75,2.75 0 1,0 5.5,0a2.75,2.75 0 1,0 -5.5,0M210.77,287.0a2.75,2.75 0 1,0 5.5,0a2.75,2.75 0 1,0 -5.5,0M212.98,286.8a2.75,2.75 0 1,0 5.5,0a2.75,2.75 0 1,0 -5.5,0M214.59,292.8a2.75,2.75 0 1,0 5.5,0a2.75,2.75 0 1,0 -5.5,0M209.92,291.9a2.75,2.75 0 1,0 5.5,0a2.75,2.75 0 1,0 -5.5,0M211.28,304.3a2.75,2.75 0 1,0 5.5,0a2.75,2.75 0 1,0 -5.5,0M216.30,287.7a2.75,2.75 0 1,0 5.5,0a2.75,2.75 0 1,0 -5.5,0M209.58,279.7a2.75,2.75 0 1,0 5.5,0a2.75,2.75 0 1,0 -5.5,0M261.40,274.0a2.75,2.75 0 1,0 5.5,0a2.75,2.75 0 1,0 -5.5,0M260.09,295.0a2.75,2.75 0 1,0 5.5,0a2.75,2.75 0 1,0 -5.5,0M248.07,299.6a2.75,2.75 0 1,0 5.5,0a2.75,2.75 0 1,0 -5.5,0M263.03,295.1a2.75,2.75 0 1,0 5.5,0a2.75,2.75 0 1,0 -5.5,0M254.55,277.4a2.75,2.75 0 1,0 5.5,0a2.75,2.75 0 1,0 -5.5,0M259.08,265.5a2.75,2.75 0 1,0 5.5,0a2.75,2.75 0 1,0 -5.5,0M257.59,278.0a2.75,2.75 0 1,0 5.5,0a2.75,2.75 0 1,0 -5.5,0M262.53,284.3a2.75,2.75 0 1,0 5.5,0a2.75,2.75 0 1,0 -5.5,0M245.96,291.6a2.75,2.75 0 1,0 5.5,0a2.75,2.75 0 1,0 -5.5,0M247.40,280.7a2.75,2.75 0 1,0 5.5,0a2.75,2.75 0 1,0 -5.5,0M251.44,279.4a2.75,2.75 0 1,0 5.5,0a2.75,2.75 0 1,0 -5.5,0M249.70,299.1a2.75,2.75 0 1,0 5.5,0a2.75,2.75 0 1,0 -5.5,0M260.24,275.5a2.75,2.75 0 1,0 5.5,0a2.75,2.75 0 1,0 -5.5,0M247.82,294.2a2.75,2.75 0 1,0 5.5,0a2.75,2.75 0 1,0 -5.5,0M247.28,292.4a2.75,2.75 0 1,0 5.5,0a2.75,2.75 0 1,0 -5.5,0M256.91,268.3a2.75,2.75 0 1,0 5.5,0a2.75,2.75 0 1,0 -5.5,0M246.71,285.7a2.75,2.75 0 1,0 5.5,0a2.75,2.75 0 1,0 -5.5,0M262.72,276.7a2.75,2.75 0 1,0 5.5,0a2.75,2.75 0 1,0 -5.5,0M252.50,272.5a2.75,2.75 0 1,0 5.5,0a2.75,2.75 0 1,0 -5.5,0M251.90,262.7a2.75,2.75 0 1,0 5.5,0a2.75,2.75 0 1,0 -5.5,0M258.39,265.8a2.75,2.75 0 1,0 5.5,0a2.75,2.75 0 1,0 -5.5,0M266.73,287.1a2.75,2.75 0 1,0 5.5,0a2.75,2.75 0 1,0 -5.5,0M251.48,278.5a2.75,2.75 0 1,0 5.5,0a2.75,2.75 0 1,0 -5.5,0M250.22,285.6a2.75,2.75 0 1,0 5.5,0a2.75,2.75 0 1,0 -5.5,0M253.35,271.2a2.75,2.75 0 1,0 5.5,0a2.75,2.75 0 1,0 -5.5,0M262.39,279.2a2.75,2.75 0 1,0 5.5,0a2.75,2.75 0 1,0 -5.5,0M265.79,279.8a2.75,2.75 0 1,0 5.5,0a2.75,2.75 0 1,0 -5.5,0M248.64,266.0a2.75,2.75 0 1,0 5.5,0a2.75,2.75 0 1,0 -5.5,0M245.91,264.8a2.75,2.75 0 1,0 5.5,0a2.75,2.75 0 1,0 -5.5,0M251.98,287.4a2.75,2.75 0 1,0 5.5,0a2.75,2.75 0 1,0 -5.5,0M252.31,284.3a2.75,2.75 0 1,0 5.5,0a2.75,2.75 0 1,0 -5.5,0M261.69,272.6a2.75,2.75 0 1,0 5.5,0a2.75,2.75 0 1,0 -5.5,0M260.22,281.6a2.75,2.75 0 1,0 5.5,0a2.75,2.75 0 1,0 -5.5,0M261.69,289.8a2.75,2.75 0 1,0 5.5,0a2.75,2.75 0 1,0 -5.5,0M253.89,302.4a2.75,2.75 0 1,0 5.5,0a2.75,2.75 0 1,0 -5.5,0M254.68,273.1a2.75,2.75 0 1,0 5.5,0a2.75,2.75 0 1,0 -5.5,0M265.97,289.3a2.75,2.75 0 1,0 5.5,0a2.75,2.75 0 1,0 -5.5,0M246.31,305.5a2.75,2.75 0 1,0 5.5,0a2.75,2.75 0 1,0 -5.5,0M245.72,283.4a2.75,2.75 0 1,0 5.5,0a2.75,2.75 0 1,0 -5.5,0M245.62,298.5a2.75,2.75 0 1,0 5.5,0a2.75,2.75 0 1,0 -5.5,0M263.22,256.0a2.75,2.75 0 1,0 5.5,0a2.75,2.75 0 1,0 -5.5,0M256.64,298.3a2.75,2.75 0 1,0 5.5,0a2.75,2.75 0 1,0 -5.5,0M260.54,282.6a2.75,2.75 0 1,0 5.5,0a2.75,2.75 0 1,0 -5.5,0M259.63,262.5a2.75,2.75 0 1,0 5.5,0a2.75,2.75 0 1,0 -5.5,0M263.14,291.1a2.75,2.75 0 1,0 5.5,0a2.75,2.75 0 1,0 -5.5,0M256.91,294.0a2.75,2.75 0 1,0 5.5,0a2.75,2.75 0 1,0 -5.5,0M252.48,295.7a2.75,2.75 0 1,0 5.5,0a2.75,2.75 0 1,0 -5.5,0M247.72,295.6a2.75,2.75 0 1,0 5.5,0a2.75,2.75 0 1,0 -5.5,0M254.29,282.4a2.75,2.75 0 1,0 5.5,0a2.75,2.75 0 1,0 -5.5,0M249.54,274.6a2.75,2.75 0 1,0 5.5,0a2.75,2.75 0 1,0 -5.5,0M265.63,277.7a2.75,2.75 0 1,0 5.5,0a2.75,2.75 0 1,0 -5.5,0M262.04,282.3a2.75,2.75 0 1,0 5.5,0a2.75,2.75 0 1,0 -5.5,0M251.51,287.1a2.75,2.75 0 1,0 5.5,0a2.75,2.75 0 1,0 -5.5,0M256.50,277.5a2.75,2.75 0 1,0 5.5,0a2.75,2.75 0 1,0 -5.5,0M255.58,283.2a2.75,2.75 0 1,0 5.5,0a2.75,2.75 0 1,0 -5.5,0M258.55,292.1a2.75,2.75 0 1,0 5.5,0a2.75,2.75 0 1,0 -5.5,0M266.08,286.2a2.75,2.75 0 1,0 5.5,0a2.75,2.75 0 1,0 -5.5,0M251.31,307.4a2.75,2.75 0 1,0 5.5,0a2.75,2.75 0 1,0 -5.5,0M258.76,305.9a2.75,2.75 0 1,0 5.5,0a2.75,2.75 0 1,0 -5.5,0M256.35,270.3a2.75,2.75 0 1,0 5.5,0a2.75,2.75 0 1,0 -5.5,0M266.25,276.6a2.75,2.75 0 1,0 5.5,0a2.75,2.75 0 1,0 -5.5,0M250.05,268.6a2.75,2.75 0 1,0 5.5,0a2.75,2.75 0 1,0 -5.5,0M259.50,270.1a2.75,2.75 0 1,0 5.5,0a2.75,2.75 0 1,0 -5.5,0M247.25,288.6a2.75,2.75 0 1,0 5.5,0a2.75,2.75 0 1,0 -5.5,0M257.21,272.0a2.75,2.75 0 1,0 5.5,0a2.75,2.75 0 1,0 -5.5,0M266.36,271.4a2.75,2.75 0 1,0 5.5,0a2.75,2.75 0 1,0 -5.5,0M261.08,279.8a2.75,2.75 0 1,0 5.5,0a2.75,2.75 0 1,0 -5.5,0M245.94,291.3a2.75,2.75 0 1,0 5.5,0a2.75,2.75 0 1,0 -5.5,0M266.90,278.8a2.75,2.75 0 1,0 5.5,0a2.75,2.75 0 1,0 -5.5,0M257.12,278.8a2.75,2.75 0 1,0 5.5,0a2.75,2.75 0 1,0 -5.5,0M258.00,292.6a2.75,2.75 0 1,0 5.5,0a2.75,2.75 0 1,0 -5.5,0M266.05,287.8a2.75,2.75 0 1,0 5.5,0a2.75,2.75 0 1,0 -5.5,0M258.11,287.6a2.75,2.75 0 1,0 5.5,0a2.75,2.75 0 1,0 -5.5,0M250.11,292.9a2.75,2.75 0 1,0 5.5,0a2.75,2.75 0 1,0 -5.5,0M254.69,271.7a2.75,2.75 0 1,0 5.5,0a2.75,2.75 0 1,0 -5.5,0M261.73,285.0a2.75,2.75 0 1,0 5.5,0a2.75,2.75 0 1,0 -5.5,0M253.97,275.8a2.75,2.75 0 1,0 5.5,0a2.75,2.75 0 1,0 -5.5,0M248.96,293.8a2.75,2.75 0 1,0 5.5,0a2.75,2.75 0 1,0 -5.5,0M253.81,291.5a2.75,2.75 0 1,0 5.5,0a2.75,2.75 0 1,0 -5.5,0M247.52,271.4a2.75,2.75 0 1,0 5.5,0a2.75,2.75 0 1,0 -5.5,0M247.45,297.1a2.75,2.75 0 1,0 5.5,0a2.75,2.75 0 1,0 -5.5,0M247.92,270.1a2.75,2.75 0 1,0 5.5,0a2.75,2.75 0 1,0 -5.5,0M256.46,295.3a2.75,2.75 0 1,0 5.5,0a2.75,2.75 0 1,0 -5.5,0M252.32,284.9a2.75,2.75 0 1,0 5.5,0a2.75,2.75 0 1,0 -5.5,0M249.21,273.3a2.75,2.75 0 1,0 5.5,0a2.75,2.75 0 1,0 -5.5,0M261.50,270.6a2.75,2.75 0 1,0 5.5,0a2.75,2.75 0 1,0 -5.5,0M258.71,279.4a2.75,2.75 0 1,0 5.5,0a2.75,2.75 0 1,0 -5.5,0M263.29,282.4a2.75,2.75 0 1,0 5.5,0a2.75,2.75 0 1,0 -5.5,0M248.79,275.0a2.75,2.75 0 1,0 5.5,0a2.75,2.75 0 1,0 -5.5,0M258.90,288.8a2.75,2.75 0 1,0 5.5,0a2.75,2.75 0 1,0 -5.5,0M251.04,267.5a2.75,2.75 0 1,0 5.5,0a2.75,2.75 0 1,0 -5.5,0M256.14,282.6a2.75,2.75 0 1,0 5.5,0a2.75,2.75 0 1,0 -5.5,0M255.07,282.7a2.75,2.75 0 1,0 5.5,0a2.75,2.75 0 1,0 -5.5,0M258.08,262.4a2.75,2.75 0 1,0 5.5,0a2.75,2.75 0 1,0 -5.5,0M257.80,286.0a2.75,2.75 0 1,0 5.5,0a2.75,2.75 0 1,0 -5.5,0M265.46,269.0a2.75,2.75 0 1,0 5.5,0a2.75,2.75 0 1,0 -5.5,0M258.99,256.0a2.75,2.75 0 1,0 5.5,0a2.75,2.75 0 1,0 -5.5,0M252.98,276.0a2.75,2.75 0 1,0 5.5,0a2.75,2.75 0 1,0 -5.5,0M262.73,280.2a2.75,2.75 0 1,0 5.5,0a2.75,2.75 0 1,0 -5.5,0M248.80,292.5a2.75,2.75 0 1,0 5.5,0a2.75,2.75 0 1,0 -5.5,0M262.31,277.4a2.75,2.75 0 1,0 5.5,0a2.75,2.75 0 1,0 -5.5,0M257.94,298.6a2.75,2.75 0 1,0 5.5,0a2.75,2.75 0 1,0 -5.5,0M250.97,298.2a2.75,2.75 0 1,0 5.5,0a2.75,2.75 0 1,0 -5.5,0M261.80,294.5a2.75,2.75 0 1,0 5.5,0a2.75,2.75 0 1,0 -5.5,0M247.76,297.0a2.75,2.75 0 1,0 5.5,0a2.75,2.75 0 1,0 -5.5,0M246.03,286.5a2.75,2.75 0 1,0 5.5,0a2.75,2.75 0 1,0 -5.5,0M251.23,276.6a2.75,2.75 0 1,0 5.5,0a2.75,2.75 0 1,0 -5.5,0M256.36,289.7a2.75,2.75 0 1,0 5.5,0a2.75,2.75 0 1,0 -5.5,0M259.13,293.2a2.75,2.75 0 1,0 5.5,0a2.75,2.75 0 1,0 -5.5,0M252.16,285.3a2.75,2.75 0 1,0 5.5,0a2.75,2.75 0 1,0 -5.5,0M269.71,271.0a2.75,2.75 0 1,0 5.5,0a2.75,2.75 0 1,0 -5.5,0M279.98,268.5a2.75,2.75 0 1,0 5.5,0a2.75,2.75 0 1,0 -5.5,0M277.30,289.7a2.75,2.75 0 1,0 5.5,0a2.75,2.75 0 1,0 -5.5,0M275.12,252.4a2.75,2.75 0 1,0 5.5,0a2.75,2.75 0 1,0 -5.5,0M281.29,272.8a2.75,2.75 0 1,0 5.5,0a2.75,2.75 0 1,0 -5.5,0M269.23,274.5a2.75,2.75 0 1,0 5.5,0a2.75,2.75 0 1,0 -5.5,0M271.90,262.9a2.75,2.75 0 1,0 5.5,0a2.75,2.75 0 1,0 -5.5,0M274.87,264.6a2.75,2.75 0 1,0 5.5,0a2.75,2.75 0 1,0 -5.5,0M281.73,284.4a2.75,2.75 0 1,0 5.5,0a2.75,2.75 0 1,0 -5.5,0M268.43,254.8a2.75,2.75 0 1,0 5.5,0a2.75,2.75 0 1,0 -5.5,0M276.28,265.7a2.75,2.75 0 1,0 5.5,0a2.75,2.75 0 1,0 -5.5,0M281.04,269.6a2.75,2.75 0 1,0 5.5,0a2.75,2.75 0 1,0 -5.5,0M269.42,280.4a2.75,2.75 0 1,0 5.5,0a2.75,2.75 0 1,0 -5.5,0M277.81,258.9a2.75,2.75 0 1,0 5.5,0a2.75,2.75 0 1,0 -5.5,0M277.61,295.3a2.75,2.75 0 1,0 5.5,0a2.75,2.75 0 1,0 -5.5,0M272.65,274.6a2.75,2.75 0 1,0 5.5,0a2.75,2.75 0 1,0 -5.5,0M275.28,275.3a2.75,2.75 0 1,0 5.5,0a2.75,2.75 0 1,0 -5.5,0M281.28,273.8a2.75,2.75 0 1,0 5.5,0a2.75,2.75 0 1,0 -5.5,0M274.27,269.2a2.75,2.75 0 1,0 5.5,0a2.75,2.75 0 1,0 -5.5,0M274.10,264.6a2.75,2.75 0 1,0 5.5,0a2.75,2.75 0 1,0 -5.5,0M275.71,296.1a2.75,2.75 0 1,0 5.5,0a2.75,2.75 0 1,0 -5.5,0M267.73,282.1a2.75,2.75 0 1,0 5.5,0a2.75,2.75 0 1,0 -5.5,0M279.39,277.5a2.75,2.75 0 1,0 5.5,0a2.75,2.75 0 1,0 -5.5,0M268.02,293.8a2.75,2.75 0 1,0 5.5,0a2.75,2.75 0 1,0 -5.5,0M281.93,268.6a2.75,2.75 0 1,0 5.5,0a2.75,2.75 0 1,0 -5.5,0M281.81,288.4a2.75,2.75 0 1,0 5.5,0a2.75,2.75 0 1,0 -5.5,0M279.53,279.4a2.75,2.75 0 1,0 5.5,0a2.75,2.75 0 1,0 -5.5,0M280.68,265.9a2.75,2.75 0 1,0 5.5,0a2.75,2.75 0 1,0 -5.5,0M276.48,290.3a2.75,2.75 0 1,0 5.5,0a2.75,2.75 0 1,0 -5.5,0M271.84,256.9a2.75,2.75 0 1,0 5.5,0a2.75,2.75 0 1,0 -5.5,0M276.31,288.6a2.75,2.75 0 1,0 5.5,0a2.75,2.75 0 1,0 -5.5,0M277.43,265.9a2.75,2.75 0 1,0 5.5,0a2.75,2.75 0 1,0 -5.5,0M269.37,285.0a2.75,2.75 0 1,0 5.5,0a2.75,2.75 0 1,0 -5.5,0M278.87,299.4a2.75,2.75 0 1,0 5.5,0a2.75,2.75 0 1,0 -5.5,0M271.81,287.4a2.75,2.75 0 1,0 5.5,0a2.75,2.75 0 1,0 -5.5,0M274.94,270.1a2.75,2.75 0 1,0 5.5,0a2.75,2.75 0 1,0 -5.5,0M271.25,278.5a2.75,2.75 0 1,0 5.5,0a2.75,2.75 0 1,0 -5.5,0M271.48,273.5a2.75,2.75 0 1,0 5.5,0a2.75,2.75 0 1,0 -5.5,0M280.40,261.6a2.75,2.75 0 1,0 5.5,0a2.75,2.75 0 1,0 -5.5,0M278.80,262.6a2.75,2.75 0 1,0 5.5,0a2.75,2.75 0 1,0 -5.5,0M268.19,279.5a2.75,2.75 0 1,0 5.5,0a2.75,2.75 0 1,0 -5.5,0M278.82,286.8a2.75,2.75 0 1,0 5.5,0a2.75,2.75 0 1,0 -5.5,0M281.12,252.8a2.75,2.75 0 1,0 5.5,0a2.75,2.75 0 1,0 -5.5,0M277.81,277.8a2.75,2.75 0 1,0 5.5,0a2.75,2.75 0 1,0 -5.5,0M277.63,286.3a2.75,2.75 0 1,0 5.5,0a2.75,2.75 0 1,0 -5.5,0M271.21,280.5a2.75,2.75 0 1,0 5.5,0a2.75,2.75 0 1,0 -5.5,0M277.73,264.0a2.75,2.75 0 1,0 5.5,0a2.75,2.75 0 1,0 -5.5,0M272.94,294.1a2.75,2.75 0 1,0 5.5,0a2.75,2.75 0 1,0 -5.5,0M281.09,260.8a2.75,2.75 0 1,0 5.5,0a2.75,2.75 0 1,0 -5.5,0M277.82,288.3a2.75,2.75 0 1,0 5.5,0a2.75,2.75 0 1,0 -5.5,0M272.09,302.4a2.75,2.75 0 1,0 5.5,0a2.75,2.75 0 1,0 -5.5,0M280.50,248.6a2.75,2.75 0 1,0 5.5,0a2.75,2.75 0 1,0 -5.5,0M278.86,282.5a2.75,2.75 0 1,0 5.5,0a2.75,2.75 0 1,0 -5.5,0M270.27,283.4a2.75,2.75 0 1,0 5.5,0a2.75,2.75 0 1,0 -5.5,0M270.47,282.1a2.75,2.75 0 1,0 5.5,0a2.75,2.75 0 1,0 -5.5,0M267.44,267.4a2.75,2.75 0 1,0 5.5,0a2.75,2.75 0 1,0 -5.5,0M278.80,274.1a2.75,2.75 0 1,0 5.5,0a2.75,2.75 0 1,0 -5.5,0M268.54,258.1a2.75,2.75 0 1,0 5.5,0a2.75,2.75 0 1,0 -5.5,0M271.38,280.6a2.75,2.75 0 1,0 5.5,0a2.75,2.75 0 1,0 -5.5,0M278.30,286.6a2.75,2.75 0 1,0 5.5,0a2.75,2.75 0 1,0 -5.5,0M271.84,268.9a2.75,2.75 0 1,0 5.5,0a2.75,2.75 0 1,0 -5.5,0M271.54,265.0a2.75,2.75 0 1,0 5.5,0a2.75,2.75 0 1,0 -5.5,0M268.24,271.7a2.75,2.75 0 1,0 5.5,0a2.75,2.75 0 1,0 -5.5,0M268.01,278.5a2.75,2.75 0 1,0 5.5,0a2.75,2.75 0 1,0 -5.5,0M275.83,279.5a2.75,2.75 0 1,0 5.5,0a2.75,2.75 0 1,0 -5.5,0M269.33,277.1a2.75,2.75 0 1,0 5.5,0a2.75,2.75 0 1,0 -5.5,0M281.71,279.6a2.75,2.75 0 1,0 5.5,0a2.75,2.75 0 1,0 -5.5,0M267.64,259.3a2.75,2.75 0 1,0 5.5,0a2.75,2.75 0 1,0 -5.5,0M271.99,240.0a2.75,2.75 0 1,0 5.5,0a2.75,2.75 0 1,0 -5.5,0M270.01,287.7a2.75,2.75 0 1,0 5.5,0a2.75,2.75 0 1,0 -5.5,0M280.74,299.5a2.75,2.75 0 1,0 5.5,0a2.75,2.75 0 1,0 -5.5,0M278.51,257.7a2.75,2.75 0 1,0 5.5,0a2.75,2.75 0 1,0 -5.5,0M268.92,268.8a2.75,2.75 0 1,0 5.5,0a2.75,2.75 0 1,0 -5.5,0M268.08,283.0a2.75,2.75 0 1,0 5.5,0a2.75,2.75 0 1,0 -5.5,0M268.50,292.6a2.75,2.75 0 1,0 5.5,0a2.75,2.75 0 1,0 -5.5,0M278.34,288.1a2.75,2.75 0 1,0 5.5,0a2.75,2.75 0 1,0 -5.5,0M278.46,297.4a2.75,2.75 0 1,0 5.5,0a2.75,2.75 0 1,0 -5.5,0M276.74,277.8a2.75,2.75 0 1,0 5.5,0a2.75,2.75 0 1,0 -5.5,0M274.59,284.7a2.75,2.75 0 1,0 5.5,0a2.75,2.75 0 1,0 -5.5,0M274.20,284.6a2.75,2.75 0 1,0 5.5,0a2.75,2.75 0 1,0 -5.5,0M276.18,272.2a2.75,2.75 0 1,0 5.5,0a2.75,2.75 0 1,0 -5.5,0M268.88,296.2a2.75,2.75 0 1,0 5.5,0a2.75,2.75 0 1,0 -5.5,0M279.17,287.7a2.75,2.75 0 1,0 5.5,0a2.75,2.75 0 1,0 -5.5,0M278.91,292.9a2.75,2.75 0 1,0 5.5,0a2.75,2.75 0 1,0 -5.5,0M277.46,272.8a2.75,2.75 0 1,0 5.5,0a2.75,2.75 0 1,0 -5.5,0M270.78,293.7a2.75,2.75 0 1,0 5.5,0a2.75,2.75 0 1,0 -5.5,0M270.47,263.0a2.75,2.75 0 1,0 5.5,0a2.75,2.75 0 1,0 -5.5,0M281.95,284.3a2.75,2.75 0 1,0 5.5,0a2.75,2.75 0 1,0 -5.5,0M281.48,240.1a2.75,2.75 0 1,0 5.5,0a2.75,2.75 0 1,0 -5.5,0M278.47,263.7a2.75,2.75 0 1,0 5.5,0a2.75,2.75 0 1,0 -5.5,0M279.03,289.4a2.75,2.75 0 1,0 5.5,0a2.75,2.75 0 1,0 -5.5,0M274.12,271.9a2.75,2.75 0 1,0 5.5,0a2.75,2.75 0 1,0 -5.5,0M280.41,281.1a2.75,2.75 0 1,0 5.5,0a2.75,2.75 0 1,0 -5.5,0M277.61,254.7a2.75,2.75 0 1,0 5.5,0a2.75,2.75 0 1,0 -5.5,0M273.82,301.3a2.75,2.75 0 1,0 5.5,0a2.75,2.75 0 1,0 -5.5,0M277.47,287.3a2.75,2.75 0 1,0 5.5,0a2.75,2.75 0 1,0 -5.5,0M268.44,278.1a2.75,2.75 0 1,0 5.5,0a2.75,2.75 0 1,0 -5.5,0M273.17,284.6a2.75,2.75 0 1,0 5.5,0a2.75,2.75 0 1,0 -5.5,0M279.91,283.3a2.75,2.75 0 1,0 5.5,0a2.75,2.75 0 1,0 -5.5,0M274.45,299.3a2.75,2.75 0 1,0 5.5,0a2.75,2.75 0 1,0 -5.5,0M282.39,281.9a2.75,2.75 0 1,0 5.5,0a2.75,2.75 0 1,0 -5.5,0M291.92,283.6a2.75,2.75 0 1,0 5.5,0a2.75,2.75 0 1,0 -5.5,0M286.80,264.7a2.75,2.75 0 1,0 5.5,0a2.75,2.75 0 1,0 -5.5,0M284.05,294.1a2.75,2.75 0 1,0 5.5,0a2.75,2.75 0 1,0 -5.5,0M291.35,281.6a2.75,2.75 0 1,0 5.5,0a2.75,2.75 0 1,0 -5.5,0M286.45,281.5a2.75,2.75 0 1,0 5.5,0a2.75,2.75 0 1,0 -5.5,0M289.10,264.9a2.75,2.75 0 1,0 5.5,0a2.75,2.75 0 1,0 -5.5,0M289.76,287.0a2.75,2.75 0 1,0 5.5,0a2.75,2.75 0 1,0 -5.5,0M284.20,281.2a2.75,2.75 0 1,0 5.5,0a2.75,2.75 0 1,0 -5.5,0M292.09,296.4a2.75,2.75 0 1,0 5.5,0a2.75,2.75 0 1,0 -5.5,0M287.88,277.5a2.75,2.75 0 1,0 5.5,0a2.75,2.75 0 1,0 -5.5,0M282.82,268.7a2.75,2.75 0 1,0 5.5,0a2.75,2.75 0 1,0 -5.5,0M287.62,283.3a2.75,2.75 0 1,0 5.5,0a2.75,2.75 0 1,0 -5.5,0M282.43,272.1a2.75,2.75 0 1,0 5.5,0a2.75,2.75 0 1,0 -5.5,0M292.04,286.4a2.75,2.75 0 1,0 5.5,0a2.75,2.75 0 1,0 -5.5,0M288.91,270.3a2.75,2.75 0 1,0 5.5,0a2.75,2.75 0 1,0 -5.5,0M286.04,280.5a2.75,2.75 0 1,0 5.5,0a2.75,2.75 0 1,0 -5.5,0M290.24,279.5a2.75,2.75 0 1,0 5.5,0a2.75,2.75 0 1,0 -5.5,0M290.19,281.6a2.75,2.75 0 1,0 5.5,0a2.75,2.75 0 1,0 -5.5,0M289.25,276.4a2.75,2.75 0 1,0 5.5,0a2.75,2.75 0 1,0 -5.5,0M284.60,273.2a2.75,2.75 0 1,0 5.5,0a2.75,2.75 0 1,0 -5.5,0M283.18,281.3a2.75,2.75 0 1,0 5.5,0a2.75,2.75 0 1,0 -5.5,0M290.81,275.7a2.75,2.75 0 1,0 5.5,0a2.75,2.75 0 1,0 -5.5,0M291.13,283.6a2.75,2.75 0 1,0 5.5,0a2.75,2.75 0 1,0 -5.5,0M285.71,279.0a2.75,2.75 0 1,0 5.5,0a2.75,2.75 0 1,0 -5.5,0M286.12,257.9a2.75,2.75 0 1,0 5.5,0a2.75,2.75 0 1,0 -5.5,0M286.28,281.3a2.75,2.75 0 1,0 5.5,0a2.75,2.75 0 1,0 -5.5,0M285.02,296.8a2.75,2.75 0 1,0 5.5,0a2.75,2.75 0 1,0 -5.5,0M291.63,285.2a2.75,2.75 0 1,0 5.5,0a2.75,2.75 0 1,0 -5.5,0M287.57,288.3a2.75,2.75 0 1,0 5.5,0a2.75,2.75 0 1,0 -5.5,0M289.34,286.8a2.75,2.75 0 1,0 5.5,0a2.75,2.75 0 1,0 -5.5,0M288.30,276.9a2.75,2.75 0 1,0 5.5,0a2.75,2.75 0 1,0 -5.5,0M283.15,267.7a2.75,2.75 0 1,0 5.5,0a2.75,2.75 0 1,0 -5.5,0M282.97,290.6a2.75,2.75 0 1,0 5.5,0a2.75,2.75 0 1,0 -5.5,0M283.73,293.2a2.75,2.75 0 1,0 5.5,0a2.75,2.75 0 1,0 -5.5,0M287.22,288.0a2.75,2.75 0 1,0 5.5,0a2.75,2.75 0 1,0 -5.5,0M288.53,286.5a2.75,2.75 0 1,0 5.5,0a2.75,2.75 0 1,0 -5.5,0M292.21,286.1a2.75,2.75 0 1,0 5.5,0a2.75,2.75 0 1,0 -5.5,0M291.26,281.6a2.75,2.75 0 1,0 5.5,0a2.75,2.75 0 1,0 -5.5,0M289.64,284.8a2.75,2.75 0 1,0 5.5,0a2.75,2.75 0 1,0 -5.5,0M286.08,282.1a2.75,2.75 0 1,0 5.5,0a2.75,2.75 0 1,0 -5.5,0M285.70,285.4a2.75,2.75 0 1,0 5.5,0a2.75,2.75 0 1,0 -5.5,0M289.22,271.9a2.75,2.75 0 1,0 5.5,0a2.75,2.75 0 1,0 -5.5,0M285.71,275.2a2.75,2.75 0 1,0 5.5,0a2.75,2.75 0 1,0 -5.5,0M289.91,288.0a2.75,2.75 0 1,0 5.5,0a2.75,2.75 0 1,0 -5.5,0M289.54,278.3a2.75,2.75 0 1,0 5.5,0a2.75,2.75 0 1,0 -5.5,0M283.45,256.2a2.75,2.75 0 1,0 5.5,0a2.75,2.75 0 1,0 -5.5,0M290.29,283.3a2.75,2.75 0 1,0 5.5,0a2.75,2.75 0 1,0 -5.5,0M283.18,257.6a2.75,2.75 0 1,0 5.5,0a2.75,2.75 0 1,0 -5.5,0M285.43,302.2a2.75,2.75 0 1,0 5.5,0a2.75,2.75 0 1,0 -5.5,0M292.00,289.6a2.75,2.75 0 1,0 5.5,0a2.75,2.75 0 1,0 -5.5,0M288.76,289.1a2.75,2.75 0 1,0 5.5,0a2.75,2.75 0 1,0 -5.5,0M290.81,274.9a2.75,2.75 0 1,0 5.5,0a2.75,2.75 0 1,0 -5.5,0M291.52,270.0a2.75,2.75 0 1,0 5.5,0a2.75,2.75 0 1,0 -5.5,0M284.90,279.7a2.75,2.75 0 1,0 5.5,0a2.75,2.75 0 1,0 -5.5,0M290.21,282.2a2.75,2.75 0 1,0 5.5,0a2.75,2.75 0 1,0 -5.5,0M285.97,273.8a2.75,2.75 0 1,0 5.5,0a2.75,2.75 0 1,0 -5.5,0M282.90,283.6a2.75,2.75 0 1,0 5.5,0a2.75,2.75 0 1,0 -5.5,0M283.32,289.2a2.75,2.75 0 1,0 5.5,0a2.75,2.75 0 1,0 -5.5,0M283.51,288.3a2.75,2.75 0 1,0 5.5,0a2.75,2.75 0 1,0 -5.5,0M302.52,290.4a2.75,2.75 0 1,0 5.5,0a2.75,2.75 0 1,0 -5.5,0M299.52,322.6a2.75,2.75 0 1,0 5.5,0a2.75,2.75 0 1,0 -5.5,0M292.34,306.1a2.75,2.75 0 1,0 5.5,0a2.75,2.75 0 1,0 -5.5,0M300.55,300.4a2.75,2.75 0 1,0 5.5,0a2.75,2.75 0 1,0 -5.5,0M298.65,276.8a2.75,2.75 0 1,0 5.5,0a2.75,2.75 0 1,0 -5.5,0M295.12,296.6a2.75,2.75 0 1,0 5.5,0a2.75,2.75 0 1,0 -5.5,0M293.71,284.3a2.75,2.75 0 1,0 5.5,0a2.75,2.75 0 1,0 -5.5,0M297.03,290.2a2.75,2.75 0 1,0 5.5,0a2.75,2.75 0 1,0 -5.5,0M298.98,292.4a2.75,2.75 0 1,0 5.5,0a2.75,2.75 0 1,0 -5.5,0M297.99,282.8a2.75,2.75 0 1,0 5.5,0a2.75,2.75 0 1,0 -5.5,0M292.45,298.5a2.75,2.75 0 1,0 5.5,0a2.75,2.75 0 1,0 -5.5,0M294.02,312.7a2.75,2.75 0 1,0 5.5,0a2.75,2.75 0 1,0 -5.5,0M300.42,304.3a2.75,2.75 0 1,0 5.5,0a2.75,2.75 0 1,0 -5.5,0M298.80,292.7a2.75,2.75 0 1,0 5.5,0a2.75,2.75 0 1,0 -5.5,0M301.16,262.3a2.75,2.75 0 1,0 5.5,0a2.75,2.75 0 1,0 -5.5,0M297.22,305.0a2.75,2.75 0 1,0 5.5,0a2.75,2.75 0 1,0 -5.5,0M295.33,304.9a2.75,2.75 0 1,0 5.5,0a2.75,2.75 0 1,0 -5.5,0M301.83,287.0a2.75,2.75 0 1,0 5.5,0a2.75,2.75 0 1,0 -5.5,0M294.87,283.0a2.75,2.75 0 1,0 5.5,0a2.75,2.75 0 1,0 -5.5,0M292.98,299.0a2.75,2.75 0 1,0 5.5,0a2.75,2.75 0 1,0 -5.5,0M296.67,278.3a2.75,2.75 0 1,0 5.5,0a2.75,2.75 0 1,0 -5.5,0M297.67,301.0a2.75,2.75 0 1,0 5.5,0a2.75,2.75 0 1,0 -5.5,0M294.76,274.5a2.75,2.75 0 1,0 5.5,0a2.75,2.75 0 1,0 -5.5,0M303.72,276.8a2.75,2.75 0 1,0 5.5,0a2.75,2.75 0 1,0 -5.5,0M295.03,290.0a2.75,2.75 0 1,0 5.5,0a2.75,2.75 0 1,0 -5.5,0M293.71,269.2a2.75,2.75 0 1,0 5.5,0a2.75,2.75 0 1,0 -5.5,0M300.19,289.8a2.75,2.75 0 1,0 5.5,0a2.75,2.75 0 1,0 -5.5,0M293.97,297.3a2.75,2.75 0 1,0 5.5,0a2.75,2.75 0 1,0 -5.5,0M295.61,271.2a2.75,2.75 0 1,0 5.5,0a2.75,2.75 0 1,0 -5.5,0M297.22,302.9a2.75,2.75 0 1,0 5.5,0a2.75,2.75 0 1,0 -5.5,0M295.54,281.9a2.75,2.75 0 1,0 5.5,0a2.75,2.75 0 1,0 -5.5,0M300.10,297.6a2.75,2.75 0 1,0 5.5,0a2.75,2.75 0 1,0 -5.5,0M293.93,292.8a2.75,2.75 0 1,0 5.5,0a2.75,2.75 0 1,0 -5.5,0M299.98,283.4a2.75,2.75 0 1,0 5.5,0a2.75,2.75 0 1,0 -5.5,0M293.64,282.5a2.75,2.75 0 1,0 5.5,0a2.75,2.75 0 1,0 -5.5,0M299.21,265.8a2.75,2.75 0 1,0 5.5,0a2.75,2.75 0 1,0 -5.5,0M304.00,280.0a2.75,2.75 0 1,0 5.5,0a2.75,2.75 0 1,0 -5.5,0M301.69,279.0a2.75,2.75 0 1,0 5.5,0a2.75,2.75 0 1,0 -5.5,0M303.61,313.0a2.75,2.75 0 1,0 5.5,0a2.75,2.75 0 1,0 -5.5,0M298.80,304.2a2.75,2.75 0 1,0 5.5,0a2.75,2.75 0 1,0 -5.5,0M294.15,270.6a2.75,2.75 0 1,0 5.5,0a2.75,2.75 0 1,0 -5.5,0M296.69,301.2a2.75,2.75 0 1,0 5.5,0a2.75,2.75 0 1,0 -5.5,0M301.57,293.0a2.75,2.75 0 1,0 5.5,0a2.75,2.75 0 1,0 -5.5,0M293.83,284.5a2.75,2.75 0 1,0 5.5,0a2.75,2.75 0 1,0 -5.5,0M300.22,296.4a2.75,2.75 0 1,0 5.5,0a2.75,2.75 0 1,0 -5.5,0M296.12,301.0a2.75,2.75 0 1,0 5.5,0a2.75,2.75 0 1,0 -5.5,0M303.26,281.9a2.75,2.75 0 1,0 5.5,0a2.75,2.75 0 1,0 -5.5,0M296.46,286.0a2.75,2.75 0 1,0 5.5,0a2.75,2.75 0 1,0 -5.5,0M296.12,292.2a2.75,2.75 0 1,0 5.5,0a2.75,2.75 0 1,0 -5.5,0M295.52,276.1a2.75,2.75 0 1,0 5.5,0a2.75,2.75 0 1,0 -5.5,0M298.73,292.5a2.75,2.75 0 1,0 5.5,0a2.75,2.75 0 1,0 -5.5,0M303.68,288.8a2.75,2.75 0 1,0 5.5,0a2.75,2.75 0 1,0 -5.5,0M298.73,280.4a2.75,2.75 0 1,0 5.5,0a2.75,2.75 0 1,0 -5.5,0M301.15,278.1a2.75,2.75 0 1,0 5.5,0a2.75,2.75 0 1,0 -5.5,0M298.50,294.2a2.75,2.75 0 1,0 5.5,0a2.75,2.75 0 1,0 -5.5,0M293.24,302.2a2.75,2.75 0 1,0 5.5,0a2.75,2.75 0 1,0 -5.5,0M299.29,294.6a2.75,2.75 0 1,0 5.5,0a2.75,2.75 0 1,0 -5.5,0M299.38,277.9a2.75,2.75 0 1,0 5.5,0a2.75,2.75 0 1,0 -5.5,0M299.40,300.5a2.75,2.75 0 1,0 5.5,0a2.75,2.75 0 1,0 -5.5,0M295.83,292.3a2.75,2.75 0 1,0 5.5,0a2.75,2.75 0 1,0 -5.5,0M295.45,298.3a2.75,2.75 0 1,0 5.5,0a2.75,2.75 0 1,0 -5.5,0M296.20,306.3a2.75,2.75 0 1,0 5.5,0a2.75,2.75 0 1,0 -5.5,0M292.62,277.3a2.75,2.75 0 1,0 5.5,0a2.75,2.75 0 1,0 -5.5,0M294.18,288.0a2.75,2.75 0 1,0 5.5,0a2.75,2.75 0 1,0 -5.5,0M295.69,281.6a2.75,2.75 0 1,0 5.5,0a2.75,2.75 0 1,0 -5.5,0M298.40,277.7a2.75,2.75 0 1,0 5.5,0a2.75,2.75 0 1,0 -5.5,0M303.19,318.1a2.75,2.75 0 1,0 5.5,0a2.75,2.75 0 1,0 -5.5,0M300.66,303.1a2.75,2.75 0 1,0 5.5,0a2.75,2.75 0 1,0 -5.5,0M298.44,265.2a2.75,2.75 0 1,0 5.5,0a2.75,2.75 0 1,0 -5.5,0M300.85,295.9a2.75,2.75 0 1,0 5.5,0a2.75,2.75 0 1,0 -5.5,0M297.58,282.2a2.75,2.75 0 1,0 5.5,0a2.75,2.75 0 1,0 -5.5,0M292.82,306.1a2.75,2.75 0 1,0 5.5,0a2.75,2.75 0 1,0 -5.5,0M300.49,291.1a2.75,2.75 0 1,0 5.5,0a2.75,2.75 0 1,0 -5.5,0M300.71,287.5a2.75,2.75 0 1,0 5.5,0a2.75,2.75 0 1,0 -5.5,0M300.11,292.0a2.75,2.75 0 1,0 5.5,0a2.75,2.75 0 1,0 -5.5,0M302.48,295.4a2.75,2.75 0 1,0 5.5,0a2.75,2.75 0 1,0 -5.5,0M301.63,290.4a2.75,2.75 0 1,0 5.5,0a2.75,2.75 0 1,0 -5.5,0M302.20,286.9a2.75,2.75 0 1,0 5.5,0a2.75,2.75 0 1,0 -5.5,0M292.80,288.0a2.75,2.75 0 1,0 5.5,0a2.75,2.75 0 1,0 -5.5,0M304.25,297.1a2.75,2.75 0 1,0 5.5,0a2.75,2.75 0 1,0 -5.5,0M299.31,274.1a2.75,2.75 0 1,0 5.5,0a2.75,2.75 0 1,0 -5.5,0M299.36,290.0a2.75,2.75 0 1,0 5.5,0a2.75,2.75 0 1,0 -5.5,0M299.61,288.3a2.75,2.75 0 1,0 5.5,0a2.75,2.75 0 1,0 -5.5,0M295.49,283.2a2.75,2.75 0 1,0 5.5,0a2.75,2.75 0 1,0 -5.5,0M295.89,300.3a2.75,2.75 0 1,0 5.5,0a2.75,2.75 0 1,0 -5.5,0M307.38,267.7a2.75,2.75 0 1,0 5.5,0a2.75,2.75 0 1,0 -5.5,0M304.65,278.7a2.75,2.75 0 1,0 5.5,0a2.75,2.75 0 1,0 -5.5,0M311.52,270.5a2.75,2.75 0 1,0 5.5,0a2.75,2.75 0 1,0 -5.5,0M309.87,284.7a2.75,2.75 0 1,0 5.5,0a2.75,2.75 0 1,0 -5.5,0M305.88,289.9a2.75,2.75 0 1,0 5.5,0a2.75,2.75 0 1,0 -5.5,0M309.36,287.6a2.75,2.75 0 1,0 5.5,0a2.75,2.75 0 1,0 -5.5,0M313.69,275.1a2.75,2.75 0 1,0 5.5,0a2.75,2.75 0 1,0 -5.5,0M310.31,272.0a2.75,2.75 0 1,0 5.5,0a2.75,2.75 0 1,0 -5.5,0M307.34,296.7a2.75,2.75 0 1,0 5.5,0a2.75,2.75 0 1,0 -5.5,0M312.32,282.5a2.75,2.75 0 1,0 5.5,0a2.75,2.75 0 1,0 -5.5,0M308.20,317.6a2.75,2.75 0 1,0 5.5,0a2.75,2.75 0 1,0 -5.5,0M304.40,271.9a2.75,2.75 0 1,0 5.5,0a2.75,2.75 0 1,0 -5.5,0M305.05,295.8a2.75,2.75 0 1,0 5.5,0a2.75,2.75 0 1,0 -5.5,0M313.87,284.7a2.75,2.75 0 1,0 5.5,0a2.75,2.75 0 1,0 -5.5,0M305.19,272.6a2.75,2.75 0 1,0 5.5,0a2.75,2.75 0 1,0 -5.5,0M312.08,304.4a2.75,2.75 0 1,0 5.5,0a2.75,2.75 0 1,0 -5.5,0M304.56,285.8a2.75,2.75 0 1,0 5.5,0a2.75,2.75 0 1,0 -5.5,0M308.49,270.6a2.75,2.75 0 1,0 5.5,0a2.75,2.75 0 1,0 -5.5,0M307.07,279.2a2.75,2.75 0 1,0 5.5,0a2.75,2.75 0 1,0 -5.5,0M307.69,299.2a2.75,2.75 0 1,0 5.5,0a2.75,2.75 0 1,0 -5.5,0M305.16,265.7a2.75,2.75 0 1,0 5.5,0a2.75,2.75 0 1,0 -5.5,0M308.27,304.6a2.75,2.75 0 1,0 5.5,0a2.75,2.75 0 1,0 -5.5,0M311.84,294.2a2.75,2.75 0 1,0 5.5,0a2.75,2.75 0 1,0 -5.5,0M309.50,279.8a2.75,2.75 0 1,0 5.5,0a2.75,2.75 0 1,0 -5.5,0M305.57,304.3a2.75,2.75 0 1,0 5.5,0a2.75,2.75 0 1,0 -5.5,0M312.31,310.1a2.75,2.75 0 1,0 5.5,0a2.75,2.75 0 1,0 -5.5,0M312.96,293.0a2.75,2.75 0 1,0 5.5,0a2.75,2.75 0 1,0 -5.5,0M308.81,286.6a2.75,2.75 0 1,0 5.5,0a2.75,2.75 0 1,0 -5.5,0M307.84,311.6a2.75,2.75 0 1,0 5.5,0a2.75,2.75 0 1,0 -5.5,0M304.43,306.4a2.75,2.75 0 1,0 5.5,0a2.75,2.75 0 1,0 -5.5,0M304.96,270.1a2.75,2.75 0 1,0 5.5,0a2.75,2.75 0 1,0 -5.5,0M308.00,280.9a2.75,2.75 0 1,0 5.5,0a2.75,2.75 0 1,0 -5.5,0M305.38,280.8a2.75,2.75 0 1,0 5.5,0a2.75,2.75 0 1,0 -5.5,0M313.94,277.9a2.75,2.75 0 1,0 5.5,0a2.75,2.75 0 1,0 -5.5,0M310.69,261.6a2.75,2.75 0 1,0 5.5,0a2.75,2.75 0 1,0 -5.5,0M307.38,297.5a2.75,2.75 0 1,0 5.5,0a2.75,2.75 0 1,0 -5.5,0M310.10,285.3a2.75,2.75 0 1,0 5.5,0a2.75,2.75 0 1,0 -5.5,0M305.93,285.5a2.75,2.75 0 1,0 5.5,0a2.75,2.75 0 1,0 -5.5,0M313.42,305.1a2.75,2.75 0 1,0 5.5,0a2.75,2.75 0 1,0 -5.5,0M309.26,275.5a2.75,2.75 0 1,0 5.5,0a2.75,2.75 0 1,0 -5.5,0M311.25,283.1a2.75,2.75 0 1,0 5.5,0a2.75,2.75 0 1,0 -5.5,0M306.07,288.1a2.75,2.75 0 1,0 5.5,0a2.75,2.75 0 1,0 -5.5,0M308.99,277.5a2.75,2.75 0 1,0 5.5,0a2.75,2.75 0 1,0 -5.5,0M311.39,282.3a2.75,2.75 0 1,0 5.5,0a2.75,2.75 0 1,0 -5.5,0M308.12,295.5a2.75,2.75 0 1,0 5.5,0a2.75,2.75 0 1,0 -5.5,0M304.90,283.9a2.75,2.75 0 1,0 5.5,0a2.75,2.75 0 1,0 -5.5,0M308.94,304.0a2.75,2.75 0 1,0 5.5,0a2.75,2.75 0 1,0 -5.5,0M312.49,272.7a2.75,2.75 0 1,0 5.5,0a2.75,2.75 0 1,0 -5.5,0M308.87,287.0a2.75,2.75 0 1,0 5.5,0a2.75,2.75 0 1,0 -5.5,0M314.05,262.6a2.75,2.75 0 1,0 5.5,0a2.75,2.75 0 1,0 -5.5,0M309.85,282.2a2.75,2.75 0 1,0 5.5,0a2.75,2.75 0 1,0 -5.5,0M313.08,273.5a2.75,2.75 0 1,0 5.5,0a2.75,2.75 0 1,0 -5.5,0M304.58,304.5a2.75,2.75 0 1,0 5.5,0a2.75,2.75 0 1,0 -5.5,0M310.56,295.2a2.75,2.75 0 1,0 5.5,0a2.75,2.75 0 1,0 -5.5,0M309.35,291.6a2.75,2.75 0 1,0 5.5,0a2.75,2.75 0 1,0 -5.5,0M307.83,311.7a2.75,2.75 0 1,0 5.5,0a2.75,2.75 0 1,0 -5.5,0M313.27,305.7a2.75,2.75 0 1,0 5.5,0a2.75,2.75 0 1,0 -5.5,0M305.17,294.8a2.75,2.75 0 1,0 5.5,0a2.75,2.75 0 1,0 -5.5,0M309.11,273.6a2.75,2.75 0 1,0 5.5,0a2.75,2.75 0 1,0 -5.5,0M307.31,262.2a2.75,2.75 0 1,0 5.5,0a2.75,2.75 0 1,0 -5.5,0M65.45,246.0a2.75,2.75 0 1,0 5.5,0a2.75,2.75 0 1,0 -5.5,0M86.25,238.4a2.75,2.75 0 1,0 5.5,0a2.75,2.75 0 1,0 -5.5,0M81.95,248.8a2.75,2.75 0 1,0 5.5,0a2.75,2.75 0 1,0 -5.5,0M86.25,247.8a2.75,2.75 0 1,0 5.5,0a2.75,2.75 0 1,0 -5.5,0M102.55,249.7a2.75,2.75 0 1,0 5.5,0a2.75,2.75 0 1,0 -5.5,0M65.65,255.3a2.75,2.75 0 1,0 5.5,0a2.75,2.75 0 1,0 -5.5,0M85.75,253.5a2.75,2.75 0 1,0 5.5,0a2.75,2.75 0 1,0 -5.5,0M92.25,254.4a2.75,2.75 0 1,0 5.5,0a2.75,2.75 0 1,0 -5.5,0M96.95,255.3a2.75,2.75 0 1,0 5.5,0a2.75,2.75 0 1,0 -5.5,0M64.15,299.0a2.75,2.75 0 1,0 5.5,0a2.75,2.75 0 1,0 -5.5,0M80.05,293.5a2.75,2.75 0 1,0 5.5,0a2.75,2.75 0 1,0 -5.5,0M91.25,305.6a2.75,2.75 0 1,0 5.5,0a2.75,2.75 0 1,0 -5.5,0M91.25,311.0a2.75,2.75 0 1,0 5.5,0a2.75,2.75 0 1,0 -5.5,0M98.85,304.7a2.75,2.75 0 1,0 5.5,0a2.75,2.75 0 1,0 -5.5,0M117.85,237.1a2.75,2.75 0 1,0 5.5,0a2.75,2.75 0 1,0 -5.5,0M103.25,249.7a2.75,2.75 0 1,0 5.5,0a2.75,2.75 0 1,0 -5.5,0M127.55,259.1a2.75,2.75 0 1,0 5.5,0a2.75,2.75 0 1,0 -5.5,0M118.25,259.1a2.75,2.75 0 1,0 5.5,0a2.75,2.75 0 1,0 -5.5,0M109.75,259.1a2.75,2.75 0 1,0 5.5,0a2.75,2.75 0 1,0 -5.5,0M137.85,266.0a2.75,2.75 0 1,0 5.5,0a2.75,2.75 0 1,0 -5.5,0M143.55,270.3a2.75,2.75 0 1,0 5.5,0a2.75,2.75 0 1,0 -5.5,0M136.05,275.0a2.75,2.75 0 1,0 5.5,0a2.75,2.75 0 1,0 -5.5,0M119.55,274.0a2.75,2.75 0 1,0 5.5,0a2.75,2.75 0 1,0 -5.5,0M158.55,279.7a2.75,2.75 0 1,0 5.5,0a2.75,2.75 0 1,0 -5.5,0M115.35,311.0a2.75,2.75 0 1,0 5.5,0a2.75,2.75 0 1,0 -5.5,0M121.95,315.6a2.75,2.75 0 1,0 5.5,0a2.75,2.75 0 1,0 -5.5,0M128.55,318.5a2.75,2.75 0 1,0 5.5,0a2.75,2.75 0 1,0 -5.5,0M141.65,311.0a2.75,2.75 0 1,0 5.5,0a2.75,2.75 0 1,0 -5.5,0M150.05,315.3a2.75,2.75 0 1,0 5.5,0a2.75,2.75 0 1,0 -5.5,0M124.75,341.9a2.75,2.75 0 1,0 5.5,0a2.75,2.75 0 1,0 -5.5,0M209.75,239.4a2.75,2.75 0 1,0 5.5,0a2.75,2.75 0 1,0 -5.5,0M209.75,251.6a2.75,2.75 0 1,0 5.5,0a2.75,2.75 0 1,0 -5.5,0M209.75,258.1a2.75,2.75 0 1,0 5.5,0a2.75,2.75 0 1,0 -5.5,0M211.05,264.7a2.75,2.75 0 1,0 5.5,0a2.75,2.75 0 1,0 -5.5,0M177.85,262.8a2.75,2.75 0 1,0 5.5,0a2.75,2.75 0 1,0 -5.5,0M192.85,264.7a2.75,2.75 0 1,0 5.5,0a2.75,2.75 0 1,0 -5.5,0M171.25,268.5a2.75,2.75 0 1,0 5.5,0a2.75,2.75 0 1,0 -5.5,0M176.05,269.4a2.75,2.75 0 1,0 5.5,0a2.75,2.75 0 1,0 -5.5,0M180.75,270.3a2.75,2.75 0 1,0 5.5,0a2.75,2.75 0 1,0 -5.5,0M185.35,272.8a2.75,2.75 0 1,0 5.5,0a2.75,2.75 0 1,0 -5.5,0M166.65,271.7a2.75,2.75 0 1,0 5.5,0a2.75,2.75 0 1,0 -5.5,0M195.75,274.0a2.75,2.75 0 1,0 5.5,0a2.75,2.75 0 1,0 -5.5,0M211.65,272.2a2.75,2.75 0 1,0 5.5,0a2.75,2.75 0 1,0 -5.5,0M161.05,311.0a2.75,2.75 0 1,0 5.5,0a2.75,2.75 0 1,0 -5.5,0M168.55,324.1a2.75,2.75 0 1,0 5.5,0a2.75,2.75 0 1,0 -5.5,0M176.95,322.2a2.75,2.75 0 1,0 5.5,0a2.75,2.75 0 1,0 -5.5,0M173.25,316.6a2.75,2.75 0 1,0 5.5,0a2.75,2.75 0 1,0 -5.5,0M182.55,311.9a2.75,2.75 0 1,0 5.5,0a2.75,2.75 0 1,0 -5.5,0M189.15,317.5a2.75,2.75 0 1,0 5.5,0a2.75,2.75 0 1,0 -5.5,0M196.65,315.6a2.75,2.75 0 1,0 5.5,0a2.75,2.75 0 1,0 -5.5,0M211.65,316.6a2.75,2.75 0 1,0 5.5,0a2.75,2.75 0 1,0 -5.5,0M253.55,244.2a2.75,2.75 0 1,0 5.5,0a2.75,2.75 0 1,0 -5.5,0M261.05,245.3a2.75,2.75 0 1,0 5.5,0a2.75,2.75 0 1,0 -5.5,0M247.85,248.5a2.75,2.75 0 1,0 5.5,0a2.75,2.75 0 1,0 -5.5,0M253.55,249.4a2.75,2.75 0 1,0 5.5,0a2.75,2.75 0 1,0 -5.5,0M236.65,279.4a2.75,2.75 0 1,0 5.5,0a2.75,2.75 0 1,0 -5.5,0M237.55,286.0a2.75,2.75 0 1,0 5.5,0a2.75,2.75 0 1,0 -5.5,0M247.85,257.8a2.75,2.75 0 1,0 5.5,0a2.75,2.75 0 1,0 -5.5,0M261.45,256.0a2.75,2.75 0 1,0 5.5,0a2.75,2.75 0 1,0 -5.5,0M265.75,259.7a2.75,2.75 0 1,0 5.5,0a2.75,2.75 0 1,0 -5.5,0M270.45,252.2a2.75,2.75 0 1,0 5.5,0a2.75,2.75 0 1,0 -5.5,0M213.25,316.6a2.75,2.75 0 1,0 5.5,0a2.75,2.75 0 1,0 -5.5,0M258.25,311.9a2.75,2.75 0 1,0 5.5,0a2.75,2.75 0 1,0 -5.5,0M269.45,325.0a2.75,2.75 0 1,0 5.5,0a2.75,2.75 0 1,0 -5.5,0M292.55,191.3a2.75,2.75 0 1,0 5.5,0a2.75,2.75 0 1,0 -5.5,0M292.55,222.8a2.75,2.75 0 1,0 5.5,0a2.75,2.75 0 1,0 -5.5,0M305.75,219.0a2.75,2.75 0 1,0 5.5,0a2.75,2.75 0 1,0 -5.5,0M305.75,221.3a2.75,2.75 0 1,0 5.5,0a2.75,2.75 0 1,0 -5.5,0M308.95,225.6a2.75,2.75 0 1,0 5.5,0a2.75,2.75 0 1,0 -5.5,0M296.35,229.2a2.75,2.75 0 1,0 5.5,0a2.75,2.75 0 1,0 -5.5,0M296.85,231.0a2.75,2.75 0 1,0 5.5,0a2.75,2.75 0 1,0 -5.5,0M308.95,235.3a2.75,2.75 0 1,0 5.5,0a2.75,2.75 0 1,0 -5.5,0M308.95,240.0a2.75,2.75 0 1,0 5.5,0a2.75,2.75 0 1,0 -5.5,0M312.25,241.0a2.75,2.75 0 1,0 5.5,0a2.75,2.75 0 1,0 -5.5,0M312.25,242.9a2.75,2.75 0 1,0 5.5,0a2.75,2.75 0 1,0 -5.5,0M292.55,241.5a2.75,2.75 0 1,0 5.5,0a2.75,2.75 0 1,0 -5.5,0M297.25,241.9a2.75,2.75 0 1,0 5.5,0a2.75,2.75 0 1,0 -5.5,0M277.05,238.2a2.75,2.75 0 1,0 5.5,0a2.75,2.75 0 1,0 -5.5,0M277.55,245.7a2.75,2.75 0 1,0 5.5,0a2.75,2.75 0 1,0 -5.5,0M280.35,244.7a2.75,2.75 0 1,0 5.5,0a2.75,2.75 0 1,0 -5.5,0M281.35,247.5a2.75,2.75 0 1,0 5.5,0a2.75,2.75 0 1,0 -5.5,0M304.75,247.9a2.75,2.75 0 1,0 5.5,0a2.75,2.75 0 1,0 -5.5,0M299.15,324.7a2.75,2.75 0 1,0 5.5,0a2.75,2.75 0 1,0 -5.5,0" fill="#ff0000"/></g>
<path d="M53.5,181H327.5V342H53.5ZM53.5,335.43h2M327.5,335.43h-2M53.5,328.70h4.3M327.5,328.70h-4.3M53.5,321.97h2M327.5,321.97h-2M53.5,315.25h2M327.5,315.25h-2M53.5,308.52h2M327.5,308.52h-2M53.5,301.80h2M327.5,301.80h-2M53.5,295.07h2M327.5,295.07h-2M53.5,288.35h2M327.5,288.35h-2M53.5,281.62h2M327.5,281.62h-2M53.5,274.90h2M327.5,274.90h-2M53.5,268.18h2M327.5,268.18h-2M53.5,261.45h4.3M327.5,261.45h-4.3M53.5,254.72h2M327.5,254.72h-2M53.5,248.00h2M327.5,248.00h-2M53.5,241.27h2M327.5,241.27h-2M53.5,234.55h2M327.5,234.55h-2M53.5,227.82h2M327.5,227.82h-2M53.5,221.10h2M327.5,221.10h-2M53.5,214.38h2M327.5,214.38h-2M53.5,207.65h2M327.5,207.65h-2M53.5,200.93h2M327.5,200.93h-2M53.5,194.20h4.3M327.5,194.20h-4.3M53.5,187.47h2M327.5,187.47h-2M53.30,342v-4.3M53.30,181v4.3M67.02,342v-2M67.02,181v2M80.74,342v-2M80.74,181v2M94.46,342v-2M94.46,181v2M108.18,342v-4.3M108.18,181v4.3M121.90,342v-2M121.90,181v2M135.62,342v-2M135.62,181v2M149.34,342v-2M149.34,181v2M163.06,342v-4.3M163.06,181v4.3M176.78,342v-2M176.78,181v2M190.50,342v-2M190.50,181v2M204.22,342v-2M204.22,181v2M217.94,342v-4.3M217.94,181v4.3M231.66,342v-2M231.66,181v2M245.38,342v-2M245.38,181v2M259.10,342v-2M259.10,181v2M272.82,342v-4.3M272.82,181v4.3M286.54,342v-2M286.54,181v2M300.26,342v-2M300.26,181v2M313.98,342v-2M313.98,181v2" fill="none" stroke="#8a8a8a" stroke-width="1"/>
<text x="102.4" y="15.6" style="font-family:'Liberation Sans',Arial,sans-serif;stroke:#000;stroke-width:0.2px;font-size:7.7px">SRPMv2*0.975</text>
<text x="102.6" y="24.4" style="font-family:'Liberation Sans',Arial,sans-serif;stroke:#000;stroke-width:0.2px;font-size:7.8px">TIM</text>
<text x="51.4" y="147.25" text-anchor="end" style="font-family:'Liberation Sans',Arial,sans-serif;stroke:#000;stroke-width:0.2px;font-size:8.25px">1360.0</text>
<text x="51.4" y="128.12" text-anchor="end" style="font-family:'Liberation Sans',Arial,sans-serif;stroke:#000;stroke-width:0.2px;font-size:8.25px">1360.4</text>
<text x="51.4" y="108.99" text-anchor="end" style="font-family:'Liberation Sans',Arial,sans-serif;stroke:#000;stroke-width:0.2px;font-size:8.25px">1360.8</text>
<text x="51.4" y="89.86" text-anchor="end" style="font-family:'Liberation Sans',Arial,sans-serif;stroke:#000;stroke-width:0.2px;font-size:8.25px">1361.2</text>
<text x="51.4" y="70.73" text-anchor="end" style="font-family:'Liberation Sans',Arial,sans-serif;stroke:#000;stroke-width:0.2px;font-size:8.25px">1361.6</text>
<text x="51.4" y="51.60" text-anchor="end" style="font-family:'Liberation Sans',Arial,sans-serif;stroke:#000;stroke-width:0.2px;font-size:8.25px">1362.0</text>
<text x="51.4" y="32.47" text-anchor="end" style="font-family:'Liberation Sans',Arial,sans-serif;stroke:#000;stroke-width:0.2px;font-size:8.25px">1362.4</text>
<text x="51.4" y="13.34" text-anchor="end" style="font-family:'Liberation Sans',Arial,sans-serif;stroke:#000;stroke-width:0.2px;font-size:8.25px">1362.8</text>
<text x="53.30" y="157" text-anchor="middle" style="font-family:'Liberation Sans',Arial,sans-serif;stroke:#000;stroke-width:0.2px;font-size:8.25px">8/1/2010</text>
<text x="110.05" y="157" text-anchor="middle" style="font-family:'Liberation Sans',Arial,sans-serif;stroke:#000;stroke-width:0.2px;font-size:8.25px">8/1/2011</text>
<text x="166.80" y="157" text-anchor="middle" style="font-family:'Liberation Sans',Arial,sans-serif;stroke:#000;stroke-width:0.2px;font-size:8.25px">8/1/2012</text>
<text x="223.55" y="157" text-anchor="middle" style="font-family:'Liberation Sans',Arial,sans-serif;stroke:#000;stroke-width:0.2px;font-size:8.25px">8/1/2013</text>
<text x="280.30" y="157" text-anchor="middle" style="font-family:'Liberation Sans',Arial,sans-serif;stroke:#000;stroke-width:0.2px;font-size:8.25px">8/1/2014</text>
<text x="190.5" y="168.6" text-anchor="middle" style="font-family:'Liberation Sans',Arial,sans-serif;stroke:#000;stroke-width:0.2px;font-size:10px">Date</text>
<text transform="translate(21.6,93.8) rotate(-90)" style="font-family:'Liberation Sans',Arial,sans-serif;stroke:#000;stroke-width:0.2px;font-size:10px">TSI (W m<tspan dy="-3.5" style="font-size:6.5px">-2</tspan><tspan dy="3.5">)</tspan></text>
<text x="47.9" y="332.90" text-anchor="end" style="font-family:'Liberation Sans',Arial,sans-serif;stroke:#000;stroke-width:0.2px;font-size:11.7px">0.025</text>
<text x="47.9" y="265.65" text-anchor="end" style="font-family:'Liberation Sans',Arial,sans-serif;stroke:#000;stroke-width:0.2px;font-size:11.7px">0.026</text>
<text x="47.9" y="198.40" text-anchor="end" style="font-family:'Liberation Sans',Arial,sans-serif;stroke:#000;stroke-width:0.2px;font-size:11.7px">0.027</text>
<text x="53.30" y="355.8" text-anchor="middle" style="font-family:'Liberation Sans',Arial,sans-serif;stroke:#000;stroke-width:0.2px;font-size:12px">8/1/2010</text>
<text x="108.18" y="355.8" text-anchor="middle" style="font-family:'Liberation Sans',Arial,sans-serif;stroke:#000;stroke-width:0.2px;font-size:12px">8/1/2011</text>
<text x="163.06" y="355.8" text-anchor="middle" style="font-family:'Liberation Sans',Arial,sans-serif;stroke:#000;stroke-width:0.2px;font-size:12px">8/1/2012</text>
<text x="217.94" y="355.8" text-anchor="middle" style="font-family:'Liberation Sans',Arial,sans-serif;stroke:#000;stroke-width:0.2px;font-size:12px">8/1/2013</text>
<text x="272.82" y="355.8" text-anchor="middle" style="font-family:'Liberation Sans',Arial,sans-serif;stroke:#000;stroke-width:0.2px;font-size:12px">8/1/2014</text>
<text x="327.70" y="355.8" text-anchor="middle" style="font-family:'Liberation Sans',Arial,sans-serif;stroke:#000;stroke-width:0.2px;font-size:12px">8/1/2015</text>
<text x="190.4" y="372.3" text-anchor="middle" style="font-family:'Liberation Sans',Arial,sans-serif;stroke:#000;stroke-width:0.2px;font-size:14.5px">Date</text>
<text transform="translate(10.9,323.6) rotate(-90)" style="font-family:'Liberation Sans',Arial,sans-serif;stroke:#000;stroke-width:0.2px;font-size:14.5px">Relative Difference</text>
</svg></body></html>
